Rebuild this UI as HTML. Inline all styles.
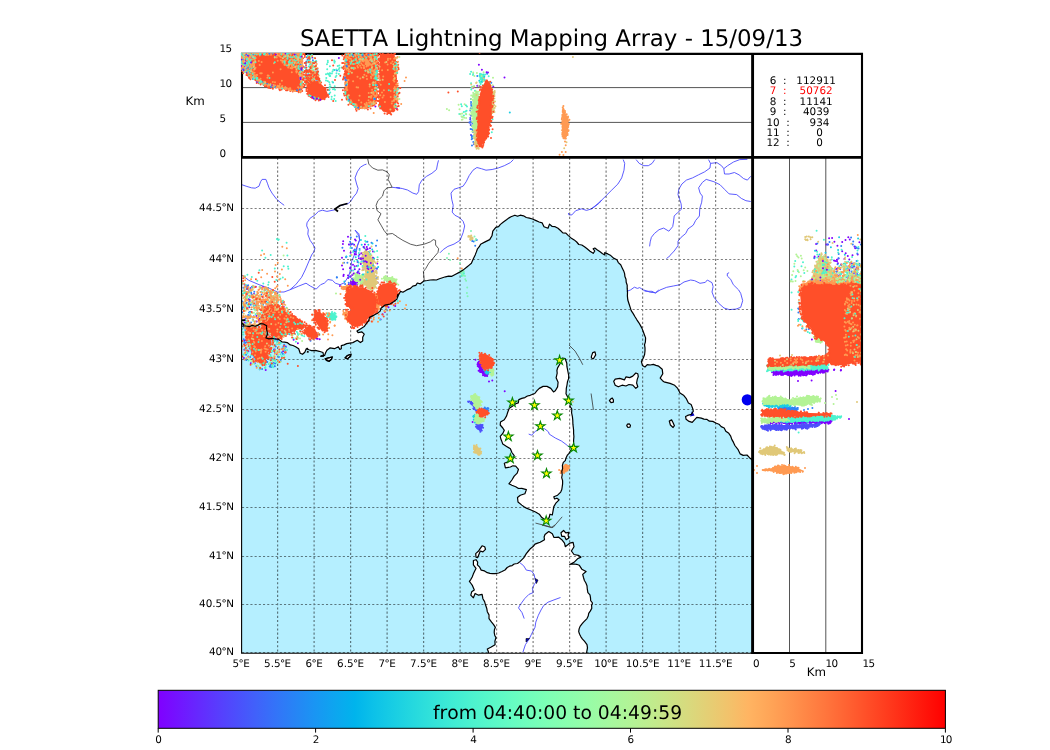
<!DOCTYPE html>
<html><head><meta charset="utf-8"><title>SAETTA Lightning Mapping Array</title>
<style>
html,body{margin:0;padding:0;background:#fff;}
body{width:1050px;height:750px;overflow:hidden;}
svg{display:block;}
text{font-family:"DejaVu Sans","Liberation Sans",sans-serif;fill:#000;font-kerning:none;text-rendering:geometricPrecision;}
.t{font-size:10.4px;}
.n{letter-spacing:-0.7px;}
</style></head><body>
<svg width="1050" height="750" viewBox="0 0 1050 750">
<rect width="1050" height="750" fill="#fff"/>
<defs><linearGradient id="rb" x1="0" x2="1" y1="0" y2="0"><stop offset="0.000" stop-color="#8000ff"/><stop offset="0.025" stop-color="#7314ff"/><stop offset="0.050" stop-color="#6628fe"/><stop offset="0.075" stop-color="#593cfd"/><stop offset="0.100" stop-color="#4c4ffc"/><stop offset="0.125" stop-color="#4062fa"/><stop offset="0.150" stop-color="#3374f8"/><stop offset="0.175" stop-color="#2685f5"/><stop offset="0.200" stop-color="#1996f3"/><stop offset="0.225" stop-color="#0da6ef"/><stop offset="0.250" stop-color="#00b4ec"/><stop offset="0.275" stop-color="#0dc2e8"/><stop offset="0.300" stop-color="#19cee3"/><stop offset="0.325" stop-color="#26d9de"/><stop offset="0.350" stop-color="#33e3d9"/><stop offset="0.375" stop-color="#40ecd4"/><stop offset="0.400" stop-color="#4df3ce"/><stop offset="0.425" stop-color="#59f8c8"/><stop offset="0.450" stop-color="#66fcc2"/><stop offset="0.475" stop-color="#73febb"/><stop offset="0.500" stop-color="#80ffb4"/><stop offset="0.525" stop-color="#8cfead"/><stop offset="0.550" stop-color="#99fca6"/><stop offset="0.575" stop-color="#a6f89e"/><stop offset="0.600" stop-color="#b2f396"/><stop offset="0.625" stop-color="#bfec8e"/><stop offset="0.650" stop-color="#cce385"/><stop offset="0.675" stop-color="#d9d97d"/><stop offset="0.700" stop-color="#e5ce74"/><stop offset="0.725" stop-color="#f2c26b"/><stop offset="0.750" stop-color="#ffb462"/><stop offset="0.775" stop-color="#ffa658"/><stop offset="0.800" stop-color="#ff964f"/><stop offset="0.825" stop-color="#ff8545"/><stop offset="0.850" stop-color="#ff743c"/><stop offset="0.875" stop-color="#ff6232"/><stop offset="0.900" stop-color="#ff4f28"/><stop offset="0.925" stop-color="#ff3c1e"/><stop offset="0.950" stop-color="#ff2814"/><stop offset="0.975" stop-color="#ff140a"/><stop offset="1.000" stop-color="#ff0000"/></linearGradient><clipPath id="cm"><rect x="242" y="158" width="510" height="495"/></clipPath><clipPath id="ct"><rect x="241" y="53" width="511" height="104"/></clipPath><clipPath id="cr"><rect x="753" y="158" width="109" height="495"/></clipPath></defs>
<rect x="241.6" y="157.4" width="511" height="495.6" fill="#b5efff"/>
<g clip-path="url(#cm)">
<path d="M241.0 157.0L240.3 326.6L255.2 326.3L262.9 323.8L266.7 325.8L267.4 334.2L265.9 338.0L278.1 339.1L281.9 341.8L287.2 342.6L290.3 344.9L295.6 346.7L298.7 348.7L300.2 353.2L302.5 354.3L304.8 352.2L306.3 348.7L311.6 350.6L319.2 351.3L323.0 352.5L323.5 355.5L320.8 356.3L324.6 355.5L326.9 350.2L329.9 347.9L334.5 348.7L338.3 346.7L339.8 349.4L341.3 348.7L341.3 345.6L346.7 343.6L352.8 342.6L357.3 340.3L360.4 342.6L362.7 341.0L362.7 337.2L364.2 334.2L361.9 331.9L358.1 332.7L357.0 331.1L360.4 328.9L364.2 326.6L368.8 320.5L369.5 317.4L374.1 315.1L377.9 312.9L381.0 308.3L384.8 305.2L390.1 304.0L393.9 301.4L397.0 299.1L397.7 294.6L397.5 297.5L400.6 291.4L402.9 292.2L406.7 289.9L410.5 288.4L412.8 286.1L415.8 285.3L417.3 283.0L420.4 283.8L424.2 280.8L430.3 280.0L436.4 280.0L442.5 277.7L448.6 276.2L454.7 274.7L459.2 272.4L463.0 270.1L466.9 267.0L471.4 263.2L473.0 259.4L475.2 254.9L477.5 248.8L480.6 244.2L485.1 241.9L489.7 239.6L492.0 235.8L492.8 231.2L495.8 227.4L500.4 224.4L506.5 219.8L511.0 216.8L514.9 215.2L520.2 215.2L526.3 217.5L532.4 219.0L536.1 220.6L542.2 222.9L544.0 226.7L548.0 228.2L549.5 224.1L555.1 226.7L560.5 230.5L562.8 232.8L568.1 235.4L574.2 239.9L578.8 244.5L581.8 245.0L587.1 248.8L593.2 253.3L594.8 251.0L593.2 248.8L594.8 248.0L600.1 251.8L604.7 254.9L604.7 252.6L610.8 255.6L616.9 259.7L620.7 264.8L623.7 270.9L626.0 279.2L627.2 288.4L627.4 296.1L629.0 303.7L631.2 310.6L635.0 316.7L638.9 322.8L641.9 328.1L644.2 334.2L645.4 341.8L645.0 351.0L643.4 357.8L641.4 361.6L642.4 365.4L645.0 367.0L647.2 364.7L653.3 364.4L658.7 366.2L662.2 369.2L662.8 373.8L660.2 378.1L662.5 380.7L664.0 381.8L670.1 383.4L674.7 385.3L677.7 388.4L680.0 393.0L683.5 395.2L686.1 398.3L688.4 402.9L691.1 404.4L692.6 408.2L693.3 411.2L691.4 414.3L687.6 415.4L685.6 416.6L686.1 419.3L689.1 421.4L692.2 422.4L694.5 419.9L696.8 417.3L701.3 418.1L706.7 419.3L712.8 421.4L718.9 424.2L724.2 428.0L728.8 433.3L731.8 439.4L734.9 445.5L737.9 449.3L740.2 453.9L743.2 455.4L747.0 455.0L752.4 460.0L753.0 157.0Z" fill="#fff"/>
<path d="M325.3 358.9L328.4 357.8L332.2 357.0L331.4 359.3L329.1 361.3L326.6 360.4ZM345.1 357.8L347.4 355.5L350.9 354.3L350.5 356.3L347.4 358.9ZM613.7 381.4L615.2 379.1L619.8 378.4L624.4 379.9L625.9 376.9L629.7 377.6L632.8 376.1L635.8 373.0L637.8 373.8L637.3 379.1L636.6 383.0L637.8 386.8L635.8 388.3L632.8 385.2L629.0 384.5L625.9 386.0L622.1 385.2L618.3 386.8L615.2 385.2ZM609.4 400.6L610.7 399.0L612.2 398.0L613.4 399.8L613.4 402.1L611.0 402.6ZM626.7 425.7L627.4 424.2L629.3 423.9L630.5 425.4L629.9 427.2L627.9 427.5ZM669.3 421.1L671.6 419.9L673.1 422.7L674.4 425.7L673.1 427.5L670.4 425.0ZM591.4 356.4L592.7 352.6L595.0 351.9L595.7 354.9L593.4 358.7L591.4 358.0ZM562.2 358.0L559.9 364.0L557.6 367.9L557.2 373.2L556.1 377.8L558.1 382.3L557.6 386.9L555.3 390.7L553.5 391.9L550.8 388.4L547.0 386.4L543.1 386.4L539.3 388.4L537.0 390.7L534.8 393.5L530.2 395.3L524.9 397.6L518.8 399.6L518.3 402.9L515.7 403.8L512.4 406.3L509.3 408.2L507.8 412.0L506.6 415.9L504.3 419.7L500.5 422.0L500.2 425.0L502.8 428.0L504.3 430.3L502.8 433.4L500.2 436.4L501.2 440.2L501.2 439.6L502.8 444.1L506.6 446.4L510.4 448.7L511.9 452.5L514.2 455.6L512.7 459.4L508.1 461.7L504.3 463.2L505.4 467.8L510.4 467.0L515.7 466.2L518.5 469.3L517.2 473.1L514.2 476.1L511.9 480.0L508.9 483.8L511.9 485.3L515.7 486.8L521.8 488.3L526.4 489.6L524.9 493.7L520.3 495.2L517.5 497.5L518.0 502.0L521.8 505.1L526.4 508.1L531.0 510.0L535.5 512.0L539.3 514.2L541.6 517.3L544.7 519.6L547.0 520.3L549.2 517.3L550.0 514.2L552.3 515.0L553.0 511.2L553.8 506.6L556.1 502.8L559.1 499.8L556.9 498.2L554.6 499.0L553.8 496.7L557.6 495.2L560.7 492.1L562.2 486.8L562.6 480.7L562.2 474.6L562.6 468.5L563.3 462.4L566.0 457.9L569.0 453.3L571.3 449.5L573.6 444.1L573.9 436.5L573.6 433.4L572.9 424.2L572.4 416.6L571.8 409.0L570.6 402.9L568.3 398.3L566.0 393.8L566.3 388.4L567.5 381.6L568.7 375.5L567.5 369.4L566.8 363.3L565.2 358.7ZM489.0 654.2L487.3 649.0L490.8 647.3L495.1 644.7L496.0 637.7L494.2 632.5L495.4 627.3L491.6 622.1L489.0 618.6L487.3 611.7L485.5 604.8L482.9 598.7L482.1 594.4L478.6 595.2L475.1 593.5L473.4 597.8L470.8 595.2L471.7 591.8L474.3 590.0L472.5 585.7L469.4 581.4L472.2 577.0L476.0 568.4L473.4 564.9L473.4 560.5L476.0 559.7L477.4 564.9L481.2 570.1L487.3 572.7L495.1 573.6L502.0 571.5L507.2 567.5L514.2 564.0L520.2 561.4L523.7 557.9L526.3 553.6L530.6 548.4L535.0 544.1L540.2 542.3L544.5 539.7L545.0 534.5L548.8 531.6L552.3 533.7L554.0 537.5L558.4 537.1L561.8 539.7L564.5 543.2L565.3 546.7L569.7 543.2L573.1 542.3L574.0 546.7L571.4 551.0L574.0 554.5L578.3 555.3L580.9 557.1L577.5 558.8L574.0 562.3L569.7 564.5L574.0 564.0L579.2 565.2L581.8 569.2L586.1 571.5L582.7 574.4L584.4 580.5L587.0 585.7L587.9 592.6L590.5 597.8L592.5 603.0L591.8 608.2L588.7 613.4L587.0 618.6L583.5 622.1L580.1 626.4L578.7 631.6L580.9 636.8L584.4 641.2L587.0 644.7L586.1 654.2ZM476.0 557.1L475.7 553.6L478.6 551.0L480.3 548.4L482.1 545.8L484.7 546.7L485.5 549.3L482.9 551.9L480.3 551.0L478.6 555.3L477.7 557.6ZM561.0 532.8L563.6 530.5L565.8 532.8L568.8 532.3L568.8 538.0L566.2 539.7L564.5 536.3L561.8 536.3Z" fill="#fff"/>
<path d="M601.6 200.0L599.3 203.0L595.5 206.1L591.0 209.1L586.4 210.4L581.8 208.8L575.7 210.7L571.9 214.9L568.9 214.9L568.4 213.0M623.2 159.6L624.7 163.4L624.0 170.2L621.7 177.9L617.9 184.0L611.8 190.0L605.7 196.1L600.3 201.5L595.0 206.0L591.0 209.1M636.1 159.6L639.2 163.4L643.8 165.7L648.3 165.7L652.1 163.4L654.7 159.6M708.5 159.6L710.5 163.4L710.0 168.0L704.7 171.8L698.6 174.8L692.5 177.9L686.4 180.1L681.9 184.0L678.8 189.3L678.0 194.6L679.6 199.2L681.1 203.8L681.6 209.1L677.3 212.9L674.2 216.0L673.5 222.0L672.7 226.6L668.9 231.2L663.6 228.1L659.0 229.7L654.4 233.5L651.4 237.3L650.2 241.9L649.6 246.4M710.5 163.4L716.9 162.6L721.5 165.7L723.8 168.7L724.5 174.0L729.1 174.0L734.4 172.5L739.0 174.8L743.6 178.6L747.4 180.1L750.7 176.3M723.8 168.7L727.6 165.7L733.7 161.9L739.8 159.6L747.4 159.3M750.7 201.5L745.9 200.7L741.3 198.4L736.7 194.6L729.1 193.9L724.5 189.3L720.0 184.7L713.9 181.7L706.2 179.4L702.4 182.4L698.6 187.8L700.1 193.1L702.4 196.1L701.7 202.2L699.8 208.3L699.4 216.0L695.6 220.5L693.3 225.1L688.0 228.9L685.7 233.5L681.1 237.3L678.0 241.1L678.0 245.7L674.2 251.0L670.4 255.0L670.2 255.6L666.4 258.7M626.8 291.4L630.6 289.9L634.4 287.2L637.4 288.4L639.7 287.6L645.3 291.3L652.0 291.3L655.3 293.1L660.0 290.0L666.7 287.3L673.3 286.0L680.0 284.7L684.0 282.0L690.7 280.0L694.7 280.7L700.0 283.3L705.3 282.4L707.3 280.0L712.0 282.7L713.1 286.7L712.0 292.0L714.0 297.3L718.7 303.3L724.0 308.0L729.3 309.6L736.0 309.1L740.7 307.3L742.7 300.7L740.7 293.3L738.7 290.0L733.3 284.7L730.7 279.3L727.3 276.0L727.3 273.6L729.1 272.7M644.2 290.0L650.3 292.3L655.6 292.7L658.7 290.0M241.8 184.7L246.1 186.2L251.4 187.8L255.2 188.2L259.0 186.2L260.6 181.7L262.1 179.4L265.9 179.4L267.4 183.2L269.0 187.8L272.0 193.1L276.6 199.2L281.1 203.0L284.2 205.3M366.5 164.1L364.2 164.9L360.4 167.2L357.3 171.8L355.0 177.9L356.6 184.0L358.1 188.5L356.6 193.1L353.5 196.9L350.5 201.5L348.2 203.5L339.0 206.0L334.5 209.9L326.9 211.4L322.3 210.2L318.5 211.4L314.7 215.2L310.1 218.2L307.0 222.8L306.7 225.9L308.3 229.7L307.8 234.2L310.1 240.3L312.8 244.1L315.0 248.0L313.9 251.8L311.6 255.0L305.2 270.0L301.6 277.3L295.7 284.7L289.9 289.8L284.0 292.0L277.4 292.0L269.3 288.3L259.1 284.7L248.8 280.3L241.8 275.1M289.9 289.8L298.7 286.1L306.0 283.2L310.4 286.1L316.2 289.1L320.6 284.7L324.3 283.2L328.0 279.5L332.4 280.3L335.3 283.2L340.0 284.7L344.2 282.9L348.6 276.3L350.8 269.0L351.5 261.7L355.2 252.9L357.4 245.5L359.6 239.7L358.9 233.8L355.2 230.1M355.0 230.0L356.6 232.7L358.9 235.8L359.6 240.3L357.3 246.4L355.8 255.0M392.1 187.3L400.0 188.2L396.1 187.5L402.2 188.5L407.5 190.0L412.9 193.1L416.7 194.3L418.6 191.6L419.3 184.7L422.0 180.1L426.6 176.3L431.9 173.3L436.5 169.5L437.5 164.1L438.5 160.3M513.4 159.6L510.4 162.6L504.3 165.7L498.2 168.0L492.1 169.5L486.0 170.2L481.4 168.7L476.9 167.5L473.0 170.2L469.2 175.6L466.2 181.7L463.1 186.2L458.6 187.8L454.0 189.3L451.0 193.1L451.7 199.2L453.2 205.3L452.2 212.1L454.8 215.2L459.3 217.5L463.1 221.3L464.7 225.9L463.1 232.7L460.1 240.3L454.0 244.1L447.9 246.4L443.3 249.5L440.3 252.5L440.2 252.1M528.7 434.1L531.7 435.2L535.5 431.1L540.1 428.5L544.7 428.8L548.5 431.9L549.2 434.1L555.3 438.0L561.4 441.0L566.0 444.4L567.5 445.7L571.3 448.7M519.4 562.3L523.7 565.8L526.3 570.1L531.5 571.0L534.1 574.4L535.0 578.8L536.2 581.4L534.1 584.8L532.4 588.3L533.2 592.6L528.9 594.4L524.6 598.7L520.2 604.8L518.5 607.9L522.0 612.6L524.2 618.6M560.5 597.5L554.0 599.9L548.0 602.2L543.6 605.6L541.0 610.0L538.4 615.2L535.8 622.1L535.0 627.3L531.5 634.2L528.9 639.5L525.4 644.7L522.8 652.5" fill="none" stroke="#4a4aff" stroke-width="0.9" stroke-linejoin="round"/>
<path d="M367.7 158.8L368.8 164.1L372.6 168.0L377.9 170.2L382.5 169.9L387.0 171.8L389.3 174.8L388.1 179.4L390.1 183.2L392.1 187.3L387.0 187.8L384.0 190.8L382.5 196.1L377.9 200.7L376.1 205.3L377.1 210.6L381.0 213.7L377.9 219.8L381.0 225.1L384.0 230.4L387.0 234.2L392.4 233.5L397.0 236.5L396.8 236.6L402.9 240.4L410.5 244.2L416.6 245.7L424.2 244.2L430.3 241.9L433.3 239.6L435.6 240.4L435.6 245.0L438.7 248.8L437.9 252.6L433.3 257.9L428.8 263.2L425.7 268.6L423.4 271.6L424.2 280.0M569.0 345.0L575.1 351.1L579.7 358.7L582.8 364.8M591.1 393.5L593.4 409.8M535.5 523.1L553.0 527.5L562.2 516.8M541.9 525.0L551.4 527.6L554.9 525.0" fill="none" stroke="#333" stroke-width="0.8" stroke-linejoin="round"/>
<circle cx="747.3" cy="399.8" r="5.6" fill="#0000f0"/><path d="M692 411l2.5 4.5l-4.5 1z" fill="#0000c0"/><path d="M347.5 203.5L340 205.5L335 209L338 211.5" fill="none" stroke="#000" stroke-width="1.8"/><path d="M535 578.5l3 1.5l-1.5 3.5zM526 638.5l3.5 0l-3.5 3.5z" fill="#00c" stroke="#000" stroke-width="0.6"/>
</g>
<path d="M277.6 158V653M314.1 158V653M350.6 158V653M387.1 158V653M423.6 158V653M460.1 158V653M496.6 158V653M533.1 158V653M569.6 158V653M606.1 158V653M642.6 158V653M679.1 158V653M715.6 158V653M242 652.5H752M242 604.5H752M242 556.5H752M242 507.5H752M242 458.5H752M242 409.5H752M242 359.5H752M242 309.5H752M242 259.5H752M242 208.5H752" stroke="#000" stroke-width="1.2" stroke-dasharray="2.1 2.1" fill="none" opacity="0.5"/>
<path d="M242 87.6H752M242 122.4H752M789.5 158V653M825.8 158V653" stroke="#555" stroke-width="1" fill="none"/>
<g clip-path="url(#cm)" fill="none" stroke-width="2" stroke-linecap="round">
<path d="M249.3 307.2h0M253.9 293.8h0M244.4 323.0h0M253.3 328.9h0M256.7 310.1h0M255.8 286.7h0M246.2 318.0h0M248.7 299.2h0M249.3 300.3h0M249.0 325.4h0M244.4 320.4h0M249.2 318.0h0M250.2 302.0h0M245.9 303.5h0M252.8 327.9h0M246.8 293.5h0M245.6 318.6h0M247.2 307.7h0M244.5 284.5h0M251.5 328.2h0M247.1 286.1h0M250.5 287.9h0M247.5 288.8h0M249.8 300.0h0M248.8 289.8h0M252.0 287.4h0" stroke="#8000ff"/>
<path d="M263.3 319.1h0M283.6 302.5h0M257.6 303.6h0M264.2 314.5h0M256.2 327.4h0M256.7 321.4h0M270.2 304.3h0M266.0 306.5h0M277.4 301.2h0M263.0 297.3h0M283.7 306.8h0M256.4 316.1h0M262.8 308.1h0M259.1 318.8h0M263.1 287.1h0M266.1 317.4h0M259.5 320.6h0M273.4 298.1h0" stroke="#8000ff"/>
<path d="M263.1 332.6h0M285.6 352.4h0M257.9 340.8h0M264.9 334.3h0M253.6 330.1h0M250.8 363.2h0M263.5 344.9h0M270.6 334.2h0M243.9 357.9h0M265.0 351.0h0M246.4 339.9h0M267.2 349.1h0M283.1 351.2h0M261.9 339.3h0M256.3 356.2h0M285.7 346.5h0M274.8 351.7h0M252.8 339.7h0M265.9 356.7h0M270.4 332.2h0M246.0 339.8h0M263.6 335.5h0M248.4 351.3h0M261.0 352.0h0M254.9 363.3h0M251.8 352.0h0M244.4 349.8h0M267.7 330.9h0M244.4 340.5h0M284.8 350.6h0M270.4 333.2h0M275.6 339.0h0M254.0 349.0h0M248.4 335.2h0M276.9 354.2h0M274.9 349.6h0M253.9 332.0h0M266.9 352.1h0M263.9 332.7h0M263.8 356.9h0" stroke="#8000ff"/>
<path d="M309.7 335.1h0M319.7 339.2h0M293.6 339.7h0M295.1 333.9h0M317.6 338.8h0M289.6 334.2h0M316.3 338.5h0M309.0 338.6h0M316.6 332.9h0" stroke="#8000ff"/>
<path d="M265.7 370.1h0M340.0 286.1h0M297.9 343.3h0" stroke="#8000ff"/>
<path d="M350.8 280.7L351.5 285.1L355.9 285.9L356.7 282.2L353.7 280.0Z" fill="#8000ff"/>
<path d="M352.3 278.7h0M356.5 286.2h0M354.8 285.2h0M357.2 282.7h0M353.8 280.2h0M353.5 286.5h0M352.1 279.2h0M355.0 285.7h0M353.9 279.3h0M350.6 283.1h0M351.1 280.9h0M357.2 284.5h0M352.2 284.4h0M352.0 284.6h0M354.5 285.2h0M352.7 281.0h0M351.6 285.3h0" stroke="#8000ff"/>
<path d="M353.4 279.6h0M372.8 264.0h0M371.8 261.3h0M374.8 268.6h0M354.9 249.6h0M360.8 285.8h0M363.2 269.5h0M343.2 241.3h0M366.8 255.7h0M365.5 251.7h0M377.3 263.4h0M372.2 264.6h0M377.7 282.6h0M348.9 244.5h0M348.0 275.5h0M352.2 279.0h0M372.3 264.0h0M359.5 254.4h0M363.4 258.5h0M350.4 244.2h0M355.8 240.6h0M344.0 250.7h0M350.6 276.5h0M351.6 244.3h0M343.7 274.8h0M342.0 257.8h0M343.4 276.0h0M348.8 284.3h0M374.2 282.4h0M355.3 283.4h0M362.8 255.0h0M348.2 277.9h0M354.7 266.3h0M354.1 244.7h0M350.3 267.6h0M376.9 268.8h0M361.5 259.6h0M374.8 278.4h0M358.3 271.4h0M342.0 265.5h0M342.9 244.0h0M364.2 255.8h0M359.4 269.3h0M366.8 247.1h0M353.0 264.7h0M350.0 268.3h0M343.1 269.3h0M362.0 283.0h0M355.0 239.5h0M358.9 258.2h0M355.9 254.6h0M365.1 282.1h0M370.0 248.2h0M356.9 265.9h0M348.0 236.7h0M373.9 279.0h0M359.3 273.5h0M350.6 252.8h0M364.9 244.5h0M351.6 270.6h0M354.8 251.6h0M361.3 253.2h0M352.2 275.1h0" stroke="#8000ff"/>
<path d="M395.2 305.9h0M380.6 319.5h0M388.5 307.2h0M382.6 314.2h0M385.0 312.1h0" stroke="#8000ff"/>
<path d="M477.4 362.6L479.0 369.0L482.2 373.8L487.1 376.2L488.7 373.8L484.6 371.4L481.4 367.4L479.8 362.6Z" fill="#8000ff"/>
<path d="M480.6 371.0h0M484.1 375.0h0M478.6 366.7h0M481.5 372.0h0M485.4 371.9h0M482.8 373.6h0M485.7 375.8h0M481.0 371.1h0M482.0 367.7h0M480.5 369.7h0M477.5 364.2h0M487.2 373.6h0M477.7 365.9h0M478.1 362.6h0M484.8 375.7h0M482.7 369.4h0M488.2 373.5h0M487.0 373.0h0M484.9 376.0h0M479.8 370.0h0M487.2 372.9h0M483.0 375.2h0M483.6 370.4h0M478.6 370.7h0M479.7 364.6h0M488.3 373.5h0M481.4 365.0h0M480.9 366.4h0M480.1 371.9h0M485.8 375.3h0M487.2 375.9h0M486.5 371.9h0M479.0 361.6h0M477.8 364.1h0" stroke="#8000ff"/>
<path d="M475.5 359.7h0M489.0 381.5h0M492.3 380.6h0M504.7 391.2h0" stroke="#8000ff"/>
<path d="M472.6 421.9h0" stroke="#8000ff"/>
<path d="M468.6 401.1L471.0 403.5L474.2 408.3L476.6 410.7L475.0 407.5L471.8 401.9Z" fill="#4d4ffc"/>
<path d="M470.0 401.3h0M471.1 401.7h0M474.4 406.3h0M471.0 401.4h0M468.1 401.6h0M477.0 411.2h0M475.6 409.0h0M472.5 404.9h0M475.0 405.7h0M474.6 407.9h0M471.9 404.2h0M472.3 403.0h0M470.6 403.4h0M468.4 402.0h0M470.8 402.8h0M476.2 410.8h0M476.2 410.0h0M473.8 408.2h0M473.3 408.5h0M474.8 409.1h0M472.6 405.2h0M475.6 410.0h0M472.9 403.6h0" stroke="#4d4ffc"/>
<path d="M476.6 424.3L476.6 428.3L479.8 431.2L482.2 428.3L483.0 425.1L480.6 423.5Z" fill="#4d4ffc"/>
<path d="M476.5 424.5h0M481.1 429.6h0M482.4 427.4h0M476.3 424.5h0M482.4 427.0h0M477.7 424.7h0M480.6 429.4h0M482.6 425.1h0M476.4 426.8h0M480.6 429.0h0M477.8 428.5h0M476.9 424.1h0M478.5 424.5h0M480.4 431.8h0M483.1 427.8h0M475.9 426.8h0M481.8 430.4h0M477.2 428.2h0M480.7 430.7h0M478.2 429.1h0" stroke="#4d4ffc"/>
<path d="M243.5 290.8h0M245.4 330.0h0M242.3 308.3h0M247.5 298.6h0M254.3 291.8h0M243.4 287.7h0M246.7 302.7h0M255.7 305.0h0M250.1 311.7h0M245.7 285.4h0M252.9 319.5h0M246.5 289.0h0M256.6 306.0h0M251.1 292.4h0M251.3 293.8h0M247.0 287.1h0M246.8 294.1h0M249.0 306.5h0M248.1 285.2h0M256.4 301.9h0M245.2 327.8h0M248.2 314.9h0M249.2 301.5h0M246.0 322.4h0M249.4 325.4h0M246.1 322.9h0M243.5 326.1h0M249.0 331.1h0M244.1 327.7h0M242.8 307.2h0M244.1 306.7h0M242.5 301.6h0M249.8 324.3h0M252.5 295.0h0M253.2 304.0h0M251.0 322.5h0M250.1 315.3h0M250.6 316.9h0M242.8 321.0h0M253.8 316.3h0M242.3 312.2h0M250.0 302.8h0M248.0 316.2h0M249.0 312.4h0M254.7 328.3h0M253.6 306.1h0M252.0 286.7h0M250.8 304.8h0" stroke="#2f80f7"/>
<path d="M266.2 301.6h0M263.3 314.1h0M265.1 289.7h0M269.1 292.3h0M266.2 296.4h0M263.1 304.0h0M260.7 318.1h0M268.9 307.8h0M268.1 302.7h0M261.1 303.4h0M263.0 317.9h0M263.5 306.6h0M281.7 302.0h0M276.3 299.7h0M272.8 310.1h0M264.7 308.4h0M268.2 288.0h0M277.2 307.3h0M261.4 294.6h0M274.1 298.8h0" stroke="#2f80f7"/>
<path d="M251.1 335.6h0M275.2 352.9h0M273.9 349.5h0M264.3 344.7h0M247.2 335.4h0M273.6 362.9h0M277.7 341.1h0M274.6 366.2h0M250.2 357.0h0M256.0 360.8h0M274.8 345.1h0M274.9 366.3h0M270.5 357.4h0M245.3 348.8h0M262.7 361.7h0M246.9 340.6h0M281.8 352.4h0M271.1 366.9h0M253.4 355.4h0M271.5 351.3h0M265.0 351.7h0M283.0 354.1h0M255.4 337.2h0M246.4 350.5h0M269.7 342.6h0M259.1 353.8h0M265.8 357.5h0M270.6 344.2h0M267.2 362.1h0M285.6 347.3h0M268.4 334.8h0M263.9 353.6h0M244.6 359.3h0M270.6 363.7h0M256.2 337.7h0M256.5 343.6h0M268.2 342.9h0M271.2 332.9h0M254.6 351.9h0M284.1 358.6h0M260.2 344.5h0M256.4 365.9h0M249.7 348.4h0M246.0 354.7h0M250.6 343.2h0M270.4 365.5h0M275.9 339.7h0M246.3 360.1h0M259.5 351.3h0M262.1 368.9h0M263.7 338.6h0M255.1 348.8h0M269.7 366.5h0M259.8 367.8h0M248.2 356.6h0M262.9 351.8h0M250.7 336.7h0M278.9 357.1h0M267.6 333.0h0M264.8 346.9h0M259.1 342.7h0M271.3 351.9h0M270.0 340.7h0M244.3 342.1h0M257.0 338.0h0M252.8 349.3h0M269.1 346.7h0M272.0 359.7h0M277.5 343.7h0M272.5 359.3h0M275.1 363.5h0M246.0 342.5h0M271.1 332.3h0M248.8 346.3h0M259.0 337.1h0M280.6 361.1h0M275.7 346.4h0M260.0 328.9h0M254.3 357.4h0M246.5 340.3h0M259.7 369.3h0M266.1 360.9h0M282.3 348.5h0M270.5 340.0h0M243.7 339.3h0M255.9 357.6h0M244.6 344.1h0M271.8 363.4h0M284.2 344.8h0M268.2 339.8h0M255.2 354.2h0M264.7 336.2h0M283.4 346.5h0" stroke="#2f80f7"/>
<path d="M310.5 340.7h0M305.8 327.9h0M312.2 332.2h0M313.0 332.8h0" stroke="#2f80f7"/>
<path d="M336.8 277.3h0" stroke="#2f80f7"/>
<path d="M350.3 244.8h0M371.5 242.8h0M350.1 241.8h0M372.3 280.7h0M376.0 245.8h0M359.6 249.0h0M348.7 282.7h0M377.1 268.2h0M356.8 236.5h0M368.5 252.0h0M345.1 284.0h0M370.7 270.2h0M352.7 243.7h0M346.1 257.3h0M358.1 271.5h0M351.9 248.1h0M344.0 262.8h0M352.7 279.1h0M375.8 279.1h0M347.4 262.8h0M356.6 273.6h0M376.3 270.9h0M369.1 283.1h0M358.9 276.4h0M364.5 248.3h0M367.4 241.7h0M368.3 262.3h0M349.4 276.8h0M377.1 240.4h0M358.6 256.0h0M350.8 237.4h0M377.3 277.8h0M346.4 256.7h0M342.4 247.7h0M375.3 276.1h0M371.3 280.2h0M372.4 270.4h0" stroke="#2f80f7"/>
<path d="M336.9 277.5h0" stroke="#2f80f7"/>
<path d="M482.2 408.3L483.8 411.5L487.9 410.7L487.9 407.8L484.6 407.5Z" fill="#2f80f7"/>
<path d="M488.4 410.7h0M482.9 410.0h0M488.4 408.4h0M486.0 411.0h0M484.8 407.5h0M485.4 411.8h0M483.1 410.5h0M488.0 408.8h0M481.7 409.6h0M487.1 410.7h0M484.2 410.8h0M485.8 410.5h0M487.9 408.0h0M482.2 410.2h0" stroke="#2f80f7"/>
<path d="M472.2 241.1h0M475.2 245.7h0M473.7 241.4h0M476.8 239.9h0" stroke="#2f80f7"/>
<path d="M346.3 256.4h0M360.9 239.9h0M363.4 247.1h0M344.4 281.4h0M368.3 244.7h0M369.5 263.3h0M372.0 276.9h0M369.4 252.1h0M361.7 244.7h0M350.1 256.1h0M358.1 265.6h0M366.0 241.7h0M364.1 264.6h0M372.5 243.5h0M378.2 267.1h0M372.2 249.6h0M355.7 257.2h0" stroke="#1acee3"/>
<path d="M484.6 370.6L487.1 373.8L489.5 372.2L488.7 369.8Z" fill="#1acee3"/>
<path d="M486.6 370.7h0M490.2 372.3h0M486.0 370.7h0M486.4 373.6h0M484.2 370.3h0M486.8 373.4h0M488.6 370.1h0M485.4 372.6h0M485.9 370.7h0M486.3 371.9h0M487.2 372.6h0M488.0 373.4h0" stroke="#1acee3"/>
<path d="M473.9 415.5L474.2 421.6L475.5 421.9L475.5 415.5Z" fill="#1acee3"/>
<path d="M474.1 416.3h0M475.2 418.4h0M475.6 415.9h0M475.0 422.6h0M474.0 417.1h0M473.6 416.0h0M476.4 419.5h0M474.5 417.5h0M473.8 419.8h0M474.9 414.8h0M473.8 417.0h0M474.6 415.2h0M473.2 416.6h0M474.4 417.7h0" stroke="#1acee3"/>
<path d="M257.3 280.7h0M244.9 276.3h0M263.3 283.6h0M276.3 280.0h0M280.4 278.8h0M251.8 277.1h0M259.4 270.3h0M247.4 274.7h0M282.8 277.5h0M268.2 284.7h0M268.7 282.2h0" stroke="#4df3ce"/>
<path d="M270.7 255.1h0M287.4 255.6h0M288.0 266.6h0M274.8 268.6h0M278.2 239.9h0M265.4 257.7h0M276.9 239.0h0M286.6 242.8h0M278.8 239.4h0M262.1 250.6h0M283.7 266.3h0M288.4 268.7h0" stroke="#4df3ce"/>
<path d="M253.5 300.8h0M251.5 328.7h0M253.2 320.8h0M245.9 284.9h0M244.3 304.3h0M244.4 293.0h0M242.6 295.4h0M247.0 298.6h0M246.6 309.3h0M245.2 325.7h0M243.0 291.2h0M245.7 317.4h0M250.4 296.6h0M242.7 283.4h0M251.1 302.9h0M244.5 308.5h0M245.4 291.9h0M242.7 294.1h0M243.3 305.7h0M248.4 306.0h0M245.3 292.4h0M251.7 288.0h0M244.0 324.0h0M255.6 314.2h0M249.3 317.8h0M245.5 299.8h0M253.2 295.9h0M243.4 293.6h0M247.3 321.8h0M245.7 306.5h0M249.0 292.3h0M248.5 330.0h0M250.0 313.1h0M249.7 297.5h0M245.2 306.4h0M253.9 307.9h0M254.1 305.5h0M247.0 296.1h0M249.3 289.2h0M249.8 291.8h0M249.5 296.1h0M248.5 304.9h0M250.6 316.2h0M253.6 285.9h0M246.0 298.5h0M247.7 304.4h0M250.3 317.9h0M247.1 327.8h0M245.9 297.8h0M256.8 298.1h0M248.3 321.8h0M254.3 309.5h0M245.8 320.6h0M247.6 320.9h0M245.1 325.1h0M243.4 304.0h0M243.1 303.5h0M248.0 292.2h0M252.1 327.4h0M243.5 305.6h0" stroke="#4df3ce"/>
<path d="M275.6 309.6h0M287.3 311.1h0M257.5 308.8h0M273.3 296.0h0M270.3 297.0h0M271.8 307.7h0M257.8 314.8h0M279.5 295.0h0M280.0 305.7h0M270.7 294.3h0M266.6 310.1h0M264.0 312.5h0M278.1 304.4h0M257.1 313.2h0M267.7 288.9h0M274.9 299.5h0M270.5 308.8h0M260.6 310.3h0M268.0 295.8h0M272.9 305.0h0M261.6 319.1h0M283.0 300.7h0M263.2 306.5h0M259.3 314.3h0M263.4 319.1h0M258.1 314.5h0M256.2 304.2h0M277.8 300.3h0M275.9 293.2h0M256.1 327.7h0M266.0 316.1h0M261.5 312.5h0M271.3 291.4h0M261.5 317.2h0M286.6 307.8h0M269.5 294.6h0M256.4 309.7h0M263.9 302.3h0M274.8 296.8h0M267.2 291.0h0M270.6 302.3h0M266.2 289.0h0M259.4 316.3h0M264.2 290.1h0M269.9 310.9h0M263.0 306.3h0M259.5 321.5h0M259.7 286.5h0M259.8 322.6h0M266.7 313.2h0M265.9 303.5h0M279.6 296.0h0M266.5 311.4h0M269.8 298.6h0M266.6 292.4h0M268.2 291.6h0M256.3 294.5h0M264.9 289.3h0M261.6 291.8h0M271.5 312.1h0M263.5 308.4h0M265.6 316.5h0M263.7 315.5h0M267.9 302.4h0M284.8 309.3h0M270.4 295.1h0M271.6 297.1h0M260.7 288.1h0M261.1 319.8h0M265.9 313.8h0M277.7 302.0h0M266.7 310.3h0M273.2 292.1h0M272.2 306.6h0M282.3 302.8h0M258.2 306.8h0M287.2 312.0h0M274.7 307.2h0M257.4 306.9h0" stroke="#4df3ce"/>
<path d="M255.9 333.2h0M244.2 354.4h0M272.7 359.7h0M274.3 337.7h0M254.8 342.9h0M263.2 363.7h0M252.5 353.7h0M261.2 348.3h0M271.9 365.6h0M260.8 358.8h0M248.5 360.5h0M250.2 343.8h0M259.2 357.6h0M250.7 350.4h0M272.5 366.6h0M242.2 329.1h0M266.4 356.2h0M247.3 353.2h0M275.6 344.7h0M252.1 350.3h0M283.9 354.7h0M264.4 351.0h0M277.9 355.6h0M280.8 342.9h0M265.6 348.8h0M270.4 363.1h0M270.7 350.4h0M273.8 341.6h0M274.4 341.3h0M265.4 333.7h0M267.9 346.1h0M266.6 334.0h0M260.0 358.4h0M265.2 335.5h0M243.1 332.2h0M247.4 351.8h0M265.2 331.5h0M279.6 344.2h0M274.0 360.6h0M261.0 347.6h0M248.9 345.0h0M281.8 356.2h0M260.3 338.7h0M261.1 341.8h0M272.9 351.3h0M266.8 352.4h0M254.5 363.5h0M256.2 357.1h0M284.7 350.5h0M272.9 339.5h0M260.3 363.5h0M266.6 339.5h0M270.7 356.3h0M264.8 333.2h0M275.3 360.8h0M255.8 338.3h0M272.1 333.4h0M270.4 348.8h0M256.7 356.1h0M261.8 364.4h0M266.1 336.6h0M273.5 364.2h0M266.1 364.5h0M273.1 367.2h0M243.4 354.5h0M247.4 332.5h0M262.1 336.4h0M245.9 331.7h0M265.2 340.6h0M275.0 340.5h0M263.5 342.9h0M256.2 342.6h0M269.6 346.8h0M258.3 332.9h0M276.8 362.8h0M260.1 350.0h0M270.0 345.0h0M262.9 332.6h0M269.5 334.3h0M255.9 350.1h0M270.6 360.2h0M265.3 353.7h0M256.5 345.2h0M269.0 357.7h0M266.6 330.8h0M255.5 342.6h0M272.1 350.9h0M245.2 348.7h0M282.0 356.4h0M267.8 353.9h0M266.8 335.3h0M259.7 331.6h0M260.3 346.0h0M273.7 356.5h0M257.0 335.6h0M256.8 340.0h0M265.4 367.3h0M252.0 341.1h0M268.7 364.0h0M270.4 354.8h0M264.9 367.7h0M265.3 368.3h0M272.6 337.3h0M254.7 335.9h0M258.4 332.5h0M274.5 360.3h0M287.0 350.1h0M268.9 343.7h0M251.0 355.2h0M249.3 340.7h0M263.7 351.2h0M280.5 354.2h0M260.2 334.6h0M258.1 347.1h0M263.3 358.6h0M285.3 348.1h0M255.0 350.2h0M243.2 334.6h0M259.0 343.8h0M275.5 360.7h0M259.9 369.2h0M266.1 346.7h0M276.9 342.1h0M260.4 358.8h0M249.0 335.2h0" stroke="#4df3ce"/>
<path d="M328.0 314.0L329.4 319.9L333.8 320.6L336.8 316.9L334.6 313.3L330.9 312.8Z" fill="#4df3ce"/>
<path d="M332.1 312.0h0M336.1 316.4h0M336.4 316.4h0M335.2 319.7h0M336.3 316.9h0M327.9 313.3h0M327.4 314.1h0M332.1 319.7h0M326.8 316.6h0M329.9 318.8h0M329.4 316.8h0M335.4 318.9h0M334.0 318.8h0M328.4 315.5h0M327.2 317.4h0M335.6 313.7h0M329.3 317.3h0M331.8 313.2h0M330.2 314.9h0M334.5 312.8h0M329.4 316.3h0M329.8 319.0h0M328.7 315.0h0" stroke="#4df3ce"/>
<path d="M309.9 331.1h0M297.8 333.2h0M304.2 336.2h0M302.2 335.4h0M319.3 334.1h0M319.4 335.1h0M316.4 334.0h0M308.1 329.4h0M307.0 328.7h0M312.0 337.9h0M310.3 335.1h0M313.2 336.4h0M313.0 338.7h0M293.5 338.3h0M301.4 334.8h0M310.6 331.6h0M295.9 341.7h0M298.0 335.0h0M298.0 334.8h0M300.1 330.6h0M296.7 331.8h0M312.6 334.7h0" stroke="#4df3ce"/>
<path d="M374.9 267.4h0M377.1 251.1h0M353.1 252.1h0M365.3 236.1h0M350.5 270.5h0M365.2 240.9h0M377.6 257.3h0M357.6 266.2h0M350.4 248.0h0M362.7 274.8h0M358.9 253.0h0M354.5 267.7h0M366.7 256.3h0M367.1 271.2h0" stroke="#4df3ce"/>
<path d="M380.0 320.1h0M397.8 301.1h0" stroke="#4df3ce"/>
<path d="M474.5 236.6h0M476.0 238.9h0M471.0 230.9h0M475.2 240.4h0M448.9 253.8h0M447.0 257.9h0M450.1 259.9h0M460.0 262.9h0M466.1 280.8h0M467.2 287.6h0M466.9 293.0h0M467.6 296.3h0M465.3 279.2h0" stroke="#80f5b4"/>
<path d="M462.7 270.7h0M460.0 270.8h0M462.3 270.7h0M462.0 274.5h0M460.8 272.6h0M463.6 275.3h0M465.0 276.0h0M462.0 271.2h0M463.7 272.0h0M463.7 271.3h0M461.9 273.0h0M462.9 275.7h0" stroke="#80f5b4"/>
<path d="M461.4 275.9h0M463.9 273.6h0" stroke="#4df3ce"/>
<path d="M283.6 255.6h0" stroke="#b3f396"/>
<path d="M246.5 300.0h0M248.7 293.2h0M246.8 324.2h0M250.7 302.2h0M257.1 306.4h0M245.5 304.2h0M250.5 291.3h0M247.2 298.1h0M247.9 316.7h0M245.1 301.6h0M244.4 317.1h0M245.1 304.9h0M255.2 310.4h0M254.4 326.6h0M255.3 309.9h0M250.3 302.8h0M247.5 324.1h0M253.9 312.7h0" stroke="#b3f396"/>
<path d="M278.9 295.4h0M264.2 291.6h0M273.6 303.6h0M262.3 320.3h0M276.9 309.3h0M265.1 318.4h0M283.7 309.4h0M276.4 307.9h0M263.2 315.0h0M278.5 295.7h0M273.2 301.3h0" stroke="#b3f396"/>
<path d="M277.6 350.5h0M275.9 351.8h0M278.2 362.5h0M259.9 363.2h0M258.3 366.1h0M263.0 337.0h0M269.6 362.9h0M279.1 342.5h0M247.2 347.0h0M257.2 365.2h0M260.3 351.2h0M259.0 332.4h0M266.9 346.3h0M274.3 355.7h0M262.5 352.7h0M261.0 342.7h0M277.3 343.8h0M269.3 346.2h0M258.4 357.2h0M266.9 340.5h0M247.3 337.0h0M283.6 358.8h0M258.9 331.8h0M265.5 338.3h0M272.2 338.4h0M268.6 354.0h0M276.0 352.9h0M251.6 347.0h0M273.6 347.2h0M262.0 330.5h0M284.7 357.2h0M260.8 363.5h0M265.3 361.9h0M255.6 360.4h0M257.7 357.3h0M272.9 361.2h0M249.2 358.9h0M260.6 363.2h0M249.1 341.7h0M264.4 359.8h0M273.9 356.7h0M244.6 353.5h0M252.5 364.1h0M278.3 354.7h0M262.9 330.9h0M270.1 338.2h0M248.7 336.3h0M265.5 332.8h0M280.6 361.7h0M251.2 361.1h0M268.8 354.1h0M248.1 331.8h0M257.9 358.4h0M265.5 352.8h0M257.1 355.8h0M271.1 351.6h0M260.3 367.8h0M252.3 344.1h0" stroke="#b3f396"/>
<path d="M298.1 338.1h0M296.1 338.1h0M300.0 338.6h0M299.7 334.0h0M306.8 327.4h0M293.5 333.6h0M309.2 338.5h0M306.4 327.6h0M297.5 338.9h0M294.9 333.9h0M297.3 336.0h0M290.8 334.8h0M292.5 335.3h0M302.1 341.0h0M317.8 335.6h0M312.8 333.6h0" stroke="#b3f396"/>
<path d="M336.0 293.5h0M328.0 327.9h0" stroke="#b3f396"/>
<path d="M355.2 273.4L353.7 280.7L362.5 283.7L364.0 276.3Z" fill="#b3f396"/>
<path d="M358.1 283.8h0M360.8 277.9h0M355.2 279.0h0M356.5 280.9h0M356.6 274.3h0M356.2 273.7h0M362.4 274.9h0M353.6 274.8h0M356.2 279.5h0M364.5 276.7h0M363.3 281.9h0M357.9 275.1h0M364.0 282.1h0M363.2 275.2h0M361.4 275.2h0M355.0 279.8h0M353.6 278.3h0M364.2 274.2h0M355.0 280.2h0M360.1 284.1h0M360.8 284.0h0M351.4 280.2h0M354.6 273.3h0M361.6 274.9h0M362.5 276.7h0M355.7 276.1h0M362.8 284.2h0M363.2 282.4h0M364.9 275.7h0M362.3 282.5h0" stroke="#b3f396"/>
<path d="M383.0 277.8L388.9 282.2L396.2 283.7L397.0 279.3L391.8 277.1Z" fill="#b3f396"/>
<path d="M383.9 278.3h0M385.6 277.0h0M392.1 283.1h0M385.4 277.8h0M384.4 280.7h0M387.4 282.6h0M396.7 283.5h0M396.6 279.4h0M386.9 277.6h0M392.3 276.9h0M390.0 282.7h0M393.3 281.3h0M381.9 278.7h0M391.8 278.7h0M393.6 283.6h0M384.6 279.4h0M391.0 284.0h0M384.3 276.7h0M389.9 284.1h0M387.9 278.0h0M385.0 278.1h0M398.3 284.7h0M389.5 278.1h0M387.5 282.7h0M383.9 277.8h0M396.1 283.6h0M385.7 276.0h0M390.0 283.3h0M385.8 279.7h0M388.0 280.4h0" stroke="#b3f396"/>
<path d="M490.3 369.0L491.1 374.6L492.7 375.4L493.5 368.2Z" fill="#b3f396"/>
<path d="M493.4 374.8h0M493.2 371.9h0M492.3 375.4h0M491.4 374.4h0M491.3 370.7h0M491.0 369.3h0M490.1 373.7h0M490.1 371.3h0M493.2 372.9h0M493.3 373.5h0M491.0 370.8h0M493.2 369.6h0M493.6 370.5h0M490.4 369.7h0M493.1 370.0h0M491.5 375.6h0" stroke="#b3f396"/>
<path d="M471.0 395.5L471.8 400.3L475.0 405.9L477.4 409.1L480.6 405.9L481.4 401.1L478.2 396.3L474.2 394.4Z" fill="#b3f396"/>
<path d="M471.3 397.9h0M480.6 405.2h0M470.8 400.3h0M473.6 404.9h0M474.7 394.4h0M476.2 408.5h0M481.9 402.1h0M471.8 398.2h0M475.2 395.2h0M474.1 394.7h0M475.4 406.3h0M472.1 396.1h0M475.8 406.6h0M471.0 396.3h0M472.0 398.3h0M474.8 406.0h0M476.4 407.7h0M478.2 397.7h0M472.0 397.4h0M476.5 395.6h0M479.3 397.4h0M479.4 397.2h0M471.4 395.9h0M475.2 394.0h0M471.6 397.3h0M480.9 401.0h0M477.7 408.5h0M474.6 394.2h0M481.0 405.2h0M471.1 397.4h0M478.7 397.1h0M474.2 404.7h0M479.0 398.6h0M481.3 401.5h0" stroke="#b3f396"/>
<path d="M475.0 413.9L475.0 420.3L477.4 423.5L481.4 421.9L484.6 419.5L480.6 416.8L477.1 413.6Z" fill="#b3f396"/>
<path d="M483.8 420.9h0M484.7 418.7h0M482.8 418.7h0M474.9 418.6h0M479.8 423.3h0M479.4 416.0h0M475.1 419.9h0M474.6 421.1h0M482.6 421.2h0M479.4 414.5h0M479.1 416.1h0M475.8 420.8h0M482.7 420.4h0M476.4 421.0h0M477.0 423.3h0M478.3 423.5h0M478.8 415.3h0M479.6 416.2h0M475.0 418.1h0M477.8 414.5h0M481.5 417.2h0M476.5 422.4h0M481.4 421.7h0M475.5 415.1h0M481.4 421.8h0M478.7 416.0h0M483.5 420.2h0" stroke="#b3f396"/>
<path d="M254.0 299.6h0M246.9 317.2h0M252.9 304.3h0M251.4 289.5h0M243.8 310.9h0M244.3 289.5h0M247.9 324.5h0M255.1 324.0h0M252.1 313.0h0M252.7 290.0h0M253.9 326.4h0M253.0 285.7h0M254.7 323.1h0M252.4 288.7h0M244.8 307.1h0M246.2 329.1h0M247.8 318.7h0M251.8 297.1h0M255.8 295.8h0M245.5 315.8h0M246.7 321.5h0M252.1 300.4h0M247.9 324.9h0M252.9 317.5h0M253.4 296.3h0M248.9 303.1h0M242.6 283.5h0M245.1 301.8h0M246.3 329.3h0M254.2 287.5h0M255.3 316.7h0M243.8 313.8h0M245.6 310.8h0M253.5 302.5h0M253.9 316.9h0M245.0 299.8h0M243.5 298.3h0M253.6 327.1h0M244.8 287.6h0M254.0 287.3h0M252.2 328.8h0M243.9 309.2h0M253.7 294.6h0M252.7 320.1h0M246.0 328.8h0M249.9 330.6h0M251.8 324.9h0M251.3 307.5h0M242.4 322.2h0M256.2 325.8h0M248.5 329.5h0M248.1 328.0h0M253.5 307.2h0M252.8 289.7h0M244.6 327.9h0M257.1 313.2h0M252.9 326.1h0M252.9 326.0h0M254.0 287.6h0M245.2 326.4h0M255.5 321.2h0M248.2 309.4h0M249.3 289.4h0M244.1 324.2h0M247.7 318.4h0M243.9 291.3h0M245.9 326.8h0" stroke="#e0c878"/>
<path d="M265.3 287.2h0M256.6 318.3h0M272.6 310.1h0M275.5 306.3h0M273.4 306.6h0M258.3 298.9h0M274.6 301.0h0M266.3 292.3h0M256.2 300.4h0M259.2 315.5h0M257.9 292.3h0M269.8 309.4h0M273.2 296.0h0M269.6 303.6h0M276.3 297.8h0M284.8 310.5h0M267.6 291.3h0M262.7 306.4h0M261.8 315.4h0M266.4 295.0h0M266.3 300.0h0M270.8 309.0h0M277.9 309.4h0M259.6 287.2h0M261.3 299.9h0M268.2 307.2h0M277.7 299.1h0M271.2 305.5h0M283.2 309.7h0M272.6 290.8h0M277.0 298.8h0M265.0 307.2h0M281.0 308.8h0M268.8 304.2h0M267.6 288.4h0M263.5 315.5h0M270.6 301.8h0M285.3 305.1h0M275.2 294.3h0M263.7 313.7h0M274.8 303.5h0M274.6 296.1h0M274.4 306.7h0M270.4 290.7h0M270.3 298.2h0M275.0 303.0h0M269.8 306.9h0M261.4 300.6h0M262.3 302.2h0M266.4 288.3h0M258.8 307.0h0M261.9 319.8h0M272.0 309.7h0M259.9 295.7h0M267.0 307.6h0M271.4 304.1h0M272.9 291.3h0M263.7 313.2h0M263.1 311.8h0M268.4 306.4h0M270.2 295.8h0M271.4 298.3h0M282.1 304.1h0M256.9 324.7h0M284.0 309.1h0M258.4 312.9h0M260.1 294.9h0M277.3 300.7h0M272.6 297.0h0M261.5 304.3h0M279.3 299.8h0M266.7 315.4h0M266.1 295.2h0M282.0 309.6h0M259.1 305.8h0M266.1 295.8h0M265.7 315.2h0M260.3 322.3h0M268.8 290.9h0M267.9 299.3h0M260.6 296.9h0M269.6 293.2h0M268.7 300.7h0M287.2 308.4h0M262.5 319.6h0M275.5 299.3h0M267.2 304.9h0M268.8 307.1h0M259.5 296.9h0M272.5 299.6h0M270.3 308.1h0M276.5 295.5h0M271.3 299.0h0M274.1 300.2h0M272.1 292.9h0" stroke="#e0c878"/>
<path d="M364.0 251.4L362.5 263.1L365.5 273.4L364.0 283.7L368.4 289.5L374.3 289.5L376.5 283.7L375.0 273.4L373.5 263.1L370.6 254.3L367.7 250.7Z" fill="#e0c878"/>
<path d="M373.2 268.4h0M374.6 276.1h0M374.4 266.5h0M363.4 282.9h0M363.8 255.2h0M376.0 283.2h0M365.0 256.5h0M370.4 288.9h0M370.5 254.0h0M362.3 270.2h0M364.1 266.9h0M367.9 287.4h0M374.1 278.1h0M371.7 290.7h0M364.6 276.4h0M374.4 279.6h0M361.6 257.8h0M375.1 271.9h0M372.5 289.0h0M376.1 275.9h0M362.7 286.9h0M372.4 257.6h0M373.3 260.7h0M365.2 280.5h0M376.7 272.2h0M378.0 277.1h0M374.7 286.8h0M367.5 286.9h0M376.7 273.5h0M373.4 258.4h0M362.6 258.7h0M363.9 280.1h0M374.9 267.2h0M369.7 254.4h0M376.1 279.3h0M362.7 252.9h0M376.4 287.9h0M365.1 279.4h0M375.9 280.7h0M373.7 268.7h0M362.8 259.5h0M364.3 280.8h0M365.0 251.7h0M373.8 261.8h0M365.6 250.5h0M376.1 270.8h0M363.7 266.1h0M365.3 283.7h0M365.7 274.3h0M377.1 282.0h0M374.6 261.8h0M365.2 283.8h0M364.6 253.0h0M360.7 263.3h0M368.5 288.3h0M365.5 279.3h0M365.8 252.0h0M362.3 256.8h0M365.2 269.1h0M363.8 285.0h0M373.4 288.2h0M375.6 287.1h0M363.5 269.9h0M374.2 266.2h0M362.7 255.5h0M374.0 260.1h0M372.4 268.4h0M374.4 275.3h0M372.4 261.3h0M364.3 252.3h0M371.4 255.3h0M362.6 267.7h0M374.6 267.8h0M362.7 278.3h0M376.3 272.9h0M371.2 266.3h0M363.2 263.0h0M377.9 283.0h0M370.1 251.1h0M365.9 248.9h0M366.2 252.7h0M367.8 287.8h0" stroke="#e0c878"/>
<path d="M375.7 263.1h0M342.9 263.0h0M355.6 246.3h0M377.9 278.9h0M371.5 246.6h0M351.6 255.1h0M367.6 271.6h0M376.1 283.9h0M377.6 261.6h0" stroke="#e0c878"/>
<path d="M473.4 446.0L474.2 451.6L477.4 454.8L480.6 454.0L480.6 450.0L477.4 446.0L475.0 445.2Z" fill="#e0c878"/>
<path d="M474.2 446.8h0M480.5 452.1h0M473.9 448.7h0M479.4 448.8h0M474.2 446.5h0M478.4 454.7h0M480.1 452.8h0M474.5 446.5h0M476.6 444.9h0M479.5 454.8h0M473.9 447.6h0M474.4 452.5h0M480.4 448.6h0M481.2 451.8h0M474.0 445.6h0M481.0 453.6h0M479.9 454.0h0M474.3 446.1h0M475.6 452.8h0M480.5 453.3h0M473.9 449.3h0M479.3 449.4h0M479.6 449.8h0M473.9 452.0h0" stroke="#e0c878"/>
<path d="M469.1 235.8L469.6 239.3L472.2 239.9L472.6 236.6Z" fill="#e0c878"/>
<path d="M470.2 239.5h0M472.5 239.1h0M470.8 239.3h0M469.7 236.2h0M470.6 239.9h0M472.7 238.0h0M468.5 236.0h0M468.8 236.4h0M468.3 236.8h0M471.2 235.6h0M471.8 238.3h0" stroke="#e0c878"/>
<path d="M572.9 401.7h0" stroke="#e0c878"/>
<path d="M275.0 271.4h0M279.2 279.4h0M280.1 291.6h0M276.8 286.7h0M275.2 288.3h0M251.1 279.2h0M279.8 273.9h0M262.2 270.1h0M277.4 286.1h0M261.2 277.3h0M267.1 273.7h0M245.1 280.3h0M245.0 277.4h0M277.0 276.5h0M287.8 285.8h0M285.2 279.3h0M243.4 276.0h0" stroke="#ff9a52"/>
<path d="M261.0 255.3h0M281.9 269.4h0M286.8 248.2h0M277.8 262.8h0M282.3 246.7h0M275.6 265.1h0M264.1 254.1h0" stroke="#ff9a52"/>
<path d="M253.1 297.0h0M252.4 295.6h0M245.6 301.0h0M244.8 290.6h0M256.8 303.3h0M243.0 295.3h0M243.3 315.9h0M244.5 287.2h0M247.6 318.5h0M245.5 306.0h0M252.4 301.9h0M245.8 299.1h0M248.4 300.8h0M250.5 315.5h0M252.5 297.9h0M250.2 329.7h0M242.9 317.6h0M253.0 316.9h0M250.6 317.1h0M244.1 305.2h0M244.3 283.8h0M254.4 317.2h0M248.5 317.8h0M243.5 302.5h0M251.6 307.6h0M244.8 325.3h0M251.0 316.4h0M254.7 308.1h0M248.3 287.0h0M254.4 300.4h0M250.6 328.9h0M249.7 322.9h0M246.8 291.9h0M251.0 290.7h0M254.7 321.6h0M250.5 326.2h0M255.3 297.5h0M245.7 286.2h0M256.2 306.7h0M248.0 316.5h0M245.0 305.5h0M251.4 297.0h0M248.6 291.9h0M247.8 327.7h0M244.4 297.2h0M249.8 316.9h0M243.9 304.8h0M256.9 299.1h0M245.6 296.0h0M245.8 293.8h0M249.4 324.6h0M249.1 295.5h0M244.5 305.3h0M244.5 317.0h0M254.8 296.7h0M251.4 295.7h0M256.0 295.4h0M243.6 303.9h0M247.3 299.9h0M244.5 306.2h0M254.0 324.3h0M252.0 324.8h0M249.4 317.5h0M249.9 323.7h0M253.3 296.9h0M244.7 304.7h0M247.6 308.0h0M246.4 316.6h0M250.4 289.9h0" stroke="#ff9a52"/>
<path d="M258.4 290.1h0M257.5 310.8h0M263.5 299.5h0M265.9 295.5h0M266.4 294.9h0M270.1 291.5h0M257.8 308.7h0M264.1 318.6h0M259.5 322.1h0M256.9 309.2h0M265.8 287.6h0M268.2 311.1h0M262.0 303.3h0M267.4 297.3h0M276.8 303.2h0M266.7 299.4h0M275.7 292.6h0M262.7 310.1h0M259.4 289.2h0M264.2 301.1h0M270.8 293.9h0M273.9 297.4h0M270.4 293.4h0M276.0 297.2h0M274.9 292.6h0M275.0 293.9h0M256.8 302.9h0M272.9 310.3h0M270.4 292.2h0M265.9 309.6h0M262.7 320.5h0M285.1 309.6h0M262.5 314.9h0M277.5 295.7h0M276.4 302.4h0M261.0 319.1h0M261.9 305.9h0M260.4 292.0h0M270.2 291.7h0M281.8 306.9h0M262.2 306.5h0M270.4 291.5h0M256.7 307.6h0M259.4 301.8h0M284.1 301.8h0M264.7 311.2h0M262.1 289.6h0M271.1 303.0h0M276.7 302.6h0M266.8 315.5h0M267.0 296.2h0M267.0 288.9h0M257.3 325.3h0M262.2 319.3h0M282.3 303.8h0M271.3 296.5h0M273.6 306.1h0M271.0 305.3h0M282.7 306.1h0M267.2 310.3h0M256.2 307.8h0M280.6 299.7h0M257.6 313.9h0M276.1 293.4h0M281.3 301.1h0M267.6 295.1h0M258.1 293.3h0M260.8 302.5h0M273.6 308.6h0M280.7 298.9h0M264.7 289.9h0M256.4 326.0h0M259.0 324.3h0M263.8 301.7h0M257.2 292.0h0M273.2 306.3h0M273.2 297.5h0M258.3 315.7h0M256.2 304.7h0M266.8 292.6h0M263.6 309.4h0M258.8 302.3h0M261.4 287.4h0M265.1 300.5h0M277.6 297.6h0M259.2 308.1h0M272.0 300.3h0M271.1 309.1h0M260.2 300.3h0M265.4 299.2h0M257.9 303.6h0M278.1 300.0h0M263.3 296.6h0M275.2 292.4h0M266.9 312.8h0M257.6 298.1h0M274.6 299.4h0M263.6 310.7h0M262.1 288.7h0M265.4 307.4h0M275.3 305.9h0M266.3 304.0h0M259.4 320.5h0M280.7 302.1h0M267.3 297.6h0M278.7 305.5h0M260.9 319.9h0M261.7 308.3h0M271.3 299.3h0M266.1 292.9h0M277.3 295.2h0M260.1 314.4h0M260.3 313.7h0M271.1 295.8h0M258.8 289.8h0M280.1 297.3h0M263.5 318.1h0M256.9 317.8h0M262.9 308.0h0M270.8 311.4h0M267.4 288.5h0M262.5 299.5h0M267.4 297.9h0M267.2 309.4h0M261.8 315.6h0M270.4 294.2h0M266.2 300.0h0M277.5 298.4h0M270.0 306.9h0M265.2 317.0h0M271.6 308.7h0M256.2 298.9h0M270.0 298.0h0M276.9 301.2h0M265.2 313.1h0M257.1 294.4h0M277.0 307.5h0M268.3 290.1h0M283.7 307.7h0M269.9 291.9h0M269.6 310.1h0M261.2 305.9h0M272.7 290.0h0M257.6 298.0h0M268.3 313.2h0M263.6 297.3h0M265.9 311.1h0M257.1 298.3h0M259.8 313.3h0M262.6 292.7h0M267.7 300.0h0M281.7 309.3h0M284.2 304.3h0M274.0 303.1h0M263.5 303.2h0M258.3 296.0h0M264.0 294.4h0M268.1 304.2h0M260.7 301.6h0M256.5 325.8h0M261.9 306.9h0M258.1 318.7h0M267.9 306.7h0M282.1 306.9h0M261.6 310.0h0M288.0 311.6h0M258.6 321.7h0M271.3 306.2h0M260.4 299.1h0M271.5 292.4h0M257.1 301.6h0M287.8 310.5h0M258.4 317.0h0M273.5 299.5h0M265.2 302.7h0M262.5 306.8h0M271.1 310.5h0M274.4 299.5h0M267.2 307.8h0M271.0 300.7h0M263.2 318.5h0M258.0 301.3h0M261.2 316.7h0M263.1 300.1h0M257.9 307.7h0M271.5 311.3h0M267.2 307.4h0M264.8 293.3h0M258.0 297.9h0M263.9 287.7h0M258.2 305.3h0M260.3 299.0h0M257.3 294.4h0M272.9 302.3h0M264.2 287.9h0M260.0 299.2h0M268.0 313.0h0M269.6 301.9h0" stroke="#ff9a52"/>
<path d="M247.1 333.3h0M269.1 357.0h0M277.2 353.7h0M267.7 353.5h0M262.2 358.6h0M251.2 332.3h0M257.9 361.5h0M267.0 341.5h0M246.4 358.3h0M252.3 353.4h0M261.0 354.6h0M265.7 344.2h0M257.6 342.9h0M265.3 333.6h0M275.2 350.2h0M257.4 339.6h0M245.3 352.5h0M262.7 353.1h0M274.9 353.7h0M245.7 334.1h0M246.2 339.0h0M283.8 348.3h0M248.8 336.5h0M256.7 367.7h0M265.9 330.7h0M279.1 342.7h0M253.1 360.2h0M257.2 351.5h0M285.7 351.9h0M254.1 335.0h0M270.1 357.8h0M255.5 344.6h0M278.6 346.7h0M281.6 349.1h0M277.5 352.4h0M282.8 349.8h0M263.4 364.4h0M274.6 356.8h0M248.5 356.7h0M259.4 356.1h0M245.2 332.1h0M244.5 359.6h0M245.5 350.3h0M273.2 343.8h0M253.7 362.2h0M258.0 330.9h0M267.2 329.4h0M248.0 339.7h0M257.2 342.4h0M270.3 344.5h0M264.9 356.5h0M262.9 361.4h0M264.8 355.8h0M242.6 346.3h0M245.0 353.1h0M264.2 345.1h0M267.2 344.0h0M267.8 356.6h0M257.6 362.1h0M251.7 346.4h0M279.5 351.9h0M258.1 359.8h0M277.9 360.3h0M246.7 344.7h0" stroke="#ff9a52"/>
<path d="M305.5 332.9h0M318.1 333.1h0M291.9 334.9h0M316.3 336.4h0M297.4 337.1h0M307.5 335.8h0M313.0 330.7h0M310.2 328.3h0M301.8 333.8h0" stroke="#ff9a52"/>
<path d="M329.4 314.4h0M325.8 318.2h0M329.2 328.1h0M321.6 321.0h0M312.9 328.3h0M311.9 320.2h0M328.2 315.9h0M330.1 322.5h0M327.3 322.3h0M320.5 325.5h0M330.2 321.8h0M327.0 326.3h0M324.5 319.2h0M326.4 313.3h0M314.8 334.3h0M314.6 312.2h0M329.0 313.2h0M329.1 313.4h0M325.3 315.0h0M323.2 313.1h0M328.3 334.3h0M312.1 314.5h0M324.2 328.4h0M323.1 334.4h0M321.3 323.9h0M314.3 329.5h0M329.6 318.9h0M325.1 329.5h0M321.3 327.2h0M315.6 325.2h0M326.3 327.4h0M314.5 316.1h0" stroke="#ff9a52"/>
<path d="M332.4 335.2h0M334.6 325.7h0M328.0 339.6h0" stroke="#ff9a52"/>
<path d="M342.0 285.9L344.2 289.5L347.9 291.0L353.7 287.3L347.9 285.9Z" fill="#ff9a52"/>
<path d="M341.3 286.6h0M353.6 288.0h0M347.7 291.1h0M353.8 287.6h0M351.3 286.1h0M347.2 285.2h0M347.3 289.9h0M347.4 291.6h0M352.0 288.1h0M352.6 288.5h0M350.8 289.2h0M346.6 285.9h0M343.7 287.6h0M346.7 289.8h0M341.7 288.5h0M353.5 289.1h0M343.2 289.3h0M348.7 286.3h0M342.2 287.6h0M344.1 288.9h0M346.3 291.4h0M352.8 287.0h0M350.6 289.3h0M344.2 287.2h0" stroke="#ff9a52"/>
<path d="M342.7 312.2L344.9 317.4L347.9 320.3L348.6 314.4L346.4 311.5Z" fill="#ff9a52"/>
<path d="M348.1 311.8h0M345.3 312.8h0M346.1 315.7h0M347.4 320.0h0M348.2 315.7h0M343.5 313.6h0M347.8 319.3h0M345.9 317.4h0M343.1 314.4h0M345.6 317.4h0M346.8 314.2h0M349.3 316.9h0M345.1 318.7h0M345.7 312.5h0M347.9 319.1h0M346.0 312.7h0M347.8 322.0h0M346.4 311.1h0M348.9 318.1h0M343.3 311.1h0M345.5 318.6h0" stroke="#ff9a52"/>
<path d="M375.0 293.9L375.7 307.1L378.7 310.0L380.1 304.2L377.9 293.9Z" fill="#ff9a52"/>
<path d="M379.8 303.6h0M378.8 309.0h0M375.1 303.0h0M375.1 300.3h0M375.4 294.6h0M375.6 293.8h0M378.3 307.8h0M378.6 295.3h0M379.4 305.2h0M375.2 309.0h0M378.9 302.2h0M374.7 305.9h0M375.7 308.6h0M374.8 295.7h0M378.4 309.5h0M374.8 300.3h0M375.4 296.4h0M376.0 306.3h0M375.5 298.8h0M380.1 308.7h0M379.4 304.0h0M376.3 299.3h0M375.0 294.6h0M374.2 306.5h0M380.1 304.5h0M377.3 297.0h0M375.4 303.7h0M378.2 296.3h0M374.5 307.4h0M380.7 304.2h0M377.6 293.8h0M377.0 308.2h0M375.9 308.9h0" stroke="#ff9a52"/>
<path d="M378.0 321.8h0M378.8 318.0h0M373.8 317.6h0M378.7 314.5h0M385.3 311.6h0M398.0 303.0h0M386.2 308.5h0M384.3 311.1h0M372.3 321.5h0M389.7 310.4h0M373.7 319.5h0" stroke="#ff9a52"/>
<path d="M406.1 304.9h0M399.9 301.2h0M405.0 308.6h0M334.7 325.4h0M340.5 293.9h0" stroke="#ff9a52"/>
<path d="M457.7 258.2h0M461.8 268.6h0" stroke="#ff9a52"/>
<path d="M563.7 466.2L561.4 470.8L561.1 473.9L564.5 472.3L568.3 469.7L569.0 467.0L566.8 465.2Z" fill="#ff9a52"/>
<path d="M568.9 467.7h0M566.7 465.9h0M560.9 470.9h0M565.0 466.9h0M561.6 470.7h0M565.1 465.4h0M569.0 466.1h0M564.0 472.9h0M565.8 471.6h0M568.8 468.5h0M567.2 465.4h0M561.3 472.3h0M567.5 470.4h0M568.2 466.2h0M563.1 466.7h0M565.4 464.8h0M563.6 472.2h0M563.8 466.3h0M563.7 472.0h0M560.6 472.9h0M565.0 471.2h0M567.9 466.2h0M566.6 465.0h0" stroke="#ff9a52"/>
<path d="M559.1 470.0h0" stroke="#ff9a52"/>
<path d="M243.3 278.2h0M273.0 289.9h0M255.9 279.3h0M272.3 276.9h0M274.7 281.8h0M243.1 281.0h0M258.7 272.7h0" stroke="#ff4f29"/>
<path d="M251.7 311.9h0M243.9 311.0h0M247.0 308.5h0M247.7 330.4h0M246.6 294.2h0M255.4 287.1h0M248.9 304.2h0M256.1 299.2h0M254.4 303.4h0M248.3 320.9h0M253.4 297.3h0M247.3 288.5h0" stroke="#ff4f29"/>
<path d="M261.9 301.6h0M265.2 301.7h0M266.8 313.6h0M263.7 312.2h0M277.3 306.9h0M269.0 297.2h0M262.1 296.4h0M258.7 319.9h0M261.7 317.2h0M261.1 310.2h0M272.1 302.0h0M270.7 308.2h0M260.5 309.5h0M262.3 315.2h0M266.0 295.7h0M267.0 293.3h0M256.7 298.7h0M259.7 299.2h0M281.6 304.1h0" stroke="#ff4f29"/>
<path d="M269.4 350.0h0M250.6 364.8h0M245.9 347.9h0M260.2 368.0h0M248.9 345.6h0M269.1 353.7h0M274.4 358.4h0M284.0 345.8h0M269.4 352.3h0M285.0 352.5h0M253.8 361.3h0M250.3 348.1h0M249.9 336.5h0M247.7 350.6h0M271.8 363.5h0M266.8 330.3h0M264.9 363.6h0M266.9 357.8h0M266.0 361.9h0M258.6 360.9h0M271.7 357.7h0M257.5 337.2h0M279.4 362.0h0M281.9 358.1h0M284.0 357.7h0M266.2 342.7h0M279.3 349.6h0M271.4 337.7h0M260.6 361.7h0M245.0 345.7h0M274.1 350.9h0M258.7 332.3h0M242.4 341.0h0M267.3 339.8h0M255.9 341.6h0M264.9 328.6h0M261.0 362.4h0M258.9 337.7h0M242.5 356.4h0M274.6 345.4h0" stroke="#ff4f29"/>
<path d="M269.3 312.5L267.9 319.9L268.6 331.6L271.5 336.7L279.6 338.2L288.4 334.5L295.7 330.1L303.0 328.7L305.2 325.7L301.6 321.3L294.3 315.5L286.9 312.5L282.5 309.6L275.2 310.3Z" fill="#ff4f29"/>
<path d="M277.3 306.1h0M275.5 309.5h0M267.2 316.2h0M274.9 312.4h0M274.7 335.2h0M295.0 327.8h0M270.1 321.0h0M284.6 311.0h0M266.8 322.1h0M272.2 335.5h0M270.6 331.3h0M283.3 312.7h0M290.8 332.6h0M281.1 338.0h0M305.0 330.4h0M272.6 338.5h0M295.0 330.6h0M281.0 336.3h0M279.7 309.0h0M299.1 321.5h0M273.0 336.6h0M302.1 321.9h0M285.9 336.0h0M276.2 335.2h0M300.8 321.0h0M292.1 314.1h0M271.0 308.7h0M270.8 327.5h0M269.1 331.8h0M279.0 337.8h0M269.2 316.6h0M282.2 335.3h0M264.7 326.9h0M274.7 313.0h0M268.9 320.2h0M304.6 322.2h0M281.7 339.0h0M299.8 319.5h0M281.3 338.3h0M268.6 327.1h0M281.6 308.9h0M281.2 337.3h0M269.4 324.0h0M273.5 311.5h0M281.7 335.7h0M302.8 324.5h0M283.5 336.6h0M266.8 322.9h0M281.6 337.3h0M294.1 331.2h0M269.3 331.0h0M294.2 316.3h0M274.3 309.2h0M269.3 331.3h0M278.6 338.1h0M300.3 331.6h0M294.2 333.2h0M267.2 322.5h0M272.0 337.8h0M273.3 338.0h0M267.9 330.0h0M272.3 334.0h0M289.9 312.4h0M270.1 336.9h0M295.6 316.7h0M270.1 310.7h0M303.3 325.4h0M280.3 337.9h0M269.7 336.2h0M305.0 325.6h0M277.1 314.9h0M273.4 311.9h0M282.2 310.0h0M297.1 329.0h0M288.5 315.3h0M290.7 312.0h0M281.6 334.5h0M302.1 321.5h0M287.0 332.8h0M301.7 329.2h0M296.9 326.2h0M269.6 327.0h0M269.3 313.1h0M303.1 327.7h0M268.7 326.1h0M306.3 323.7h0M303.0 325.0h0M277.8 338.6h0M303.5 324.7h0M292.0 333.5h0M272.5 309.6h0M273.6 334.0h0M269.8 324.2h0M273.3 336.9h0" stroke="#ff4f29"/>
<path d="M248.8 331.6L247.3 338.9L250.3 349.2L254.7 358.0L259.1 363.1L263.5 363.8L267.1 358.0L268.6 349.2L271.5 343.3L270.8 338.9L264.9 334.5L262.0 328.7L256.1 327.9Z" fill="#ff4f29"/>
<path d="M260.9 331.2h0M270.8 360.2h0M250.1 330.3h0M270.5 342.0h0M251.5 331.5h0M256.1 358.3h0M247.5 336.9h0M270.9 348.0h0M250.3 329.1h0M269.8 350.7h0M262.6 359.0h0M268.1 342.6h0M271.4 348.0h0M252.8 359.0h0M261.7 325.7h0M270.0 351.8h0M257.4 332.1h0M246.6 337.4h0M268.8 351.0h0M253.4 347.0h0M268.4 357.7h0M253.5 348.6h0M249.8 344.6h0M253.6 355.1h0M248.6 334.5h0M247.4 338.6h0M264.9 332.2h0M252.1 329.9h0M249.4 345.9h0M253.1 327.4h0M249.4 340.3h0M252.3 329.8h0M257.4 329.5h0M267.5 338.0h0M265.0 332.1h0M256.2 361.0h0M247.4 329.6h0M264.6 365.0h0M248.0 342.4h0M255.5 356.7h0M255.2 327.4h0M248.5 343.5h0M269.6 348.7h0M257.8 329.1h0M247.6 334.2h0M271.2 339.1h0M257.7 359.6h0M265.1 354.5h0M264.1 361.4h0M262.6 365.3h0M270.3 343.5h0M269.0 338.4h0M259.1 329.2h0M270.0 352.1h0M267.4 356.9h0M269.0 337.2h0M262.4 364.8h0M256.4 358.4h0M247.5 332.5h0M272.8 340.7h0M259.1 327.1h0M247.6 330.2h0M255.5 328.3h0M267.9 358.7h0M252.2 344.6h0M260.2 329.0h0M254.7 328.6h0M255.7 360.7h0M253.5 361.4h0M271.1 349.0h0M246.6 340.5h0M263.4 333.9h0M268.0 334.8h0M273.1 342.5h0M246.4 337.5h0M248.9 341.9h0M244.1 344.4h0M267.6 334.3h0M252.0 348.7h0M262.1 362.4h0M251.8 354.1h0M265.2 360.8h0M267.7 355.9h0M264.6 335.0h0M272.3 344.5h0" stroke="#ff4f29"/>
<path d="M306.0 327.5L304.5 333.0L308.9 337.4L315.5 338.2L318.4 335.2L315.5 330.1L311.8 326.5L308.9 325.7Z" fill="#ff4f29"/>
<path d="M304.2 332.5h0M305.9 326.0h0M305.2 330.4h0M303.6 332.8h0M315.7 337.5h0M306.9 325.2h0M306.7 328.6h0M307.0 334.6h0M308.3 336.3h0M314.4 327.0h0M314.7 337.8h0M316.2 337.0h0M313.2 326.7h0M309.5 327.0h0M306.1 328.2h0M304.7 333.8h0M319.2 334.5h0M308.0 328.1h0M308.4 325.9h0M307.6 330.2h0M311.6 338.1h0M313.3 339.0h0M311.2 336.5h0M304.1 333.0h0M304.2 330.6h0M311.7 333.3h0M317.3 336.6h0M309.9 326.2h0M311.6 336.1h0M309.2 325.6h0M305.1 327.2h0M310.5 339.5h0M314.3 329.2h0M309.6 339.5h0M304.7 330.0h0M302.3 331.5h0" stroke="#ff4f29"/>
<path d="M314.8 312.5L313.8 318.4L317.7 325.0L322.1 331.6L325.8 330.9L327.7 325.7L326.2 318.4L322.1 313.5L318.0 311.8Z" fill="#ff4f29"/>
<path d="M315.5 310.2h0M327.1 324.2h0M326.4 330.8h0M327.3 328.6h0M327.4 330.7h0M319.8 312.3h0M315.8 324.3h0M318.7 310.6h0M314.8 319.9h0M327.9 320.8h0M318.4 328.6h0M323.5 315.9h0M325.5 330.7h0M326.0 325.3h0M326.8 320.9h0M319.1 329.1h0M319.0 314.3h0M314.6 314.8h0M319.7 310.1h0M316.4 314.9h0M314.3 320.1h0M313.0 319.9h0M327.2 321.3h0M314.7 310.9h0M315.1 312.8h0M323.5 313.7h0M323.2 314.2h0M327.0 319.1h0M326.9 328.6h0M315.3 312.3h0M324.4 314.2h0M315.1 317.3h0M327.5 324.9h0M316.6 311.2h0M317.5 327.4h0M315.6 322.7h0M324.4 319.6h0M326.9 329.5h0M318.8 327.8h0M319.2 313.1h0M313.5 318.7h0M324.6 332.3h0M314.4 322.2h0M312.2 314.8h0M325.8 317.9h0M327.0 324.2h0M327.0 328.4h0" stroke="#ff4f29"/>
<path d="M320.0 325.1h0M325.6 324.8h0M321.9 329.0h0M319.3 311.2h0M327.7 323.8h0M319.9 319.2h0M321.3 322.7h0M310.5 325.9h0" stroke="#ff4f29"/>
<path d="M287.7 363.8h0M297.9 366.0h0M292.1 337.4h0M296.5 338.9h0" stroke="#ff4f29"/>
<path d="M347.1 289.5L344.9 296.8L346.4 304.2L350.8 310.0L347.9 314.4L347.1 320.3L352.3 326.2L359.6 326.2L365.5 321.8L369.9 316.6L375.0 313.0L376.5 304.2L375.7 296.8L371.3 291.0L364.0 288.0L355.2 286.6Z" fill="#ff4f29"/>
<path d="M348.7 311.9h0M350.0 285.5h0M349.0 319.5h0M362.2 285.2h0M345.8 309.8h0M376.3 311.9h0M348.6 306.1h0M372.3 288.1h0M354.0 285.9h0M367.1 321.8h0M351.7 328.0h0M344.1 298.1h0M350.3 323.2h0M360.5 285.4h0M360.0 286.5h0M348.0 317.0h0M377.4 311.0h0M375.3 313.6h0M375.8 308.4h0M372.7 314.7h0M345.9 294.2h0M352.9 327.4h0M350.9 286.3h0M369.8 316.4h0M345.4 300.2h0M365.1 322.1h0M371.5 315.8h0M361.7 286.8h0M377.2 313.1h0M347.2 319.6h0M350.8 287.8h0M362.7 287.0h0M372.8 315.0h0M354.5 286.6h0M346.0 296.1h0M371.0 293.6h0M352.3 326.1h0M365.2 288.4h0M355.8 325.9h0M348.9 290.9h0M373.9 297.3h0M346.8 304.0h0M345.9 315.1h0M373.0 313.8h0M353.7 328.2h0M368.5 321.0h0M345.4 295.6h0M373.9 312.1h0M351.6 288.4h0M374.4 292.5h0M347.2 306.0h0M364.3 322.7h0M349.1 287.1h0M347.4 309.7h0M378.2 303.7h0M356.3 287.7h0M347.9 305.8h0M357.6 327.1h0M346.4 318.4h0M347.4 287.7h0M371.0 291.8h0M346.7 305.7h0M346.7 289.9h0M365.8 320.7h0M355.7 287.2h0M376.9 308.9h0M372.1 315.8h0M349.3 305.2h0M361.0 286.8h0M362.3 324.9h0M350.4 307.4h0M350.1 311.5h0M352.3 307.8h0M370.3 316.4h0M373.9 304.0h0M377.8 303.1h0M377.2 299.6h0M347.1 288.8h0M365.8 287.8h0M366.7 323.4h0M374.5 294.8h0M345.5 304.2h0M349.1 315.6h0M359.7 325.2h0M373.8 294.0h0M373.9 307.9h0M348.0 288.4h0M348.4 313.1h0M354.9 326.1h0M345.7 304.1h0M353.1 325.3h0M360.3 288.8h0M376.2 296.9h0M354.3 328.1h0M373.7 296.2h0M375.9 310.9h0M373.4 311.8h0M345.2 297.7h0M348.3 320.9h0M376.3 302.5h0M362.4 287.1h0M370.8 318.1h0M349.5 315.0h0M372.5 291.0h0M355.3 285.8h0M375.6 298.8h0M357.5 286.4h0" stroke="#ff4f29"/>
<path d="M378.7 286.6L377.2 293.9L378.7 302.7L384.5 306.4L391.8 304.2L396.2 298.3L397.7 291.0L394.8 285.1L388.9 282.9L383.0 283.7Z" fill="#ff4f29"/>
<path d="M392.0 302.9h0M387.1 306.2h0M388.4 284.6h0M378.0 293.1h0M376.9 300.8h0M398.8 293.8h0M388.9 304.1h0M389.0 282.1h0M383.1 303.8h0M377.7 293.8h0M378.4 288.4h0M380.4 301.3h0M392.2 284.4h0M382.0 301.9h0M383.6 305.1h0M384.3 304.2h0M379.7 297.9h0M393.3 283.4h0M396.4 296.2h0M391.0 282.8h0M396.6 294.6h0M396.7 288.7h0M377.4 291.3h0M384.2 282.4h0M377.4 300.9h0M380.5 286.3h0M379.5 303.7h0M395.4 303.7h0M382.1 306.2h0M381.1 304.9h0M383.0 282.5h0M387.4 283.9h0M394.5 283.3h0M376.8 294.2h0M389.6 303.1h0M393.8 305.2h0M394.9 300.9h0M397.1 291.7h0M394.8 285.6h0M395.9 293.3h0M380.3 284.6h0M377.3 291.6h0M381.6 282.5h0M398.5 294.2h0M379.6 302.4h0M394.7 290.8h0M395.8 284.6h0M397.8 293.4h0M385.9 306.5h0M398.7 290.8h0M393.3 285.7h0M398.6 293.5h0M395.1 291.0h0M390.7 282.4h0M393.8 294.3h0M397.4 294.2h0M395.3 295.5h0M392.1 303.2h0M390.1 281.3h0M399.6 290.3h0M379.3 287.2h0M391.4 304.1h0M390.7 282.8h0" stroke="#ff4f29"/>
<path d="M371.7 321.6h0M382.4 314.5h0M369.1 320.2h0M383.7 316.5h0" stroke="#ff4f29"/>
<path d="M480.6 353.8L479.8 361.0L482.2 365.8L486.2 369.8L491.1 368.2L494.3 364.2L492.7 359.4L488.7 355.4L484.6 353.8Z" fill="#ff4f29"/>
<path d="M485.1 369.4h0M481.0 353.9h0M491.0 358.1h0M479.8 358.1h0M479.5 356.1h0M491.1 368.0h0M480.6 356.3h0M480.6 356.3h0M490.5 357.6h0M493.3 364.9h0M480.2 356.2h0M480.0 360.1h0M494.2 362.9h0M492.6 364.8h0M483.9 367.6h0M480.3 356.0h0M480.8 354.2h0M485.1 370.0h0M482.1 366.6h0M483.4 368.2h0M489.2 355.1h0M488.0 370.3h0M480.3 354.4h0M492.5 359.0h0M491.8 367.7h0M485.4 354.4h0M480.6 363.1h0M493.4 359.8h0M493.6 362.6h0M480.0 354.9h0M491.7 366.7h0M492.7 364.4h0M492.3 359.0h0M480.7 359.2h0M484.2 368.3h0M481.7 365.4h0M483.4 367.4h0M485.0 353.7h0M481.7 353.0h0M483.5 365.9h0M482.6 366.6h0M491.0 367.5h0M480.1 362.9h0" stroke="#ff4f29"/>
<path d="M479.4 352.7h0" stroke="#ff4f29"/>
<path d="M477.4 409.1L477.1 413.1L480.6 416.3L485.4 416.3L488.3 413.9L487.1 410.7L482.2 409.1Z" fill="#ff4f29"/>
<path d="M482.9 416.6h0M482.5 416.4h0M485.6 410.4h0M488.0 412.8h0M481.6 408.6h0M480.4 416.0h0M479.5 408.5h0M478.0 411.9h0M478.0 411.3h0M481.5 416.5h0M476.5 412.0h0M485.0 410.4h0M482.2 409.5h0M483.9 409.5h0M479.7 416.0h0M485.2 417.2h0M476.7 412.7h0M476.4 412.1h0M487.1 412.0h0M480.5 416.6h0M487.6 412.4h0M488.9 413.3h0M487.4 410.9h0M479.7 409.6h0M487.5 414.5h0M481.8 409.5h0M487.8 413.6h0" stroke="#ff4f29"/>
<path d="M277.1 304.8h0M263.9 311.1h0M275.9 305.3h0M270.6 308.4h0M275.5 304.4h0M282.6 307.7h0M270.7 310.6h0M276.0 310.0h0M273.4 307.3h0M267.6 311.6h0M281.8 309.1h0M284.6 308.5h0M270.3 307.9h0M265.4 308.0h0M269.4 313.4h0M264.8 308.3h0M270.7 311.1h0M264.5 309.6h0M264.0 311.1h0M272.7 305.6h0M267.6 308.0h0M274.4 308.1h0M269.5 306.6h0M274.3 307.5h0M267.3 306.6h0M268.7 313.9h0M266.6 309.6h0M273.6 309.8h0M272.7 305.4h0M269.9 311.0h0M268.9 309.3h0M269.6 308.1h0M278.8 307.4h0M275.5 309.2h0M268.3 307.0h0M273.6 308.7h0M283.2 307.8h0M266.9 306.9h0M268.0 306.3h0M274.5 309.8h0M281.5 308.4h0M264.9 309.7h0M274.4 309.4h0M270.7 308.3h0M269.1 307.6h0M279.7 307.7h0M283.7 309.8h0" stroke="#ff9a52"/>
<path d="M271.4 310.0h0M273.1 307.5h0M277.9 309.6h0M267.4 307.2h0M266.2 312.3h0M263.9 312.6h0M282.1 307.8h0M276.7 309.7h0M269.4 310.5h0M269.2 309.1h0" stroke="#e0c878"/>
<path d="M266.3 308.6h0M283.0 307.4h0M272.4 307.7h0M282.5 308.5h0M264.8 314.4h0M273.4 306.6h0M272.8 311.1h0M267.6 306.5h0M271.9 305.3h0M267.8 306.9h0M269.5 305.7h0M271.2 307.4h0M268.0 313.4h0M275.0 305.1h0M270.8 309.8h0M282.3 307.0h0M263.2 317.6h0M262.7 315.8h0M267.8 309.0h0M266.1 314.4h0M277.1 306.4h0M266.3 310.0h0M273.2 308.5h0M266.6 315.6h0M263.7 312.0h0M277.8 305.1h0M269.5 311.1h0M277.0 307.5h0M264.4 310.2h0M268.3 308.0h0M283.8 308.9h0M264.8 307.3h0M279.2 306.3h0M281.3 309.2h0M266.6 314.1h0M279.8 309.6h0M279.9 308.6h0M273.2 310.1h0M271.0 305.8h0M282.9 308.1h0M278.5 306.4h0M265.3 311.4h0M273.2 311.2h0" stroke="#ff4f29"/>
<path d="M261.6 323.6h0M246.8 326.8h0M258.6 329.2h0M262.3 327.8h0M262.9 327.3h0M262.7 327.9h0M257.5 332.6h0M247.7 336.0h0M260.7 329.1h0M263.9 326.2h0M251.1 332.1h0M267.1 321.0h0M268.3 318.8h0M247.4 330.3h0M257.1 330.2h0M249.1 326.6h0M253.7 329.5h0M262.1 327.4h0M253.7 328.7h0M261.5 326.5h0M246.8 334.4h0M246.3 327.0h0M256.3 330.1h0M253.2 328.7h0M246.6 330.8h0M267.0 318.8h0M253.5 332.7h0M247.4 332.5h0M246.0 327.5h0M249.1 326.7h0M245.9 327.6h0M267.4 329.2h0M253.6 333.4h0M264.3 332.0h0M263.2 326.8h0M258.6 332.4h0M248.0 334.4h0M248.8 328.3h0M264.9 322.0h0M259.6 329.0h0M260.0 324.1h0M253.5 332.6h0M249.6 332.8h0M248.7 334.6h0M267.3 318.7h0M252.6 333.7h0M265.8 329.3h0M248.6 327.2h0M258.5 329.0h0M249.4 326.9h0M262.5 321.9h0M253.4 333.4h0M257.3 331.4h0M263.7 331.1h0M264.7 324.1h0M264.9 321.6h0M256.8 331.2h0M252.3 328.3h0M250.7 327.4h0M267.1 327.8h0M252.9 333.1h0" stroke="#ff9a52"/>
<path d="M251.3 329.3h0M257.6 329.8h0M264.2 329.5h0M250.8 330.2h0M267.4 324.4h0M246.4 332.0h0M266.9 323.2h0M254.4 332.9h0M260.3 331.0h0M251.0 332.7h0M248.2 337.1h0M252.2 332.6h0M253.4 332.2h0M257.5 330.0h0M268.0 326.0h0M248.7 328.9h0M263.7 331.6h0M265.1 324.0h0M263.0 322.6h0M255.7 331.1h0M268.0 315.9h0M263.4 329.8h0M249.6 328.8h0M260.2 329.7h0M247.3 334.4h0M261.8 328.7h0M262.2 322.6h0M263.3 322.6h0M259.1 326.9h0M263.7 321.7h0M265.4 328.6h0M263.1 324.1h0M263.5 323.5h0M266.4 317.6h0M253.1 331.4h0M263.3 320.8h0M264.3 327.5h0M248.1 330.5h0M249.4 327.3h0M256.0 328.9h0M264.7 325.6h0M248.6 329.7h0M263.7 325.2h0M247.0 338.1h0M267.8 331.2h0M267.8 322.0h0M266.5 325.7h0M265.8 326.2h0M266.5 318.1h0M261.5 328.1h0M265.4 322.7h0M262.9 322.7h0M264.7 320.5h0M248.5 330.3h0M254.7 331.5h0M257.8 331.7h0M248.9 329.2h0M265.7 326.4h0M264.0 329.5h0M266.5 317.7h0M255.7 327.9h0M264.4 326.0h0M263.0 328.3h0M266.5 317.4h0M246.8 328.5h0M252.3 333.6h0M250.4 331.7h0M263.8 322.9h0M258.6 329.8h0M260.1 330.6h0M252.5 328.2h0M262.5 325.6h0M249.4 334.6h0M264.3 328.3h0M245.9 337.2h0M248.1 327.8h0M251.1 334.6h0M266.6 324.4h0M254.7 327.6h0M266.4 319.8h0M247.3 334.7h0M263.5 327.3h0M264.1 322.9h0M263.3 329.1h0M262.8 322.6h0M267.2 328.6h0M259.0 331.5h0M265.2 326.9h0M258.7 329.2h0M263.3 322.4h0M251.0 330.5h0M262.9 327.3h0M261.1 329.8h0M260.4 330.9h0M267.6 322.2h0M246.9 333.7h0M246.3 332.9h0M246.3 336.6h0M247.1 334.5h0" stroke="#ff4f29"/>
<path d="M277.4 329.5h0M285.6 332.0h0M286.3 322.3h0M271.2 324.0h0M269.7 316.5h0M284.6 330.8h0M281.8 310.7h0M278.4 337.0h0M278.2 317.6h0M286.6 319.7h0M270.1 333.8h0M283.7 336.5h0" stroke="#e0c878"/>
<path d="M286.2 316.1h0M269.1 316.7h0M279.7 318.9h0M274.7 312.5h0M275.7 324.6h0M289.0 329.7h0M290.8 317.2h0M282.4 313.3h0M278.5 322.9h0M283.6 334.9h0M297.7 329.1h0M273.1 312.5h0M282.0 329.7h0M278.7 336.5h0M289.6 314.0h0M286.5 333.9h0M269.3 329.1h0M289.2 330.8h0M278.9 336.7h0M284.6 324.4h0M288.1 327.2h0M278.9 312.3h0M287.5 321.8h0M280.2 314.8h0M289.6 314.6h0M285.7 334.5h0M287.3 318.9h0M293.3 317.9h0M272.4 316.2h0M284.8 318.7h0M284.4 318.4h0M280.1 327.0h0M292.1 328.5h0M287.5 318.6h0M277.3 331.8h0M287.5 313.1h0M274.7 317.7h0" stroke="#ff9a52"/>
<path d="M288.6 313.6h0M288.8 321.6h0M275.2 319.3h0M273.9 337.1h0M285.8 327.0h0M287.7 319.3h0M295.3 324.1h0M294.1 322.5h0M282.0 312.0h0M280.9 324.0h0M302.1 323.8h0M269.2 316.2h0M281.5 334.0h0M285.3 334.2h0M300.1 323.0h0M280.3 332.3h0M289.0 333.8h0M282.3 334.5h0M273.3 314.8h0M271.5 316.9h0M297.9 324.1h0" stroke="#4df3ce"/>
<path d="M250.1 333.1h0M255.7 330.0h0M261.8 357.4h0M266.9 343.6h0M262.2 334.1h0M259.3 350.0h0M249.5 344.9h0M250.4 344.6h0M260.7 350.1h0M249.2 343.8h0M253.3 339.3h0M260.2 333.1h0M251.9 338.4h0" stroke="#e0c878"/>
<path d="M262.5 332.3h0M263.5 363.3h0M249.0 341.0h0M262.7 358.8h0M258.5 342.1h0M253.9 348.7h0M255.5 350.0h0M256.4 330.2h0M257.3 336.9h0M261.4 333.7h0M253.1 333.2h0M249.9 346.7h0M258.4 350.1h0M252.7 344.0h0" stroke="#4df3ce"/>
<path d="M264.6 348.5h0M262.0 329.9h0M260.9 352.7h0M252.5 352.3h0M255.0 355.3h0M255.1 331.3h0M256.9 333.2h0M255.0 346.9h0M265.6 351.7h0M249.2 332.7h0M258.5 333.5h0M256.3 329.4h0M267.0 349.4h0M254.3 342.7h0M265.9 348.9h0M261.9 340.9h0M259.0 339.7h0M264.5 361.0h0M254.2 346.2h0M261.5 349.5h0M248.5 339.4h0M257.9 358.7h0M252.6 335.9h0M261.1 351.0h0M256.4 349.3h0M265.2 346.3h0M257.4 328.7h0M263.8 336.2h0M259.6 358.1h0M250.7 348.1h0M253.8 341.8h0M255.8 351.6h0M268.8 345.6h0" stroke="#ff9a52"/>
<path d="M360.2 279.8h0M353.6 273.5h0M366.3 249.8h0M360.8 264.0h0M367.5 268.2h0M365.7 255.8h0M354.6 254.0h0M372.8 270.9h0M368.4 269.0h0M373.1 257.8h0M357.5 272.4h0M366.8 262.3h0M367.6 249.0h0M354.8 269.3h0M371.1 267.9h0M360.9 258.2h0M370.8 262.9h0M363.0 258.5h0M363.8 247.1h0M365.5 261.2h0M363.9 261.5h0M373.0 251.5h0M357.6 262.0h0M366.8 262.1h0M367.3 266.2h0" stroke="#8000ff"/>
<path d="M362.5 266.1h0M370.1 267.0h0M370.2 254.2h0M361.3 261.8h0M366.5 279.4h0M374.4 251.7h0M353.2 270.5h0M354.3 261.2h0M359.6 250.5h0" stroke="#4df3ce"/>
<path d="M371.8 271.7h0M353.7 250.5h0M363.4 261.2h0" stroke="#2f80f7"/>
<path d="M367.7 272.2h0M374.1 258.5h0M357.4 260.5h0M363.0 274.5h0M358.5 262.5h0M368.3 267.3h0M355.3 250.1h0M373.1 265.4h0" stroke="#1acee3"/>
</g>
<g clip-path="url(#cr)" fill="none" stroke-width="2" stroke-linecap="round">
<path d="M834.6 277.7h0M848.5 277.4h0M846.1 281.8h0M836.8 274.5h0M834.6 274.0h0M859.4 279.2h0M847.9 282.6h0M846.8 266.6h0M837.3 271.7h0M853.9 263.4h0M836.6 278.6h0M856.7 267.7h0M839.2 275.4h0M848.2 278.9h0M839.8 275.5h0M846.3 277.3h0M857.2 274.4h0M835.2 275.1h0M856.8 273.5h0M839.9 282.6h0M859.0 279.9h0M851.5 263.2h0M841.1 264.5h0M852.4 275.6h0M850.5 277.3h0M840.7 273.7h0M840.2 281.5h0M853.8 273.5h0M851.3 266.6h0M853.5 276.5h0M842.0 280.4h0M858.7 275.2h0M850.0 263.1h0M859.0 263.7h0M839.9 281.9h0M855.4 277.5h0M851.7 282.9h0M855.6 269.4h0M853.3 266.4h0" stroke="#8000ff"/>
<path d="M849.3 269.9h0M829.1 238.2h0M837.1 271.7h0M852.4 267.5h0M818.7 269.1h0M842.2 241.9h0M835.2 261.1h0M862.2 244.7h0M835.6 268.7h0M852.6 264.9h0M814.6 256.6h0M845.7 253.3h0M828.2 270.5h0M825.2 269.3h0M843.8 264.4h0M832.1 238.1h0M844.4 259.0h0M842.2 251.2h0M848.3 237.3h0M816.1 243.9h0M849.2 270.8h0M834.4 241.8h0M838.5 258.5h0M849.3 259.4h0M837.4 245.7h0M834.0 260.6h0M826.4 244.4h0M852.5 255.3h0M847.8 267.7h0M837.9 263.3h0M854.5 246.5h0M859.4 242.3h0M849.0 268.3h0M818.6 256.5h0M827.0 257.2h0M852.3 271.9h0M851.3 268.1h0M827.0 260.8h0M828.4 264.4h0M836.9 259.8h0M854.2 264.7h0M830.6 269.4h0M863.0 242.4h0M828.0 244.4h0M818.6 256.4h0M837.0 261.3h0M829.6 266.8h0M849.8 239.5h0M814.5 257.6h0M857.7 254.5h0M824.9 270.9h0M836.8 269.1h0M855.2 248.3h0M816.2 250.5h0M854.2 264.4h0M845.5 239.9h0M847.8 255.9h0" stroke="#8000ff"/>
<path d="M811.9 339.6h0M834.3 369.5h0M840.8 370.5h0" stroke="#8000ff"/>
<path d="M772.0 370.0L773.0 374.4L800.0 375.6L828.0 372.0L828.0 368.0Z" fill="#8000ff"/>
<path d="M804.6 375.1h0M803.7 374.6h0M814.9 374.0h0M828.4 369.8h0M785.4 370.0h0M774.1 374.4h0M794.6 375.6h0M783.4 369.6h0M807.4 374.1h0M814.5 373.5h0M788.1 375.2h0M777.6 370.1h0M781.0 374.7h0M822.5 368.9h0M792.0 375.4h0M773.4 374.9h0M822.9 372.8h0M808.4 368.4h0M813.3 374.5h0M827.2 367.9h0M812.0 367.8h0M814.1 374.2h0M799.0 375.4h0M804.1 374.9h0M792.9 368.8h0M827.1 368.2h0M797.7 369.4h0M817.8 369.1h0M792.8 370.1h0M783.1 369.4h0M791.2 375.9h0M798.8 375.7h0M781.9 375.1h0M790.3 374.8h0M780.5 369.6h0M776.8 374.3h0M774.3 374.1h0M792.6 369.7h0M772.0 372.2h0M794.4 369.7h0M810.1 373.5h0M787.0 374.5h0M812.8 374.7h0M806.1 375.4h0M776.0 375.1h0M784.3 369.3h0M778.3 374.4h0M819.7 368.6h0M789.1 374.7h0M806.9 374.8h0M809.7 374.0h0M803.0 375.2h0M794.3 369.5h0M828.0 369.5h0M802.4 368.5h0M789.9 375.0h0M802.9 368.6h0M783.5 369.8h0M819.3 368.4h0M823.2 367.8h0M813.8 368.8h0M795.3 369.7h0M818.5 368.2h0M827.7 371.5h0M807.8 368.7h0M795.8 368.8h0M789.3 374.8h0M827.9 369.6h0M783.2 374.7h0M800.7 375.8h0M786.5 369.2h0M809.4 368.9h0M792.3 375.3h0M803.5 374.9h0M808.2 369.0h0M813.5 374.4h0M813.7 373.9h0M776.4 374.1h0M803.4 375.2h0M786.9 368.7h0M782.3 369.9h0M802.7 374.7h0M805.4 368.2h0M816.9 368.8h0M824.1 368.0h0M793.4 369.6h0M794.0 369.3h0M818.1 373.3h0M801.6 368.8h0M787.1 369.1h0M800.3 369.2h0M809.7 369.2h0M803.9 375.1h0M811.3 374.1h0M803.1 368.9h0M811.2 369.2h0M820.4 372.8h0M782.3 374.6h0M778.4 369.6h0M800.0 368.7h0M780.7 373.8h0M789.0 369.7h0M780.5 369.7h0M824.1 372.6h0M794.8 368.9h0M782.2 374.7h0M808.8 368.8h0M780.2 369.9h0" stroke="#8000ff"/>
<path d="M798.0 381.0h0M811.6 380.6h0M835.6 391.0h0M849.0 419.0h0M841.0 370.0h0M834.0 370.0h0" stroke="#8000ff"/>
<path d="M768.0 423.0L830.0 423.0L832.0 421.0L768.0 421.6Z" fill="#8000ff"/>
<path d="M788.9 422.4h0M791.0 421.3h0M785.8 422.7h0M823.4 421.4h0M821.5 421.2h0M828.2 421.1h0M824.5 423.0h0M767.8 423.1h0M775.4 422.1h0M772.9 422.7h0M775.8 422.7h0M783.9 422.9h0M810.0 421.7h0M788.7 423.7h0M831.3 420.3h0M810.8 421.0h0M801.3 422.7h0M807.6 420.9h0M811.5 422.8h0M785.8 422.4h0M797.1 422.0h0M797.4 420.9h0M782.3 421.2h0M797.6 422.0h0M779.3 423.4h0M780.1 420.6h0M830.5 422.8h0M772.5 423.0h0M809.7 421.2h0M828.3 423.7h0M790.1 421.3h0M824.9 421.5h0M768.6 422.2h0M772.1 422.9h0M817.1 423.0h0M831.8 420.8h0M799.3 420.1h0M791.4 422.9h0M829.8 423.2h0M821.7 421.3h0M786.0 423.7h0M793.7 421.2h0M771.8 421.6h0M768.3 422.3h0M816.5 421.6h0M794.8 423.8h0M816.6 420.2h0M795.8 423.0h0M801.5 424.0h0M798.9 421.2h0M803.1 423.4h0M796.2 421.5h0M783.9 422.6h0M825.9 421.5h0M767.6 421.6h0M821.8 423.3h0M776.8 423.0h0M808.9 422.5h0M827.4 421.6h0M785.9 422.2h0M800.1 423.1h0M790.7 422.9h0M770.8 423.4h0M815.2 423.3h0M815.5 420.6h0M821.9 420.9h0M830.7 422.3h0M830.1 421.1h0M826.9 422.5h0M794.9 420.9h0M776.2 423.6h0M801.4 420.8h0M828.9 420.5h0M788.9 421.8h0M778.4 421.8h0M818.6 420.7h0M797.8 422.2h0M805.8 421.7h0M787.5 420.9h0M810.1 420.3h0M776.4 422.0h0M778.9 422.5h0M830.7 421.8h0M784.2 423.0h0M800.9 423.1h0M785.6 423.5h0M780.0 422.6h0M797.5 422.1h0M795.2 423.3h0M797.4 422.7h0M781.6 422.7h0M774.4 421.8h0M821.6 421.2h0M797.8 421.2h0M783.5 422.9h0M815.9 423.4h0M809.8 423.1h0M820.6 422.6h0M798.8 423.0h0M805.1 420.7h0M797.1 421.5h0M819.0 423.7h0M787.4 423.2h0M792.2 423.5h0M818.4 422.9h0M775.9 423.1h0M785.7 422.0h0M821.7 421.5h0M797.2 423.1h0M799.1 423.1h0M820.8 421.3h0M825.1 423.3h0M816.9 420.9h0M830.7 421.4h0M805.0 422.9h0M787.1 422.6h0M810.7 423.7h0M776.6 422.5h0" stroke="#8000ff"/>
<path d="M760.0 426.0L761.0 428.0L770.0 430.0L806.0 428.0L818.0 426.0L820.0 423.6L790.0 425.0L770.0 425.0Z" fill="#4d4ffc"/>
<path d="M795.8 429.5h0M816.0 426.2h0M820.0 424.0h0M786.0 425.4h0M801.9 428.7h0M766.2 428.5h0M790.2 428.6h0M787.2 424.4h0M778.6 430.0h0M793.2 425.5h0M814.0 424.5h0M819.4 423.6h0M782.6 429.5h0M802.6 428.2h0M806.9 428.3h0M812.4 426.9h0M787.2 428.9h0M817.2 425.7h0M816.9 426.0h0M772.9 425.0h0M816.2 426.6h0M786.7 429.8h0M817.6 426.0h0M764.0 428.5h0M766.8 430.1h0M769.2 425.2h0M806.5 423.7h0M799.3 425.1h0M791.6 425.3h0M762.1 426.0h0M806.3 428.1h0M808.7 427.7h0M795.7 429.0h0M812.0 424.6h0M785.4 429.2h0M768.7 425.4h0M819.3 423.7h0M804.2 424.5h0M773.9 425.6h0M775.6 425.7h0M770.1 425.1h0M764.8 426.1h0M801.4 424.2h0M806.9 424.0h0M811.3 423.9h0M803.0 428.3h0M792.1 425.1h0M768.0 430.8h0M766.6 425.5h0M804.0 424.8h0M794.6 428.5h0M779.6 425.1h0M781.6 424.7h0M805.9 428.2h0M773.0 425.4h0M777.5 429.4h0M803.5 427.9h0M768.2 425.1h0M785.0 429.4h0M777.5 425.3h0M766.2 425.5h0M816.6 424.7h0M786.9 424.3h0M787.4 424.3h0M818.9 425.3h0M796.4 423.5h0M806.0 427.5h0M780.7 429.9h0M796.8 424.6h0M806.9 427.9h0M816.9 425.7h0M762.6 428.8h0M813.1 425.1h0M814.8 427.0h0M819.9 423.8h0M776.0 429.9h0M792.9 428.5h0M794.6 428.5h0M773.9 425.5h0M810.6 426.6h0M818.6 424.1h0M779.1 425.0h0M774.9 424.5h0M802.9 423.6h0M809.5 424.3h0M787.7 424.7h0M817.7 423.5h0M802.4 423.6h0M761.5 426.0h0M774.8 429.3h0M817.9 424.5h0M776.2 424.8h0M783.9 428.6h0M767.6 429.4h0M805.9 423.8h0M776.7 430.1h0M764.5 429.2h0M765.9 429.6h0M779.5 429.2h0M764.8 425.5h0M781.5 430.3h0M763.0 428.7h0M774.8 424.9h0M795.1 424.8h0M761.6 427.6h0M818.7 423.1h0M765.3 425.4h0M807.3 428.7h0M770.6 430.3h0M782.3 429.2h0M789.6 428.4h0" stroke="#4d4ffc"/>
<path d="M861.6 271.9h0M857.6 264.5h0M849.0 277.4h0M862.1 281.7h0M856.6 261.1h0M836.2 271.5h0M862.6 264.3h0M851.5 271.4h0M858.2 268.6h0M856.2 274.9h0M842.0 272.6h0M841.3 265.0h0M859.5 276.5h0M852.6 281.7h0M836.7 282.9h0M859.8 279.5h0M859.6 263.9h0M838.5 280.8h0M854.4 266.6h0M834.4 276.0h0M840.2 269.2h0M854.0 266.3h0M844.4 268.3h0M848.4 275.0h0M838.4 275.8h0M852.8 263.8h0M848.0 270.6h0" stroke="#2f80f7"/>
<path d="M858.6 248.6h0M841.2 245.9h0M817.3 243.4h0M853.2 271.9h0M862.2 245.1h0M837.5 264.2h0M859.6 265.2h0M857.3 253.5h0M856.9 247.9h0M829.5 241.9h0M814.3 258.3h0M828.3 257.3h0M822.0 259.7h0M838.7 254.1h0M860.9 244.4h0M820.8 261.1h0M823.3 265.5h0M851.1 237.5h0M852.8 244.5h0M827.6 244.4h0M862.5 245.5h0M838.6 258.2h0M837.8 268.0h0M855.6 246.8h0M853.2 241.6h0" stroke="#2f80f7"/>
<path d="M804.3 321.8h0M802.2 328.5h0M799.1 309.3h0M801.6 303.2h0M798.2 308.6h0M808.8 329.1h0M798.8 318.9h0M798.4 312.5h0M806.3 329.6h0" stroke="#2f80f7"/>
<path d="M778.0 407.0L780.0 411.0L796.0 411.0L798.0 408.0L790.0 407.0Z" fill="#2f80f7"/>
<path d="M792.1 407.6h0M779.6 410.4h0M797.2 408.1h0M782.6 410.6h0M780.0 410.9h0M797.6 409.3h0M783.8 410.4h0M781.6 407.3h0M796.0 410.6h0M795.5 410.1h0M797.4 409.3h0M779.8 406.9h0M778.0 406.8h0M792.8 411.2h0M778.4 406.7h0M784.3 407.3h0M795.8 411.9h0M795.7 410.9h0M782.1 410.8h0M787.0 407.1h0M795.0 407.1h0M787.1 406.6h0M797.9 408.1h0M785.1 411.3h0M786.3 407.0h0M791.5 410.7h0M787.1 406.8h0M797.4 409.1h0M784.5 406.3h0M780.0 410.2h0M778.3 406.6h0M778.1 407.6h0M778.4 408.4h0M784.4 407.2h0M793.7 408.1h0M796.7 410.1h0M797.7 409.2h0M786.7 411.0h0M778.7 410.5h0M779.5 409.2h0" stroke="#2f80f7"/>
<path d="M804.0 410.0h0M808.0 409.0h0M812.4 408.0h0" stroke="#2f80f7"/>
<path d="M825.5 252.7h0M843.7 263.7h0M854.3 272.0h0M819.5 254.4h0M857.1 271.9h0M851.6 266.5h0M838.1 250.0h0M858.1 238.4h0M844.8 254.7h0M830.9 247.2h0M844.6 264.1h0M839.1 237.3h0M815.0 250.8h0M862.6 265.2h0M823.2 257.1h0" stroke="#1acee3"/>
<path d="M763.0 403.6L766.0 407.0L790.0 406.4L792.0 404.0Z" fill="#1acee3"/>
<path d="M780.1 403.3h0M769.3 407.4h0M786.5 406.3h0M763.7 404.4h0M768.7 407.4h0M787.5 403.8h0M789.6 406.3h0M770.2 403.9h0M782.1 406.7h0M777.0 403.5h0M789.8 404.2h0M777.6 406.9h0M771.3 406.7h0M772.5 406.5h0M764.7 404.3h0M783.3 406.5h0M763.3 403.7h0M790.3 406.6h0M785.6 406.3h0M787.7 404.5h0M782.5 406.8h0M769.0 402.9h0M778.3 404.2h0M772.3 407.0h0M788.8 404.2h0M764.4 403.6h0M768.2 404.0h0M768.4 402.9h0M791.9 404.2h0M787.4 406.5h0M789.1 403.6h0M789.0 403.5h0M776.8 404.1h0M790.9 404.6h0M778.9 406.6h0M772.5 406.9h0M787.5 404.0h0M790.9 404.7h0M777.5 406.8h0M771.6 403.7h0M764.1 405.0h0M775.0 407.0h0M785.2 403.3h0M780.9 407.1h0M767.5 403.0h0M784.6 403.7h0M763.1 403.4h0M787.2 406.5h0M777.3 403.9h0M781.3 404.3h0M780.2 404.0h0M790.1 403.9h0M764.4 405.4h0M771.0 403.9h0M786.9 404.2h0" stroke="#1acee3"/>
<path d="M780.0 420.0L780.0 421.6L826.0 420.0L826.0 418.8Z" fill="#1acee3"/>
<path d="M802.0 421.2h0M821.7 418.9h0M811.3 419.2h0M796.9 420.4h0M811.9 418.0h0M787.5 420.6h0M783.2 421.3h0M794.5 420.9h0M800.6 419.7h0M785.8 419.2h0M813.8 419.3h0M788.4 419.5h0M816.3 420.2h0M780.1 420.7h0M786.9 420.1h0M790.9 420.8h0M825.1 418.4h0M815.3 421.2h0M815.2 420.7h0M784.4 420.4h0M797.1 420.9h0M781.6 419.0h0M810.7 419.7h0M821.0 419.9h0M814.3 419.1h0M796.3 419.0h0M808.9 420.4h0M798.2 420.7h0M786.1 422.5h0M787.8 419.6h0M807.4 419.1h0M817.2 418.7h0M811.6 420.7h0M780.7 421.3h0M783.3 419.6h0M816.3 419.0h0M807.8 421.8h0M792.9 419.6h0M812.7 418.7h0M799.1 419.7h0M818.4 419.2h0M819.9 419.2h0M780.6 419.7h0M805.1 421.1h0M817.1 419.1h0M788.3 419.1h0M823.9 420.7h0M806.9 421.2h0M787.9 420.5h0M793.1 420.7h0M804.1 420.9h0M799.1 419.7h0M802.7 419.7h0M787.0 420.4h0M779.6 420.8h0M817.8 420.1h0M818.3 420.8h0M794.8 420.1h0M786.6 419.6h0M822.1 419.4h0M824.3 420.0h0M816.1 418.7h0M814.6 419.2h0M785.8 419.9h0M806.5 421.0h0M788.2 422.1h0M800.2 420.4h0M793.4 419.2h0M807.2 419.7h0M826.5 420.7h0M785.4 420.0h0M802.3 419.1h0M796.6 421.4h0M823.7 419.4h0M799.5 419.6h0M796.4 420.7h0M781.3 421.7h0M806.9 419.9h0M781.3 419.4h0M786.7 421.6h0M810.7 419.1h0M820.7 419.6h0M795.9 420.0h0M803.0 420.5h0M814.4 419.0h0M812.2 419.7h0" stroke="#1acee3"/>
<path d="M852.4 264.9h0M845.0 280.3h0M845.9 271.3h0M857.8 275.8h0M851.5 277.3h0M861.2 277.8h0M836.4 281.7h0M842.7 278.0h0M857.7 272.2h0M850.4 282.8h0M857.4 264.6h0M837.6 280.0h0M845.9 270.1h0M846.1 269.3h0M859.2 282.1h0M856.7 281.3h0M853.7 276.2h0M855.3 274.9h0M841.1 273.1h0M846.0 261.9h0M856.4 282.1h0M852.7 271.6h0M858.9 264.4h0M861.6 277.7h0M849.4 272.6h0M847.2 272.7h0M845.8 263.7h0M856.8 270.3h0M852.0 266.5h0M845.1 264.1h0M860.2 280.2h0M839.6 272.9h0M839.3 266.3h0M841.0 277.4h0M850.9 282.9h0M846.2 268.8h0M859.5 276.6h0M848.1 261.8h0M855.8 281.5h0M844.9 264.8h0M858.3 269.5h0M835.4 274.0h0M832.4 268.7h0M847.3 273.7h0M844.1 279.9h0M858.8 282.5h0M860.5 266.6h0M841.1 280.5h0M841.0 274.3h0M834.6 278.0h0M852.0 274.6h0M856.0 263.4h0M856.2 273.1h0M853.5 279.5h0M844.9 265.8h0M843.7 276.3h0M846.1 272.2h0M848.1 267.4h0M843.8 270.4h0M844.3 264.4h0M835.8 280.9h0" stroke="#4df3ce"/>
<path d="M840.7 273.9h0M857.6 260.7h0M852.1 256.9h0M858.4 247.0h0M817.1 251.8h0M831.8 259.6h0M862.8 269.4h0M820.4 259.0h0M820.8 271.8h0M841.6 249.8h0M817.3 254.6h0M823.9 239.8h0M818.6 267.5h0M838.2 252.5h0M824.2 256.7h0M817.2 257.5h0M831.8 257.2h0M857.5 250.6h0M826.3 259.4h0" stroke="#4df3ce"/>
<path d="M804.3 273.0h0M791.5 279.5h0M795.2 261.1h0M798.1 271.3h0M794.3 266.5h0M795.5 277.3h0M801.5 266.3h0M796.1 275.9h0M803.0 262.2h0" stroke="#4df3ce"/>
<path d="M798.2 292.0h0M801.1 318.5h0M809.3 326.5h0M800.6 324.7h0M812.8 327.5h0M798.7 302.6h0M798.1 319.8h0M802.6 327.9h0M807.8 332.1h0M802.1 319.2h0M802.9 320.6h0M812.1 329.4h0M809.7 333.1h0M798.2 320.9h0" stroke="#4df3ce"/>
<path d="M791.6 292.6h0M791.6 309.7h0M816.6 230.7h0" stroke="#4df3ce"/>
<path d="M767.0 365.6L767.6 371.0L828.0 369.0L827.0 364.0Z" fill="#4df3ce"/>
<path d="M792.1 364.3h0M771.6 365.4h0M808.3 364.5h0M771.6 371.3h0M798.3 370.5h0M776.9 364.6h0M789.3 370.1h0M804.1 370.6h0M818.3 363.6h0M798.4 369.1h0M797.9 364.1h0M767.3 365.2h0M827.0 368.9h0M784.6 370.5h0M812.6 363.7h0M825.1 363.3h0M822.9 368.2h0M805.9 365.1h0M783.8 371.6h0M782.9 365.5h0M767.1 365.7h0M805.0 369.1h0M804.6 364.4h0M816.1 368.8h0M802.6 364.2h0M785.9 364.8h0M822.5 364.3h0M790.2 364.9h0M822.5 364.5h0M772.8 365.4h0M826.2 363.3h0M772.6 370.4h0M827.4 363.5h0M785.5 364.6h0M795.7 369.0h0M792.2 370.4h0M767.7 370.3h0M792.8 370.3h0M815.2 365.3h0M816.9 365.5h0M799.9 369.7h0M777.7 370.2h0M814.3 369.7h0M780.9 366.3h0M804.4 365.0h0M785.3 370.3h0M828.4 364.9h0M785.3 364.8h0M787.0 370.0h0M781.3 365.7h0M809.9 369.0h0M768.4 370.5h0M790.7 370.2h0M809.3 364.4h0M767.6 370.3h0M819.4 365.2h0M791.4 364.5h0M786.4 370.0h0M794.9 369.4h0M777.3 364.3h0M781.7 365.1h0M784.8 365.1h0M820.8 363.2h0M826.6 364.1h0M824.1 369.2h0M789.5 364.0h0M786.4 369.9h0M815.6 364.5h0M782.3 364.5h0M812.7 369.8h0M803.8 365.3h0M828.2 365.1h0M810.3 364.3h0M775.8 364.8h0M785.7 370.8h0M772.6 370.0h0M818.7 370.6h0M813.8 368.9h0M788.0 369.8h0M819.7 364.8h0M814.2 364.5h0M767.0 371.2h0M774.8 370.4h0M800.5 369.8h0M779.0 370.6h0M827.5 367.3h0M768.9 365.4h0M812.8 364.3h0M808.8 369.7h0M827.6 368.5h0M820.9 363.8h0M794.3 364.7h0M800.2 364.8h0M794.5 364.8h0M812.3 363.9h0M819.7 369.5h0M795.6 365.4h0M786.9 370.2h0M803.3 370.0h0M818.6 369.2h0M780.7 366.0h0M815.2 369.0h0M778.8 365.6h0M779.0 365.1h0M786.9 365.4h0M802.7 369.6h0M789.0 364.6h0M820.3 364.8h0M792.2 365.3h0M768.7 369.5h0M810.4 369.6h0M815.9 369.1h0M784.3 366.2h0M789.7 370.4h0M767.7 370.4h0M806.4 370.0h0M824.3 363.4h0M776.2 364.6h0M824.5 368.9h0" stroke="#4df3ce"/>
<path d="M774.0 419.0L780.0 422.0L830.0 420.0L842.0 417.0L830.0 415.6L800.0 417.0Z" fill="#4df3ce"/>
<path d="M828.9 415.8h0M792.8 422.1h0M793.2 416.7h0M783.3 421.7h0M835.7 418.3h0M787.3 418.3h0M820.9 416.5h0M820.1 415.6h0M791.5 421.2h0M834.1 418.5h0M815.4 415.9h0M820.6 420.4h0M791.1 421.9h0M798.5 416.7h0M788.4 417.9h0M790.7 418.1h0M814.2 416.7h0M821.9 416.0h0M831.1 416.1h0M778.4 418.3h0M832.2 415.5h0M788.1 417.9h0M826.3 420.1h0M839.3 416.4h0M778.0 421.1h0M787.2 422.1h0M831.2 415.8h0M778.1 420.9h0M776.3 418.3h0M797.5 421.1h0M807.9 421.0h0M835.2 419.4h0M797.5 417.0h0M835.0 416.0h0M784.8 421.6h0M792.1 421.7h0M801.6 416.4h0M787.4 418.1h0M808.1 416.2h0M817.4 420.4h0M788.4 417.7h0M793.9 421.4h0M797.1 421.5h0M828.0 419.2h0M828.4 415.7h0M807.6 421.1h0M773.9 419.5h0M811.4 421.1h0M829.2 415.9h0M837.1 418.4h0M789.6 421.4h0M817.7 420.8h0M832.2 420.0h0M822.8 416.4h0M814.3 417.1h0M808.3 421.6h0M818.3 420.9h0M784.5 417.8h0M783.9 422.1h0M807.6 416.5h0M822.1 420.6h0M838.1 416.8h0M833.9 415.9h0M777.0 420.5h0M835.0 416.2h0M795.7 417.3h0M813.4 415.6h0M786.4 418.3h0M800.1 420.9h0M787.1 421.7h0M832.2 419.7h0M792.4 421.4h0M828.3 420.6h0M829.4 419.7h0M839.3 417.3h0M805.8 421.0h0M834.2 419.2h0M825.5 420.2h0M840.3 417.7h0M806.6 421.0h0M819.7 415.8h0M803.4 416.9h0M792.0 417.4h0M802.0 417.6h0M792.9 417.1h0M818.1 419.8h0M787.4 418.5h0M806.5 421.5h0M799.2 421.1h0M798.4 420.8h0M833.9 419.8h0M797.9 416.5h0M792.5 421.4h0M793.3 421.8h0M779.6 418.4h0M813.8 420.5h0M817.7 416.2h0M824.4 420.9h0M839.5 417.6h0M814.2 420.7h0M774.6 420.0h0M789.3 418.1h0M840.9 417.3h0M839.8 417.7h0M814.1 420.6h0M805.7 420.3h0M821.2 415.8h0M824.3 420.4h0M825.4 416.1h0M819.2 419.3h0M841.2 416.3h0M791.6 417.6h0M808.8 416.4h0M791.4 417.3h0M823.1 415.5h0M816.1 420.8h0M837.6 416.5h0M816.8 420.4h0M789.5 418.2h0M839.7 417.3h0M837.4 416.3h0M789.6 417.4h0M811.5 416.3h0M823.3 415.7h0" stroke="#4df3ce"/>
<path d="M798.6 432.6h0" stroke="#4df3ce"/>
<path d="M848.1 271.0h0M858.7 276.1h0M851.3 261.4h0M860.9 266.3h0M843.5 264.8h0M862.5 266.7h0M846.2 267.1h0M844.3 271.1h0M849.8 263.2h0M844.0 274.2h0M837.6 272.5h0M851.2 268.8h0M853.1 280.2h0M853.0 274.4h0M848.4 271.5h0M860.6 282.6h0M851.7 274.8h0M850.3 282.8h0M854.4 276.4h0M846.1 270.7h0M836.6 280.4h0M839.3 273.2h0M849.2 280.4h0M856.4 276.4h0M849.1 268.0h0M844.3 266.1h0M840.2 272.1h0M856.8 271.8h0M844.3 264.8h0M839.7 275.9h0M851.4 278.6h0M848.2 266.7h0M859.2 278.0h0M833.4 273.3h0M859.0 266.7h0M854.9 264.4h0M862.2 262.4h0M850.3 277.9h0M854.5 271.2h0M842.0 266.9h0M853.8 268.7h0M857.6 279.5h0M855.2 279.5h0M834.8 273.6h0M861.4 267.2h0M858.0 263.5h0M850.6 274.1h0M859.9 276.5h0" stroke="#b3f396"/>
<path d="M803.3 280.9h0M798.9 272.2h0M794.4 263.8h0M793.3 271.2h0M805.2 267.4h0M807.4 270.9h0M796.3 254.5h0M800.9 255.8h0M790.8 280.9h0M800.8 276.3h0M792.1 274.9h0M801.7 258.4h0M797.6 269.9h0M803.7 270.2h0M797.3 256.3h0M790.9 281.6h0M798.5 257.5h0M792.8 281.5h0M795.5 281.1h0" stroke="#b3f396"/>
<path d="M814.1 335.3L815.1 341.7L822.6 342.1L823.7 337.4Z" fill="#b3f396"/>
<path d="M820.4 342.0h0M820.7 337.0h0M823.4 339.0h0M815.1 337.3h0M814.0 337.1h0M822.1 338.3h0M815.8 341.4h0M822.0 341.8h0M818.7 342.0h0M813.8 337.0h0M821.3 337.5h0M820.5 342.8h0M815.2 336.9h0M817.0 337.0h0M814.7 337.4h0M815.9 341.8h0M817.2 341.9h0M819.2 336.8h0M823.8 337.7h0M814.7 337.9h0M817.9 335.3h0M814.7 336.6h0M821.6 337.0h0M815.4 336.9h0M820.0 335.6h0M817.2 342.1h0" stroke="#b3f396"/>
<path d="M768.0 367.0L768.4 369.0L810.0 368.0L810.0 366.0Z" fill="#b3f396"/>
<path d="M808.1 365.8h0M785.2 366.4h0M777.9 369.0h0M780.5 368.4h0M775.2 366.6h0M776.7 367.5h0M776.2 368.8h0M768.8 366.2h0M771.7 366.3h0M808.3 365.4h0M776.8 368.6h0M796.8 366.1h0M792.9 368.5h0M793.6 368.7h0M774.2 369.5h0M775.4 367.0h0M779.2 369.3h0M804.8 365.9h0M789.3 367.2h0M785.5 368.7h0M805.0 368.5h0M768.2 368.3h0M781.5 368.8h0M793.6 366.9h0M808.9 367.9h0M790.0 366.7h0M781.0 366.7h0M796.7 366.1h0M809.8 367.9h0M777.1 366.9h0M784.1 366.4h0M792.3 366.0h0M797.7 366.3h0M774.5 367.3h0M778.6 366.7h0M786.2 367.1h0M771.9 367.3h0M770.0 369.3h0M782.2 368.6h0M771.7 369.2h0M799.9 367.7h0M796.9 368.0h0M790.7 366.9h0M809.8 368.0h0M784.6 369.1h0M778.4 369.0h0M808.1 365.9h0M797.9 365.4h0M777.1 368.9h0M768.6 368.6h0M803.6 365.6h0M791.3 366.2h0M785.6 368.8h0M807.8 367.7h0M772.5 370.1h0M786.6 368.1h0M801.1 366.1h0M798.0 367.7h0M781.1 367.2h0M784.6 369.2h0M797.2 366.4h0M803.2 367.0h0M773.6 367.7h0M798.1 368.7h0M804.3 367.8h0M787.6 368.1h0M780.5 366.7h0M770.4 369.7h0M809.5 366.0h0M769.2 367.4h0M779.4 366.9h0M806.6 366.0h0M787.9 366.5h0M802.5 365.9h0M774.4 366.4h0M790.9 366.6h0M776.9 367.1h0M786.2 368.9h0M770.3 367.7h0" stroke="#b3f396"/>
<path d="M763.0 399.0L764.0 404.0L786.0 404.0L802.0 406.0L818.0 402.0L821.0 399.0L814.0 395.6L804.0 397.0L790.0 400.0L780.0 397.0L770.0 397.0Z" fill="#b3f396"/>
<path d="M810.3 404.6h0M817.8 397.4h0M811.1 403.9h0M765.7 404.0h0M780.2 403.9h0M764.5 401.5h0M764.6 404.0h0M773.9 404.4h0M820.7 398.4h0M803.6 404.9h0M783.3 403.7h0M772.0 404.3h0M794.9 405.5h0M819.9 399.9h0M785.8 398.7h0M802.7 405.1h0M777.3 404.1h0M790.9 400.2h0M780.7 396.6h0M767.6 397.2h0M764.3 399.4h0M773.2 404.1h0M778.6 405.3h0M783.5 403.4h0M786.8 403.3h0M774.8 396.8h0M800.3 397.4h0M803.3 397.2h0M762.5 401.2h0M785.8 403.7h0M818.1 396.8h0M817.8 397.3h0M775.7 397.2h0M809.6 396.6h0M763.4 399.7h0M771.3 403.3h0M781.2 404.0h0M770.8 404.5h0M819.8 400.0h0M775.4 396.5h0M782.0 397.8h0M793.6 404.8h0M795.2 398.8h0M798.7 398.5h0M787.9 400.1h0M789.5 404.7h0M767.2 397.6h0M804.3 397.8h0M768.2 404.0h0M791.7 399.6h0M787.1 399.9h0M814.1 403.1h0M776.2 403.7h0M769.3 396.4h0M819.9 400.4h0M785.5 403.8h0M794.6 405.1h0M812.0 405.1h0M813.3 396.1h0M774.4 404.5h0M820.5 398.4h0M804.1 405.5h0M791.3 404.6h0M805.9 405.0h0M785.3 398.5h0M816.9 396.6h0M764.9 398.5h0M769.0 396.0h0M772.2 403.9h0M798.3 398.4h0M772.1 403.8h0M782.3 398.6h0M806.5 396.7h0M798.1 399.7h0M763.4 398.2h0M767.3 404.1h0M809.8 404.1h0M774.9 403.7h0M820.0 401.5h0M772.7 397.0h0M775.4 403.2h0M789.3 400.2h0M802.0 405.7h0M795.9 398.5h0M803.4 405.4h0M817.5 401.8h0M801.8 397.9h0M807.1 404.0h0M782.5 398.0h0M769.1 397.5h0M769.3 397.4h0M776.0 397.0h0M794.1 398.7h0M763.1 402.0h0M778.1 402.9h0M776.3 397.6h0M808.2 395.9h0M819.7 401.5h0M808.8 397.1h0M765.4 403.6h0M774.3 403.7h0M809.1 396.0h0M807.0 395.7h0M768.2 398.1h0M763.4 404.4h0M769.4 395.7h0M763.7 402.4h0M816.6 396.6h0M770.1 404.3h0M785.3 398.6h0M778.1 404.3h0M780.6 403.5h0" stroke="#b3f396"/>
<path d="M761.0 419.0L762.0 423.0L790.0 420.0L780.0 417.0Z" fill="#b3f396"/>
<path d="M779.9 416.8h0M777.0 417.4h0M784.7 420.8h0M776.4 421.6h0M779.0 421.1h0M762.0 418.6h0M771.9 422.3h0M761.1 418.5h0M779.4 421.5h0M784.2 421.2h0M779.7 417.6h0M767.1 423.1h0M777.1 417.6h0M768.2 417.8h0M769.7 417.9h0M786.5 420.4h0M765.1 418.5h0M769.0 422.9h0M766.4 422.2h0M774.6 417.8h0M773.9 417.7h0M783.6 420.7h0M771.5 421.8h0M761.9 418.8h0M782.7 421.0h0M777.3 421.7h0M761.5 421.2h0M786.5 418.7h0M765.2 418.7h0M780.2 417.5h0M785.2 418.1h0M771.9 421.6h0M775.4 417.3h0M762.7 419.2h0M766.0 422.2h0M772.1 418.2h0M767.6 421.8h0M771.8 422.2h0M767.7 422.3h0M773.0 417.9h0M787.4 419.5h0M766.9 421.8h0M764.3 418.5h0M769.1 417.5h0M789.1 420.7h0M761.8 422.9h0M775.8 422.1h0M761.3 420.7h0M783.8 420.1h0M786.2 419.4h0M764.7 422.5h0M771.5 421.7h0M771.9 422.2h0M782.7 420.2h0M775.0 421.5h0M769.4 421.8h0" stroke="#b3f396"/>
<path d="M832.0 397.0h0M836.0 395.0h0M837.0 399.0h0M833.6 404.0h0M825.0 403.0h0M793.0 398.0h0M797.0 396.6h0" stroke="#b3f396"/>
<path d="M810.4 282.4L814.1 270.2L818.3 258.9L823.7 255.2L829.4 262.7L833.3 273.4L835.8 283.0Z" fill="#e0c878"/>
<path d="M815.8 284.0h0M814.3 269.5h0M829.3 268.4h0M828.5 283.8h0M833.9 284.4h0M836.4 279.7h0M819.5 261.0h0M815.0 265.6h0M814.5 282.8h0M826.2 256.9h0M816.5 265.9h0M826.4 258.7h0M808.3 281.4h0M825.0 255.0h0M827.7 260.0h0M835.7 274.8h0M836.7 278.5h0M834.4 272.5h0M835.2 278.8h0M828.4 284.6h0M823.2 282.9h0M810.4 280.0h0M834.2 270.5h0M817.9 281.8h0M815.5 275.2h0M821.5 254.1h0M818.9 258.7h0M822.3 283.3h0M830.6 268.2h0M827.8 261.0h0M833.1 283.1h0M821.1 256.0h0M833.8 276.8h0M818.0 261.3h0M817.5 264.5h0M816.4 261.7h0M810.7 282.1h0M818.6 261.1h0M830.7 282.9h0M831.4 268.1h0M830.4 266.4h0M836.1 280.8h0M833.1 270.6h0M813.7 283.1h0M832.1 272.9h0M812.4 272.2h0M815.6 281.9h0M814.3 275.9h0M821.6 257.1h0M821.4 253.2h0M821.7 254.3h0M826.1 258.4h0M817.5 263.4h0M821.1 255.3h0M832.6 272.2h0M835.8 279.0h0M827.0 262.7h0M835.1 275.5h0M828.8 282.3h0M816.6 284.5h0M823.6 284.4h0M830.0 263.1h0M815.0 268.3h0M810.1 280.6h0M819.8 256.8h0M819.7 261.5h0M836.8 279.2h0M821.6 282.7h0M817.6 284.0h0M813.0 270.7h0M829.6 262.6h0M830.2 259.9h0M826.4 282.8h0M837.0 282.7h0M816.5 283.4h0M820.1 258.2h0M815.1 266.2h0M824.4 281.9h0M824.8 282.4h0" stroke="#e0c878"/>
<path d="M853.3 264.6h0M854.0 263.7h0M834.7 274.6h0M854.4 263.3h0M834.5 268.7h0M853.0 275.4h0M836.3 276.2h0M859.8 276.2h0M842.1 271.9h0M856.5 277.7h0M834.3 276.0h0M861.5 277.0h0M860.9 264.7h0M856.9 265.9h0M834.3 270.2h0M844.2 268.9h0M861.2 272.1h0M846.2 270.8h0M853.8 277.4h0M843.0 282.8h0M843.5 269.1h0M843.2 266.4h0M856.4 281.3h0M844.8 266.9h0M836.8 274.8h0M852.8 271.9h0M835.1 268.2h0M854.7 263.0h0M852.3 273.6h0" stroke="#e0c878"/>
<path d="M845.0 262.0h0M827.9 264.2h0M853.8 271.4h0M832.6 242.9h0M844.4 267.8h0M860.2 239.6h0M845.0 259.3h0M819.8 264.0h0M854.5 269.9h0M818.2 241.8h0M823.8 272.7h0M851.3 243.7h0M830.7 262.4h0M845.1 257.4h0" stroke="#e0c878"/>
<path d="M806.7 236.5h0M805.2 236.9h0M805.2 239.2h0M812.3 237.3h0M810.6 239.2h0M808.8 236.6h0M805.9 240.1h0M807.3 239.5h0M807.6 240.2h0M810.5 237.3h0" stroke="#e0c878"/>
<path d="M780.0 355.6h0M792.0 355.0h0M857.0 402.0h0" stroke="#e0c878"/>
<path d="M759.0 450.0L761.0 454.0L785.0 454.4L780.0 449.0L774.0 446.0L768.0 447.0L762.0 449.6Z" fill="#e0c878"/>
<path d="M767.5 454.1h0M771.5 454.4h0M763.7 449.2h0M773.3 453.6h0M763.7 453.2h0M784.6 454.9h0M770.8 454.8h0M760.5 453.5h0M761.3 453.7h0M782.1 453.6h0M768.8 454.5h0M784.7 454.7h0M769.9 446.6h0M764.1 453.7h0M766.4 447.5h0M770.0 454.2h0M765.3 454.9h0M777.1 454.4h0M783.6 452.6h0M759.0 452.1h0M771.0 446.9h0M777.2 448.3h0M765.7 448.6h0M767.2 447.2h0M773.2 454.9h0M784.2 454.7h0M783.1 453.1h0M780.4 449.7h0M772.0 454.1h0M762.6 454.2h0M776.0 455.0h0M775.8 454.4h0M776.8 447.9h0M781.8 451.7h0M774.9 454.4h0M784.0 452.8h0M770.8 453.5h0M774.7 445.5h0M764.2 453.8h0M760.3 448.3h0M761.1 453.2h0M771.1 446.7h0M765.1 453.7h0M759.7 451.4h0M771.9 454.4h0M783.0 453.2h0M779.3 449.6h0M779.9 449.6h0M770.0 446.7h0M759.6 451.5h0M762.8 453.9h0M760.2 452.8h0" stroke="#e0c878"/>
<path d="M787.0 447.0L788.0 452.0L804.0 453.0L800.0 450.0L793.0 449.0Z" fill="#e0c878"/>
<path d="M795.1 452.2h0M798.5 453.0h0M795.7 448.8h0M790.9 452.0h0M789.6 451.4h0M799.7 452.7h0M795.9 449.6h0M787.1 447.9h0M786.8 447.0h0M801.4 450.2h0M795.9 448.4h0M787.5 449.1h0M791.9 449.0h0M797.4 450.4h0M800.4 450.7h0M798.4 450.0h0M790.5 448.7h0M787.5 450.3h0M800.5 450.6h0M801.8 453.3h0M804.3 452.9h0M801.6 452.6h0M791.1 448.2h0M800.2 449.9h0M804.0 452.0h0M801.2 452.3h0M802.3 452.7h0M794.6 453.2h0M787.7 450.1h0M800.2 450.7h0M797.7 450.4h0M800.1 450.5h0M794.6 448.9h0M795.4 448.8h0M787.3 447.7h0" stroke="#e0c878"/>
<path d="M818.7 265.3h0M829.3 275.1h0M820.9 268.7h0M828.6 281.7h0M826.0 273.1h0M820.0 271.9h0M817.8 262.0h0M827.3 282.6h0M822.1 264.5h0M823.4 259.7h0M828.4 266.6h0M829.5 269.4h0M824.8 258.0h0M816.8 270.0h0M828.2 273.8h0M818.2 273.3h0M814.3 278.5h0M822.8 260.9h0M828.4 269.9h0M825.6 276.8h0M821.4 266.2h0M825.1 260.5h0M825.4 269.0h0M818.7 266.6h0M814.5 281.4h0M834.8 281.5h0M824.8 261.7h0M831.1 280.5h0M831.4 281.4h0M820.5 268.3h0M822.0 279.2h0M826.4 281.0h0M823.8 277.0h0M812.4 277.0h0M821.7 256.6h0M828.5 275.6h0M823.2 274.9h0M821.9 276.7h0M825.4 272.3h0M821.4 262.2h0M822.1 266.2h0M830.1 268.3h0M823.7 269.1h0" stroke="#b3f396"/>
<path d="M825.2 269.8h0M822.8 264.6h0M824.1 264.7h0M811.2 279.9h0M812.8 281.9h0M829.0 269.9h0M822.7 265.1h0M822.1 273.5h0M814.5 271.6h0M823.9 270.1h0M823.2 271.9h0M814.9 269.2h0M832.8 272.9h0M823.5 272.2h0M831.3 276.5h0M814.6 282.4h0M826.8 262.9h0M825.0 261.9h0M816.7 279.9h0M825.6 267.9h0M824.1 273.3h0M825.6 271.7h0M817.1 272.2h0M826.3 272.8h0" stroke="#4df3ce"/>
<path d="M833.1 277.4h0M827.1 281.7h0M826.3 268.6h0M818.0 281.8h0M823.5 281.0h0M812.0 278.5h0M825.9 277.9h0M814.2 276.0h0M827.9 264.3h0M827.7 266.7h0M826.0 280.5h0M822.9 259.4h0M816.1 270.9h0M826.9 274.7h0M810.9 281.2h0" stroke="#ff9a52"/>
<path d="M820.6 280.8h0M830.6 282.3h0M822.9 261.0h0M820.4 277.6h0M821.9 281.5h0M826.9 269.7h0M823.0 268.2h0M812.1 279.4h0" stroke="#8000ff"/>
<path d="M844.0 271.5h0M834.3 271.7h0M858.0 267.2h0M837.5 270.2h0M835.5 275.7h0M835.1 275.3h0M837.3 281.4h0M849.3 276.8h0M838.1 267.8h0M849.6 267.0h0M858.4 269.6h0M848.1 270.1h0M857.8 276.8h0M849.5 273.5h0M855.6 272.8h0M857.6 267.6h0M846.9 263.1h0M834.1 272.1h0M840.6 267.9h0M862.8 283.1h0M860.7 279.1h0M850.6 276.6h0M841.8 279.8h0M860.8 280.8h0M843.3 272.7h0M862.2 275.2h0M839.2 268.0h0M834.3 271.6h0M863.0 277.5h0M852.7 277.2h0M841.6 264.5h0M856.4 268.4h0M850.1 277.2h0M855.6 275.5h0M855.0 271.3h0M835.4 267.2h0M851.3 262.3h0M836.3 280.9h0M848.9 266.0h0M843.0 276.3h0M861.0 266.0h0M846.9 283.2h0M837.5 281.9h0M836.7 275.4h0M844.3 270.3h0M853.1 279.4h0M839.4 269.0h0M857.7 267.5h0M843.6 272.4h0M841.8 272.1h0M852.7 279.0h0M853.5 282.1h0M853.7 264.6h0M839.9 280.6h0M844.2 275.2h0M849.9 264.5h0" stroke="#ff9a52"/>
<path d="M801.2 283.6L800.4 288.8L863.2 287.9L863.2 281.9L814.1 281.5Z" fill="#ff9a52"/>
<path d="M865.1 288.6h0M843.7 288.0h0M846.4 286.1h0M819.1 282.3h0M823.9 280.2h0M819.0 288.5h0M799.2 286.3h0M820.0 282.6h0M862.8 286.9h0M861.0 286.9h0M799.8 290.3h0M806.6 288.7h0M864.9 283.2h0M858.3 283.0h0M813.6 291.1h0M821.3 287.8h0M803.2 281.8h0M824.4 286.5h0M808.4 282.0h0M822.1 280.0h0M802.1 289.2h0M800.4 287.2h0M844.5 282.8h0M830.7 282.5h0M818.1 288.2h0M832.3 288.9h0M828.5 287.5h0M833.5 289.3h0M810.8 281.4h0M812.9 281.9h0M840.1 281.4h0M809.2 281.5h0M834.1 282.8h0M858.8 288.2h0M837.1 283.2h0M799.7 290.4h0M865.0 288.1h0M812.9 288.2h0M863.2 285.0h0M858.7 287.0h0M846.9 282.4h0M844.4 283.6h0M834.6 281.6h0M813.7 286.7h0M820.9 281.7h0M858.4 288.4h0M811.8 284.5h0M856.8 280.7h0M818.0 281.8h0M847.2 280.8h0M828.1 287.9h0M833.3 283.2h0M858.0 286.4h0M849.0 287.3h0M821.7 281.0h0M815.2 280.2h0M809.2 289.2h0M826.2 288.7h0M804.9 290.1h0M852.1 280.4h0M846.4 286.0h0M858.2 289.4h0M831.1 281.7h0M816.6 286.2h0M848.8 285.4h0M825.7 287.6h0M807.3 282.7h0M832.1 292.0h0M860.8 288.4h0M831.8 281.1h0M839.1 286.3h0M817.9 287.7h0M852.5 289.6h0M833.3 288.1h0M862.4 282.9h0M856.4 286.9h0M846.1 289.1h0M846.5 282.8h0M809.4 289.3h0M830.9 288.4h0M834.4 280.3h0M810.8 288.3h0M841.7 288.6h0M809.1 281.9h0M834.1 289.4h0M863.8 284.9h0M829.0 280.1h0M844.1 280.1h0M854.4 282.0h0M806.2 288.9h0M847.3 288.7h0M862.7 282.3h0M832.1 281.1h0M839.0 282.6h0M856.2 289.5h0M848.2 288.0h0M838.6 279.7h0M854.6 283.2h0M866.1 286.0h0M807.2 289.5h0M815.9 279.5h0M862.4 282.2h0M815.3 282.6h0M828.8 290.4h0M814.3 289.2h0M852.3 281.8h0M813.1 281.3h0M818.2 281.4h0M826.1 288.8h0M854.7 280.4h0M817.9 280.8h0M834.9 278.7h0M799.8 288.4h0M827.0 279.7h0M801.4 289.4h0M804.7 281.5h0M838.1 280.6h0M858.4 287.1h0M848.7 289.7h0M860.7 288.6h0M816.4 281.2h0M802.6 285.2h0M853.3 279.9h0" stroke="#ff9a52"/>
<path d="M802.0 309.3h0M800.8 313.2h0M806.6 327.6h0M800.3 295.4h0M805.8 322.1h0M799.8 309.0h0M806.4 326.6h0M807.6 325.4h0M810.2 324.7h0M802.1 307.3h0M805.8 330.8h0M802.4 326.2h0M805.1 321.8h0M799.0 324.8h0M799.0 300.0h0M813.9 327.0h0M804.5 330.4h0" stroke="#ff9a52"/>
<path d="M798.0 325.7h0M857.8 234.9h0" stroke="#ff9a52"/>
<path d="M763.0 470.0L770.0 470.0L780.0 474.0L790.0 473.0L804.0 471.0L798.0 468.0L790.0 466.0L780.0 466.0L772.0 468.0Z" fill="#ff9a52"/>
<path d="M773.5 468.0h0M770.8 470.5h0M789.6 473.0h0M799.6 471.3h0M775.9 466.5h0M788.1 473.1h0M779.7 473.0h0M765.5 470.6h0M778.0 466.0h0M777.7 467.1h0M798.2 468.2h0M769.1 468.7h0M777.1 472.8h0M795.8 466.8h0M796.6 472.2h0M783.7 474.1h0M795.5 467.4h0M783.4 474.2h0M772.9 468.0h0M769.3 470.1h0M785.5 466.0h0M774.7 467.1h0M795.7 467.6h0M802.9 471.5h0M767.7 470.5h0M802.7 471.7h0M797.5 467.8h0M795.6 467.9h0M791.4 473.1h0M768.9 469.2h0M768.7 469.5h0M796.9 468.1h0M775.4 467.0h0M766.3 470.0h0M773.7 471.9h0M763.8 470.0h0M773.7 468.0h0M784.2 465.5h0M789.0 464.9h0M767.6 469.9h0M764.0 470.3h0M766.8 469.3h0M764.7 469.9h0M795.0 472.6h0M777.8 466.3h0M762.7 469.9h0M777.5 472.5h0M786.4 473.6h0M766.4 469.8h0M780.3 466.6h0M768.0 469.9h0M791.3 473.0h0M775.2 467.5h0M765.3 469.3h0M776.4 467.7h0M786.0 473.1h0M784.6 473.7h0M798.6 467.7h0M784.8 473.8h0M772.2 470.7h0M792.6 466.8h0M771.6 470.5h0M798.8 471.6h0M775.0 466.5h0M784.3 473.5h0M783.7 466.5h0M794.3 472.7h0M800.2 471.9h0M792.3 467.0h0M775.2 466.9h0M783.5 473.4h0M769.0 470.2h0M778.8 465.8h0M783.4 465.6h0M769.7 469.4h0M776.9 472.9h0" stroke="#ff9a52"/>
<path d="M754.0 470.0h0M757.0 473.0h0M757.0 466.0h0M805.0 468.0h0M778.0 465.6h0M782.0 465.0h0" stroke="#ff9a52"/>
<path d="M850.5 278.5h0M861.4 274.0h0M836.9 283.1h0M856.8 275.3h0M857.5 275.4h0M855.1 277.1h0M844.2 280.0h0M848.4 278.5h0M856.9 282.0h0M845.5 275.0h0M840.6 279.2h0M845.8 274.9h0M858.1 282.4h0M846.0 280.7h0M860.6 275.6h0M858.9 274.8h0M845.7 279.4h0M854.9 280.5h0M860.0 282.5h0M848.9 278.5h0M853.4 278.7h0M845.6 276.7h0M839.2 280.9h0M847.4 276.4h0M837.8 282.2h0M860.5 273.6h0" stroke="#4df3ce"/>
<path d="M854.9 282.2h0M859.4 281.8h0M847.3 282.0h0M850.4 277.2h0M840.9 281.0h0M848.5 278.9h0M848.1 281.2h0M860.4 273.8h0M848.3 281.0h0M845.3 275.1h0M842.4 278.8h0M847.4 280.2h0M861.8 278.8h0M861.5 274.3h0M854.8 279.2h0M850.4 280.0h0M838.4 279.8h0M847.5 282.2h0M862.8 281.1h0M843.4 278.0h0M849.9 281.9h0M850.1 275.7h0M843.6 281.6h0M850.7 277.3h0M844.3 282.7h0M839.0 277.8h0M841.6 281.2h0M852.0 282.0h0M858.4 280.3h0M837.8 276.6h0M862.8 275.7h0M855.9 275.5h0M862.6 281.5h0M840.1 281.6h0M851.9 278.2h0M847.7 280.9h0M839.7 279.3h0M839.5 283.2h0M861.7 282.8h0M855.1 282.4h0M835.8 277.4h0M858.9 277.1h0M850.1 280.6h0M848.6 278.0h0M859.0 279.7h0M855.2 276.6h0M851.1 280.1h0M851.4 278.0h0M843.6 279.2h0M839.7 275.9h0M844.1 279.7h0M861.2 276.9h0M855.9 282.7h0M856.7 279.8h0M841.2 281.5h0M855.7 280.3h0M842.7 275.8h0M854.6 278.4h0M847.2 280.8h0M836.2 282.8h0" stroke="#ff9a52"/>
<path d="M862.7 279.4h0M855.7 277.4h0M843.0 280.7h0M848.5 279.4h0M836.5 278.4h0M839.7 277.6h0M839.8 281.0h0M855.3 282.1h0M842.2 281.4h0M839.3 282.0h0M854.5 278.3h0M836.1 278.5h0M860.8 277.1h0M849.7 281.3h0M845.6 279.8h0M837.8 279.5h0M839.1 278.1h0M860.4 282.7h0M836.6 282.1h0M859.3 280.0h0M860.9 279.9h0M854.5 279.8h0M850.0 274.5h0M845.6 276.9h0M862.4 275.8h0M843.5 277.9h0M859.2 276.4h0M841.1 281.4h0M848.6 274.6h0M846.0 275.2h0M862.2 280.1h0M849.8 277.2h0M850.1 276.6h0M849.8 279.4h0" stroke="#b3f396"/>
<path d="M803.4 286.2L800.2 294.7L801.2 309.7L803.4 320.4L811.9 328.9L814.1 335.3L824.7 341.7L829.0 348.1L827.9 360.9L831.1 365.2L844.0 365.2L863.2 360.9L863.2 284.1L835.4 285.1L814.1 284.1Z" fill="#ff4f29"/>
<path d="M862.1 321.7h0M862.6 342.4h0M821.0 340.0h0M812.6 283.1h0M849.4 284.6h0M862.1 298.1h0M802.8 318.9h0M858.2 284.8h0M861.7 361.4h0M860.9 303.1h0M802.1 316.7h0M812.4 333.3h0M816.5 338.9h0M802.3 289.7h0M853.9 283.9h0M842.8 365.7h0M807.0 326.1h0M814.5 330.7h0M829.7 284.5h0M835.9 365.2h0M859.3 285.8h0M827.9 284.4h0M820.8 285.9h0M865.2 325.4h0M807.9 286.5h0M828.2 356.5h0M838.3 364.7h0M863.3 313.5h0M853.1 361.7h0M799.4 303.7h0M814.9 338.5h0M861.0 320.4h0M861.5 299.6h0M801.8 317.6h0M863.5 354.4h0M863.6 324.1h0M810.9 326.1h0M863.2 288.7h0M800.5 292.2h0M863.3 348.6h0M800.5 309.1h0M861.5 318.2h0M858.2 362.9h0M860.8 364.4h0M850.4 284.2h0M860.1 361.0h0M862.9 322.6h0M831.1 284.9h0M862.6 334.0h0M848.4 286.4h0M843.4 283.7h0M865.6 304.0h0M812.8 331.0h0M828.1 362.4h0M858.9 362.7h0M861.7 345.0h0M816.9 337.5h0M859.5 286.3h0M843.0 365.1h0M801.1 302.9h0M803.9 318.4h0M864.0 328.1h0M804.0 321.1h0M834.8 364.5h0M827.5 360.5h0M862.5 347.2h0M837.1 363.9h0M799.7 306.5h0M811.8 329.6h0M821.8 284.8h0M809.5 328.2h0M817.1 338.3h0M859.4 286.4h0M849.1 285.3h0M863.7 333.2h0M837.1 285.0h0M821.4 339.1h0M818.2 337.0h0M864.6 312.3h0M799.4 294.3h0M815.2 336.5h0M809.3 285.0h0M809.9 327.9h0M817.2 334.4h0M863.2 340.2h0M801.2 314.8h0M824.3 284.5h0M863.9 361.4h0M811.8 285.2h0M862.0 353.8h0M801.2 303.7h0M814.3 334.3h0M828.1 354.3h0M811.4 283.3h0M800.9 290.5h0M855.0 284.3h0M803.3 287.6h0M812.6 330.4h0M862.9 321.7h0M812.2 330.0h0M849.1 362.1h0M864.3 303.4h0M844.0 364.8h0M866.3 330.8h0M852.8 363.4h0M861.5 360.1h0M829.6 362.1h0M804.5 285.5h0M851.3 282.5h0M803.5 317.1h0M820.4 338.3h0M859.1 287.2h0M804.8 317.6h0M827.0 354.0h0M837.3 363.3h0M861.9 287.4h0M800.1 306.4h0M864.9 360.7h0M852.3 284.0h0M851.4 282.3h0M861.9 349.4h0M862.9 311.3h0M861.2 362.0h0M857.1 284.7h0M864.6 305.9h0M863.5 336.5h0M841.1 284.2h0M811.8 282.5h0M862.6 286.8h0M827.2 345.5h0M836.8 364.3h0M803.3 313.7h0M810.2 283.9h0M865.2 285.2h0M863.3 330.5h0M864.5 307.1h0M800.6 292.9h0M815.0 283.7h0M804.7 288.0h0M857.8 284.5h0M863.6 291.5h0M799.5 307.7h0M826.3 284.5h0M802.2 295.5h0M801.4 284.9h0M864.3 356.7h0M844.8 365.2h0M816.8 336.7h0M864.5 316.7h0M799.4 295.3h0M864.7 331.3h0M863.1 310.4h0M854.2 363.7h0M863.2 327.8h0M863.4 349.0h0M800.6 313.8h0M799.2 302.7h0M803.9 311.7h0M865.5 286.7h0M855.7 365.1h0M841.2 366.7h0M810.8 286.4h0M863.8 346.0h0M828.5 352.6h0M799.9 309.4h0M808.4 326.9h0M863.6 331.7h0M864.0 338.3h0M817.3 337.8h0M845.6 364.0h0M807.9 324.8h0M863.7 303.5h0M864.4 333.2h0M848.8 365.2h0M863.6 300.1h0M861.9 309.0h0M863.4 352.0h0M803.2 288.7h0M864.0 308.8h0M862.5 285.9h0M861.0 327.9h0M799.8 311.5h0M864.1 307.3h0M800.3 293.7h0M824.1 283.0h0M800.5 308.5h0M840.6 364.1h0M808.9 286.7h0M848.0 284.2h0M863.5 284.8h0M826.0 285.8h0M862.2 331.0h0M802.5 314.5h0M812.3 332.4h0M832.3 363.7h0M824.7 284.1h0M808.2 326.1h0M810.5 328.2h0M848.7 285.8h0M864.4 300.5h0M828.7 361.2h0M862.4 311.3h0M845.1 284.4h0M808.6 284.0h0M846.5 365.0h0M861.9 313.4h0M860.1 361.1h0M842.1 284.8h0M841.8 363.7h0M844.1 366.5h0M862.3 332.9h0M861.3 350.8h0M828.4 349.4h0M801.1 303.4h0M802.7 312.7h0M801.6 318.4h0M860.5 363.1h0M830.8 362.5h0M801.8 288.5h0M853.8 286.8h0M826.7 358.9h0M821.5 340.2h0M829.9 351.5h0M862.7 296.7h0M864.8 338.5h0M863.1 358.3h0M825.9 343.7h0M836.3 284.2h0M828.2 358.3h0M799.4 290.3h0M828.3 358.7h0M827.6 361.1h0M855.8 363.3h0M855.9 283.8h0M863.8 346.3h0M804.1 288.0h0M842.1 287.1h0" stroke="#ff4f29"/>
<path d="M769.0 359.0L768.0 366.0L826.0 364.4L830.0 360.0L830.0 355.0L810.0 357.0L790.0 358.0Z" fill="#ff4f29"/>
<path d="M801.1 364.7h0M770.7 366.1h0M817.7 364.0h0M817.0 364.7h0M816.3 356.4h0M829.4 356.1h0M773.5 365.8h0M827.6 354.7h0M768.2 361.2h0M790.4 357.4h0M804.3 364.6h0M770.4 358.0h0M829.6 360.2h0M784.2 365.5h0M775.1 365.6h0M772.6 365.4h0M812.7 357.6h0M826.0 363.6h0M830.1 358.9h0M811.4 357.0h0M768.5 366.1h0M770.9 358.5h0M801.3 357.3h0M799.1 365.1h0M800.1 364.9h0M797.7 365.5h0M782.0 366.2h0M782.8 365.7h0M803.4 364.5h0M772.8 358.6h0M803.8 357.6h0M827.8 355.3h0M829.6 355.3h0M779.8 365.6h0M772.4 358.6h0M786.2 357.7h0M768.4 359.4h0M770.3 358.4h0M768.6 364.3h0M786.6 358.2h0M781.8 358.8h0M816.4 357.1h0M782.1 358.1h0M784.7 364.9h0M780.8 358.6h0M829.7 355.2h0M811.3 356.9h0M804.9 365.1h0M779.3 365.8h0M830.1 355.0h0M826.8 364.1h0M803.2 364.6h0M771.6 365.7h0M768.7 362.3h0M813.3 364.5h0M796.8 357.0h0M819.9 364.3h0M767.3 365.4h0M783.6 358.3h0M788.2 365.0h0M830.3 360.0h0M793.3 357.7h0M771.7 365.4h0M830.1 358.6h0M799.1 357.1h0M805.0 357.2h0M830.1 354.2h0M805.1 364.8h0M819.0 355.7h0M810.0 357.0h0M819.8 364.7h0M816.1 356.5h0M794.3 365.3h0M769.3 358.6h0M787.6 357.7h0M776.6 365.8h0M822.6 355.9h0M768.2 364.8h0M790.1 358.4h0M773.8 366.0h0M791.9 358.1h0M772.9 358.6h0M814.5 356.7h0M804.6 357.2h0M826.9 355.3h0M806.6 365.5h0M768.8 361.8h0M801.5 357.9h0M769.5 359.9h0M786.5 365.5h0M826.2 364.8h0M784.5 366.0h0M794.3 357.5h0M816.1 365.3h0M830.0 357.9h0M817.7 364.2h0M785.1 358.8h0M828.5 361.9h0M767.7 366.5h0M826.8 355.4h0M829.2 356.7h0M827.7 362.9h0M794.1 357.7h0M805.9 357.5h0M777.6 366.0h0M829.8 355.7h0M829.3 360.2h0M830.5 360.5h0M768.9 361.0h0M773.3 366.1h0M791.2 357.1h0M825.4 355.3h0M802.4 364.5h0M768.8 361.9h0M787.9 365.3h0M803.2 357.3h0M812.4 364.4h0M796.3 357.9h0M814.0 364.7h0M772.0 365.9h0M773.4 365.7h0M793.3 365.5h0M769.1 362.5h0M797.4 357.9h0" stroke="#ff4f29"/>
<path d="M762.0 410.0L762.0 415.0L776.0 417.0L830.0 415.6L831.0 413.6L810.0 413.0L790.0 411.0L776.0 409.0Z" fill="#ff4f29"/>
<path d="M761.9 414.8h0M798.6 416.6h0M769.5 416.6h0M783.4 409.8h0M784.9 417.1h0M774.0 409.2h0M826.7 413.0h0M793.5 411.7h0M802.7 413.1h0M764.2 410.7h0M824.9 413.5h0M782.0 416.3h0M788.2 410.7h0M769.3 416.5h0M807.8 416.4h0M830.0 414.2h0M762.1 414.0h0M781.9 417.8h0M789.3 411.1h0M783.8 410.8h0M830.1 415.8h0M762.5 415.7h0M824.4 416.8h0M785.6 417.2h0M807.2 416.3h0M775.9 408.7h0M766.5 410.0h0M826.8 416.6h0M785.0 410.9h0M765.0 416.1h0M824.2 415.7h0M767.2 416.3h0M792.1 415.7h0M798.0 416.6h0M793.4 411.5h0M787.7 410.7h0M766.4 415.6h0M818.7 414.0h0M830.1 416.3h0M779.4 416.4h0M779.8 409.4h0M800.7 416.6h0M790.2 411.7h0M806.3 412.4h0M831.5 413.4h0M761.9 415.7h0M764.6 415.7h0M824.2 413.9h0M762.0 415.4h0M766.9 409.3h0M790.5 416.3h0M766.7 410.3h0M773.4 416.6h0M761.6 410.8h0M761.1 414.7h0M823.3 413.0h0M823.1 414.9h0M774.5 409.3h0M765.1 415.6h0M794.2 411.7h0M809.0 416.3h0M774.2 416.8h0M795.6 410.9h0M810.9 415.7h0M819.1 415.1h0M797.2 412.1h0M771.0 416.3h0M800.7 416.6h0M801.8 416.5h0M784.5 411.4h0M801.1 411.5h0M784.8 410.0h0M798.1 412.6h0M798.2 416.9h0M795.0 417.2h0M771.0 409.3h0M804.5 412.0h0M771.7 415.6h0M830.5 413.2h0M784.7 416.8h0M806.6 412.3h0M768.6 409.3h0M765.5 410.1h0M813.5 415.2h0M826.2 413.2h0M793.6 411.1h0M824.5 414.8h0M811.7 416.0h0M805.0 416.2h0M786.6 417.0h0M796.9 416.6h0M790.2 417.0h0M767.4 410.1h0M780.1 410.6h0M782.2 409.4h0M767.9 415.2h0M806.5 415.8h0M815.6 415.7h0M780.9 409.1h0M784.7 409.6h0M788.1 416.0h0M827.0 413.4h0M798.1 416.2h0M780.3 409.6h0M824.7 415.4h0M766.6 409.3h0M828.5 415.3h0M795.3 417.4h0M810.9 415.4h0M807.1 412.2h0M818.9 412.7h0M806.6 413.0h0M807.2 413.1h0M786.7 415.7h0M767.9 409.2h0M810.5 415.7h0M800.7 411.5h0M791.9 410.7h0M818.7 412.7h0M762.2 409.7h0M789.8 411.1h0M801.5 416.7h0M809.9 416.4h0M785.5 409.2h0M787.0 416.8h0M793.1 416.8h0M800.6 416.4h0M774.6 409.2h0M824.0 413.8h0M828.3 414.0h0M809.7 416.1h0" stroke="#ff4f29"/>
<path d="M849.4 304.5h0M855.6 355.2h0M855.8 330.4h0M848.7 306.8h0M857.4 355.1h0M861.8 331.5h0M845.9 322.7h0M857.1 325.4h0M849.2 322.9h0M860.8 355.8h0M856.5 304.6h0M854.3 290.6h0M860.1 311.4h0M859.0 338.1h0M854.9 329.2h0M862.0 306.3h0M862.1 293.6h0M863.0 353.0h0M844.8 322.1h0M854.5 340.5h0M847.1 355.3h0M850.5 323.7h0M854.5 360.5h0M845.7 313.4h0M845.8 301.8h0M854.6 312.9h0M856.4 345.1h0M846.2 349.3h0M860.5 306.4h0M851.9 291.8h0M857.7 299.4h0M853.0 322.6h0M860.5 305.9h0M846.8 298.3h0M849.9 312.4h0M850.3 351.6h0M854.0 356.8h0M853.5 313.8h0M854.8 324.8h0M852.9 331.4h0M850.5 349.9h0M851.9 300.9h0M844.4 326.4h0M845.4 337.6h0M851.7 303.0h0M861.6 356.7h0M848.0 310.2h0M845.9 337.1h0M850.5 293.5h0M848.2 305.7h0M849.3 320.9h0M849.3 329.5h0M846.0 330.9h0M856.1 316.5h0M850.3 352.8h0M857.7 337.0h0M847.0 314.1h0M851.1 295.3h0M847.4 302.8h0M854.3 301.1h0M849.3 327.7h0M861.1 313.1h0M862.2 336.4h0M844.8 355.1h0M851.5 327.9h0M862.7 343.2h0M848.4 299.2h0M861.0 334.7h0M859.5 355.6h0M857.6 347.7h0M850.9 342.8h0M858.6 289.0h0M859.2 346.4h0M845.8 354.6h0M849.5 300.4h0M856.7 286.0h0M862.0 333.6h0M858.0 352.8h0M851.2 292.1h0M852.1 294.2h0M862.8 346.9h0M847.7 321.7h0M857.5 325.2h0M844.9 341.8h0M858.8 297.1h0M847.6 344.9h0M847.0 299.7h0M850.4 285.7h0M861.7 285.0h0M845.2 330.0h0M858.6 305.1h0M862.7 340.1h0M844.9 310.1h0M845.9 311.1h0M852.8 336.1h0M854.8 286.1h0M845.9 334.7h0M861.1 326.7h0M857.4 300.3h0M862.3 341.9h0M856.3 351.9h0M857.8 299.7h0M855.4 330.1h0M852.6 352.3h0M859.9 318.8h0M853.3 340.7h0M854.0 329.7h0M853.6 342.1h0M861.1 340.7h0M862.6 293.9h0M861.1 355.4h0M850.1 307.5h0M859.5 312.2h0M860.8 334.2h0M844.1 337.8h0M859.2 356.4h0M847.2 350.4h0M844.9 304.6h0M846.7 341.5h0M860.8 352.8h0M862.5 318.8h0M845.8 345.5h0M851.4 324.3h0M860.8 291.3h0M850.8 345.7h0M858.4 293.2h0M845.0 303.8h0" stroke="#ff9a52"/>
<path d="M848.8 336.7h0M851.8 318.5h0M857.1 298.2h0M855.4 335.6h0M852.4 294.4h0M847.9 331.1h0M861.5 294.1h0M844.5 318.3h0M847.9 310.3h0M859.9 289.1h0M855.0 357.0h0M856.8 345.0h0M851.3 306.6h0M848.8 312.5h0M852.6 297.9h0M855.2 313.8h0M847.0 312.7h0" stroke="#4df3ce"/>
<path d="M860.8 290.4h0M853.3 286.7h0M861.7 298.4h0M850.1 312.1h0M856.2 315.7h0M853.6 315.3h0M858.4 330.8h0M853.0 353.2h0M854.1 298.6h0M851.9 292.5h0M857.8 356.9h0M849.4 309.6h0M862.8 350.1h0M861.5 308.4h0M853.7 304.7h0M852.0 318.2h0M847.8 308.5h0M853.2 326.8h0M854.5 349.5h0M862.1 350.2h0M855.9 329.6h0M853.8 331.2h0M856.5 339.2h0M857.9 309.9h0M855.7 352.1h0M850.4 329.3h0" stroke="#e0c878"/>
<path d="M800.7 358.9h0M787.2 363.1h0M823.6 362.1h0M802.2 360.1h0M797.2 358.9h0M816.1 360.8h0M797.2 362.0h0M780.9 362.8h0M790.8 360.5h0M794.8 359.3h0M791.1 364.4h0M793.4 362.4h0M796.2 362.9h0M806.8 361.7h0M819.6 356.1h0M794.9 361.9h0M806.1 362.0h0M775.1 364.1h0M816.9 359.1h0M811.6 361.2h0M819.2 358.1h0M819.2 356.3h0M802.9 362.6h0M828.0 355.6h0M823.8 356.6h0M818.0 357.8h0M796.0 360.6h0M823.1 362.0h0M777.0 362.1h0M790.7 358.3h0M808.5 361.1h0M784.9 360.9h0" stroke="#ff9a52"/>
<path d="M775.0 360.7h0M818.2 360.6h0M793.2 363.8h0M824.1 359.4h0M816.4 361.0h0M787.0 359.3h0M805.8 363.3h0M782.8 365.0h0" stroke="#e0c878"/>
</g>
<g clip-path="url(#cm)"><path d="M240.3 326.6L243.3 326.0L246.3 326.0L249.2 326.7L252.2 325.4L255.2 326.3L257.7 325.4L260.0 323.7L262.9 323.8L266.7 325.8L266.5 328.6L267.1 331.4L267.4 334.2L265.9 338.0L268.9 338.8L272.0 338.3L275.0 339.0L278.1 339.1L281.9 341.8L284.6 342.1L287.2 342.6L290.3 344.9L293.0 345.5L295.6 346.7L298.7 348.7L300.2 353.2L302.5 354.3L304.8 352.2L306.3 348.7L308.9 349.7L311.6 350.6L315.4 350.4L319.2 351.3L323.0 352.5L323.5 355.5L320.8 356.3L324.6 355.5L325.6 352.8L326.9 350.2L329.9 347.9L334.5 348.7L338.3 346.7L339.8 349.4L341.3 348.7L341.3 345.6L344.1 344.9L346.7 343.6L349.8 343.1L352.8 342.6L357.3 340.3L360.4 342.6L362.7 341.0L362.7 337.2L364.2 334.2L361.9 331.9L358.1 332.7L357.0 331.1L360.4 328.9L364.2 326.6L366.4 323.4L368.8 320.5L369.5 317.4L374.1 315.1L377.9 312.9L380.2 311.1L381.0 308.3L384.8 305.2L387.5 304.6L390.1 304.0L393.9 301.4L397.0 299.1L397.7 294.6L397.5 297.5L398.8 294.3L400.6 291.4L402.9 292.2L406.7 289.9L410.5 288.4L412.8 286.1L415.8 285.3L417.3 283.0L420.4 283.8L424.2 280.8L427.3 280.5L430.3 280.0L433.4 279.8L436.4 280.0L439.4 278.7L442.5 277.7L445.5 276.8L448.6 276.2L451.9 276.3L454.7 274.7L459.2 272.4L463.0 270.1L466.9 267.0L469.2 265.1L471.4 263.2L473.0 259.4L475.2 254.9L476.4 251.9L477.5 248.8L479.3 246.7L480.6 244.2L485.1 241.9L489.7 239.6L492.0 235.8L492.8 231.2L495.8 227.4L498.6 226.6L500.4 224.4L503.4 222.0L506.5 219.8L508.6 218.1L511.0 216.8L514.9 215.2L517.5 216.2L520.2 215.2L523.5 215.8L526.3 217.5L529.4 218.1L532.4 219.0L536.1 220.6L539.1 222.0L542.2 222.9L544.0 226.7L548.0 228.2L549.5 224.1L551.9 226.3L555.1 226.7L558.0 228.3L560.5 230.5L562.8 232.8L565.9 233.2L568.1 235.4L571.0 237.9L574.2 239.9L576.7 242.0L578.8 244.5L581.8 245.0L584.5 246.8L587.1 248.8L590.0 251.2L593.2 253.3L594.8 251.0L593.2 248.8L594.8 248.0L597.4 250.0L600.1 251.8L602.3 253.5L604.7 254.9L604.7 252.6L607.8 253.9L610.8 255.6L613.5 258.1L616.9 259.7L618.3 262.6L620.7 264.8L622.2 267.9L623.7 270.9L624.6 273.6L624.9 276.5L626.0 279.2L626.2 282.3L627.2 285.3L627.2 288.4L627.5 292.2L627.4 296.1L627.8 300.0L629.0 303.7L630.1 307.1L631.2 310.6L633.2 313.6L635.0 316.7L636.9 319.8L638.9 322.8L640.4 325.4L641.9 328.1L643.1 331.1L644.2 334.2L645.6 337.9L645.4 341.8L644.5 344.8L645.0 347.9L645.0 351.0L644.6 354.5L643.4 357.8L641.4 361.6L642.4 365.4L645.0 367.0L647.2 364.7L650.3 365.0L653.3 364.4L656.0 365.4L658.7 366.2L662.2 369.2L662.8 373.8L660.2 378.1L662.5 380.7L664.0 381.8L667.0 382.6L670.1 383.4L674.7 385.3L677.7 388.4L680.0 393.0L683.5 395.2L686.1 398.3L688.4 402.9L691.1 404.4L692.6 408.2L693.3 411.2L691.4 414.3L687.6 415.4L685.6 416.6L686.1 419.3L689.1 421.4L692.2 422.4L694.5 419.9L696.8 417.3L701.3 418.1L703.9 419.1L706.7 419.3L709.4 421.2L712.8 421.4L715.8 423.0L718.9 424.2L721.2 426.6L724.2 428.0L725.8 431.2L728.8 433.3L730.7 436.2L731.8 439.4L733.5 442.4L734.9 445.5L737.9 449.3L740.2 453.9L743.2 455.4L747.0 455.0L749.5 457.7L752.4 460.0M325.3 358.9L328.4 357.8L332.2 357.0L331.4 359.3L329.1 361.3L326.6 360.4ZM345.1 357.8L347.4 355.5L350.9 354.3L350.5 356.3L347.4 358.9ZM613.7 381.4L615.2 379.1L619.8 378.4L624.4 379.9L625.9 376.9L629.7 377.6L632.8 376.1L635.8 373.0L637.8 373.8L638.3 376.5L637.3 379.1L636.6 383.0L637.8 386.8L635.8 388.3L632.8 385.2L629.0 384.5L625.9 386.0L622.1 385.2L618.3 386.8L615.2 385.2ZM609.4 400.6L610.7 399.0L612.2 398.0L613.4 399.8L613.4 402.1L611.0 402.6ZM626.7 425.7L627.4 424.2L629.3 423.9L630.5 425.4L629.9 427.2L627.9 427.5ZM669.3 421.1L671.6 419.9L673.1 422.7L674.4 425.7L673.1 427.5L670.4 425.0ZM591.4 356.4L592.7 352.6L595.0 351.9L595.7 354.9L593.4 358.7L591.4 358.0ZM562.2 358.0L561.2 361.0L559.9 364.0L557.6 367.9L556.9 370.5L557.2 373.2L556.1 377.8L558.1 382.3L557.6 386.9L555.3 390.7L553.5 391.9L550.8 388.4L547.0 386.4L543.1 386.4L539.3 388.4L537.0 390.7L534.8 393.5L530.2 395.3L527.4 396.0L524.9 397.6L521.8 398.4L518.8 399.6L518.3 402.9L515.7 403.8L512.4 406.3L509.3 408.2L507.8 412.0L506.6 415.9L504.3 419.7L500.5 422.0L500.2 425.0L502.8 428.0L504.3 430.3L502.8 433.4L500.2 436.4L501.2 440.2L501.2 439.6L502.8 444.1L506.6 446.4L510.4 448.7L511.9 452.5L514.2 455.6L512.7 459.4L508.1 461.7L504.3 463.2L505.4 467.8L510.4 467.0L512.9 465.8L515.7 466.2L518.5 469.3L517.2 473.1L514.2 476.1L511.9 480.0L508.9 483.8L511.9 485.3L515.7 486.8L518.5 488.5L521.8 488.3L526.4 489.6L524.9 493.7L520.3 495.2L517.5 497.5L518.0 502.0L521.8 505.1L524.0 506.8L526.4 508.1L531.0 510.0L535.5 512.0L539.3 514.2L541.6 517.3L544.7 519.6L547.0 520.3L549.2 517.3L550.0 514.2L552.3 515.0L553.0 511.2L553.8 506.6L556.1 502.8L559.1 499.8L556.9 498.2L554.6 499.0L553.8 496.7L557.6 495.2L560.7 492.1L561.8 489.5L562.2 486.8L562.6 483.8L562.6 480.7L561.7 477.7L562.2 474.6L561.8 471.5L562.6 468.5L562.4 465.4L563.3 462.4L565.3 460.6L566.0 457.9L567.2 455.4L569.0 453.3L571.3 449.5L572.4 446.8L573.6 444.1L573.6 440.3L573.9 436.5L573.6 433.4L573.6 430.3L573.3 427.3L572.9 424.2L572.8 420.4L572.4 416.6L571.6 412.8L571.8 409.0L569.9 406.2L570.6 402.9L568.3 398.3L566.0 393.8L566.2 391.1L566.3 388.4L567.0 385.0L567.5 381.6L568.6 378.6L568.7 375.5L568.1 372.5L567.5 369.4L566.9 366.4L566.8 363.3L565.2 358.7ZM489.0 654.2L488.3 651.5L487.3 649.0L490.8 647.3L495.1 644.7L494.9 641.1L496.0 637.7L494.7 635.2L494.2 632.5L494.4 629.8L495.4 627.3L493.6 624.6L491.6 622.1L489.0 618.6L489.0 614.9L487.3 611.7L486.7 608.2L485.5 604.8L484.6 601.6L482.9 598.7L482.1 594.4L478.6 595.2L475.1 593.5L473.4 597.8L470.8 595.2L471.7 591.8L474.3 590.0L472.5 585.7L471.0 583.5L469.4 581.4L470.9 579.3L472.2 577.0L473.3 574.1L474.6 571.2L476.0 568.4L473.4 564.9L473.4 560.5L476.0 559.7L477.7 562.0L477.4 564.9L479.7 567.2L481.2 570.1L484.5 570.9L487.3 572.7L489.9 573.3L492.5 573.6L495.1 573.6L498.7 573.0L502.0 571.5L505.0 570.0L507.2 567.5L509.5 566.2L512.1 565.6L514.2 564.0L517.5 563.5L520.2 561.4L523.7 557.9L526.3 553.6L528.4 551.0L530.6 548.4L533.1 546.6L535.0 544.1L537.6 543.1L540.2 542.3L544.5 539.7L544.1 537.0L545.0 534.5L548.8 531.6L552.3 533.7L554.0 537.5L558.4 537.1L561.8 539.7L564.5 543.2L565.3 546.7L567.5 545.0L569.7 543.2L573.1 542.3L574.0 546.7L571.4 551.0L574.0 554.5L578.3 555.3L580.9 557.1L577.5 558.8L574.0 562.3L569.7 564.5L574.0 564.0L576.7 564.3L579.2 565.2L581.8 569.2L586.1 571.5L582.7 574.4L583.5 577.5L584.4 580.5L585.9 583.0L587.0 585.7L587.3 589.2L587.9 592.6L590.0 594.8L590.5 597.8L590.7 600.7L592.5 603.0L591.6 605.5L591.8 608.2L590.4 610.9L588.7 613.4L588.2 616.1L587.0 618.6L583.5 622.1L581.8 624.2L580.1 626.4L579.1 628.9L578.7 631.6L579.6 634.3L580.9 636.8L582.5 639.1L584.4 641.2L587.0 644.7L587.5 647.9L586.9 651.1L586.1 654.2L583.5 653.6L580.9 654.1L578.2 654.8L575.6 654.6L573.0 654.8L570.4 654.6L567.7 653.7L565.1 654.3L562.5 653.7L559.9 654.1L557.2 654.8L554.6 654.5L552.0 653.2L549.4 654.5L546.7 654.6L544.1 653.7L541.5 654.2L538.9 654.2L536.2 653.6L533.6 655.0L531.0 654.0L528.4 654.7L525.7 654.8L523.1 654.5L520.5 653.7L517.9 654.3L515.2 655.0L512.6 654.7L510.0 653.5L507.4 653.8L504.7 654.7L502.1 653.2L499.5 654.4L496.9 654.7L494.2 654.3L491.6 653.8ZM476.0 557.1L475.7 553.6L478.6 551.0L480.3 548.4L482.1 545.8L484.7 546.7L485.5 549.3L482.9 551.9L480.3 551.0L478.6 555.3L477.7 557.6ZM561.0 532.8L563.6 530.5L565.8 532.8L568.8 532.3L568.1 535.1L568.8 538.0L566.2 539.7L564.5 536.3L561.8 536.3Z" fill="none" stroke="#000" stroke-width="1.2" stroke-linejoin="round"/></g>
<g clip-path="url(#cm)"><path d="M320.6 356H324M306.6 348.4l1.4 .6M307 351.4l1.6 .8M241.8 320.2h3.6M242 323l2 2.4" stroke="#000" stroke-width="1.7" fill="none"/><path d="M325.3 358.9L328.4 357.8L332.2 357.0L331.4 359.3L329.1 361.3L326.6 360.4ZM345.1 357.8L347.4 355.5L350.9 354.3L350.5 356.3L347.4 358.9Z" fill="none" stroke="#000" stroke-width="1.2"/></g>
<path d="M559.6 355.4L560.7 358.8L564.3 358.8L561.4 360.9L562.5 364.3L559.6 362.2L556.7 364.3L557.8 360.9L554.9 358.8L558.5 358.8ZM512.4 397.6L513.5 401.0L517.1 401.0L514.2 403.1L515.3 406.5L512.4 404.4L509.5 406.5L510.6 403.1L507.7 401.0L511.3 401.0ZM534.5 400.4L535.6 403.8L539.2 403.8L536.3 405.9L537.4 409.3L534.5 407.2L531.6 409.3L532.7 405.9L529.8 403.8L533.4 403.8ZM568.6 395.7L569.7 399.1L573.3 399.1L570.4 401.2L571.5 404.6L568.6 402.5L565.7 404.6L566.8 401.2L563.9 399.1L567.5 399.1ZM557.3 410.6L558.4 414.0L562.0 414.0L559.1 416.1L560.2 419.5L557.3 417.4L554.4 419.5L555.5 416.1L552.6 414.0L556.2 414.0ZM540.4 421.3L541.5 424.7L545.1 424.7L542.2 426.8L543.3 430.2L540.4 428.1L537.5 430.2L538.6 426.8L535.7 424.7L539.3 424.7ZM508.4 431.6L509.5 435.0L513.1 435.0L510.2 437.1L511.3 440.5L508.4 438.4L505.5 440.5L506.6 437.1L503.7 435.0L507.3 435.0ZM573.6 443.0L574.7 446.4L578.3 446.4L575.4 448.5L576.5 451.9L573.6 449.8L570.7 451.9L571.8 448.5L568.9 446.4L572.5 446.4ZM537.5 450.6L538.6 454.0L542.2 454.0L539.3 456.1L540.4 459.5L537.5 457.4L534.6 459.5L535.7 456.1L532.8 454.0L536.4 454.0ZM510.4 453.7L511.5 457.1L515.1 457.1L512.2 459.2L513.3 462.6L510.4 460.5L507.5 462.6L508.6 459.2L505.7 457.1L509.3 457.1ZM546.5 468.6L547.6 472.0L551.2 472.0L548.3 474.1L549.4 477.5L546.5 475.4L543.6 477.5L544.7 474.1L541.8 472.0L545.4 472.0ZM546.2 515.8L547.3 519.2L550.9 519.2L548.0 521.3L549.1 524.7L546.2 522.6L543.3 524.7L544.4 521.3L541.5 519.2L545.1 519.2Z" fill="#ffff00" stroke="#088808" stroke-width="1.1" stroke-linejoin="miter"/>
<path d="M241.6 157.4V653.2H752" stroke="#000" stroke-width="1.1" fill="none"/>
<path d="M242 157.4V53.9H862V653H752.6" stroke="#000" stroke-width="2.1" fill="none" stroke-linejoin="miter"/>
<path d="M752.6 53V654M241 157.4H863" stroke="#000" stroke-width="2.9" fill="none"/>
<g clip-path="url(#ct)" fill="none" stroke-width="2" stroke-linecap="round">
<path d="M306.2 72.6h0M308.0 55.1h0M306.0 65.3h0M308.3 74.5h0M309.9 77.9h0M309.7 59.0h0M305.9 73.3h0M312.3 57.4h0M307.7 59.4h0M314.9 71.7h0M317.3 80.3h0" stroke="#8000ff"/>
<path d="M338.9 58.1h0" stroke="#8000ff"/>
<path d="M375.4 106.6h0M396.9 109.1h0" stroke="#8000ff"/>
<path d="M488.6 85.6h0M486.6 72.3h0M473.0 87.8h0M479.4 85.9h0M488.2 84.6h0" stroke="#8000ff"/>
<path d="M478.9 64.8h0M481.9 69.8h0M488.0 72.6h0M504.5 77.4h0M493.3 86.6h0M477.3 85.8h0" stroke="#8000ff"/>
<path d="M471.1 121.6h0M472.9 130.5h0M471.3 104.1h0M472.0 136.4h0M473.0 132.0h0M473.4 131.7h0M473.1 130.7h0M470.2 117.9h0M470.7 124.9h0M471.9 122.4h0M470.2 119.6h0M471.0 135.0h0M472.8 125.5h0M472.0 122.3h0M474.0 144.3h0M470.1 122.7h0M469.4 122.6h0M471.1 115.7h0M472.4 121.8h0M472.1 108.5h0M473.3 137.1h0" stroke="#4d4ffc"/>
<path d="M319.8 83.3h0M310.3 78.4h0M316.0 61.6h0M315.1 82.5h0M311.6 68.6h0M311.0 79.9h0M305.2 67.4h0M315.7 83.3h0M308.8 82.0h0M313.9 83.0h0M306.6 79.1h0M307.8 82.5h0M305.9 63.3h0M306.9 57.2h0M309.9 62.2h0M312.1 66.3h0M310.5 81.9h0M309.8 61.8h0M316.7 71.8h0M313.2 66.4h0M309.4 61.2h0M309.3 70.5h0M312.9 60.2h0M306.4 61.4h0M317.4 68.9h0M311.4 72.5h0M306.0 82.9h0M306.7 70.1h0M309.9 79.2h0M316.5 74.0h0M308.5 75.5h0" stroke="#2f80f7"/>
<path d="M336.9 70.6h0" stroke="#2f80f7"/>
<path d="M471.1 98.9h0M471.0 101.9h0M470.0 122.3h0M472.7 123.0h0M471.5 108.2h0M471.8 125.7h0M471.5 106.6h0M472.0 145.5h0M472.9 137.7h0M473.5 136.6h0M473.0 136.3h0M471.7 139.3h0M471.3 105.6h0M470.6 129.1h0M470.7 108.4h0M472.3 106.4h0M473.7 142.4h0M473.3 142.1h0M471.8 136.9h0M471.5 103.6h0M472.0 129.2h0M473.0 113.7h0M472.3 138.3h0M470.3 110.6h0" stroke="#2f80f7"/>
<path d="M487.1 73.7h0M477.3 76.0h0M483.5 80.7h0M483.0 94.4h0M483.6 77.8h0M491.3 82.7h0" stroke="#2f80f7"/>
<path d="M330.0 73.5h0M327.6 90.1h0M334.6 69.9h0M329.2 90.0h0M329.2 94.0h0M333.0 82.5h0" stroke="#1acee3"/>
<path d="M481.6 78.2h0M484.6 79.9h0M480.5 75.7h0M480.2 81.9h0M484.3 76.7h0M479.8 75.4h0M484.2 76.9h0M481.3 81.5h0M480.1 76.7h0M480.4 82.5h0M481.3 81.8h0M482.9 75.2h0M484.0 76.4h0M482.0 82.0h0M483.2 74.4h0M484.1 76.6h0M483.7 76.5h0M483.3 79.2h0M482.3 78.8h0M481.9 78.9h0M479.3 80.8h0M483.1 80.6h0M481.7 78.0h0" stroke="#1acee3"/>
<path d="M509.8 112.5h0" stroke="#1acee3"/>
<path d="M320.4 82.6h0M317.6 73.0h0M317.5 71.4h0M308.5 73.1h0M311.8 75.9h0M314.9 75.2h0M313.6 70.2h0M317.9 80.8h0M317.1 69.0h0M318.1 74.6h0M306.8 71.7h0M309.8 58.1h0M309.7 79.9h0M308.7 66.6h0M311.4 66.2h0M308.0 62.5h0M312.5 62.3h0M306.3 79.9h0M313.3 78.8h0M315.4 81.2h0M306.5 69.5h0M307.1 83.5h0M305.5 68.3h0M313.9 62.0h0M309.8 55.5h0M313.8 72.0h0M312.3 66.9h0M313.7 66.2h0M316.7 73.1h0M315.8 82.8h0M309.5 80.7h0M314.9 78.5h0M312.9 72.8h0M312.7 66.4h0M313.2 82.2h0M309.7 59.6h0M318.1 71.7h0M308.4 70.9h0M318.3 81.1h0M315.7 74.8h0M317.0 77.5h0M311.9 78.9h0M305.8 74.6h0M311.0 68.2h0M310.6 63.7h0M316.3 61.4h0M313.5 80.3h0M309.3 70.1h0M305.8 83.7h0M310.3 58.2h0M310.0 67.3h0M313.1 67.5h0M307.7 56.7h0M313.1 70.7h0M315.0 61.7h0M308.1 60.5h0M313.0 73.8h0M309.2 76.2h0M304.9 77.6h0M312.0 55.1h0M316.2 60.9h0M309.9 57.9h0M316.2 72.0h0M309.7 64.5h0M311.3 81.3h0M308.7 61.3h0M310.3 58.6h0M312.4 74.5h0M307.4 75.9h0M308.8 58.5h0M312.0 82.3h0M310.8 83.1h0M320.1 81.1h0M313.2 82.6h0M309.2 71.0h0M319.7 83.0h0M308.7 56.3h0M315.1 72.1h0M311.0 82.7h0M307.8 55.6h0M310.3 62.1h0M318.5 82.5h0M311.9 64.6h0M318.9 79.5h0M312.0 66.4h0M316.0 68.5h0M305.3 76.5h0" stroke="#4df3ce"/>
<path d="M326.3 78.0h0M334.7 86.3h0M330.2 92.4h0M334.3 61.8h0M332.4 81.8h0M337.7 66.1h0M336.5 73.2h0M326.0 74.3h0M327.8 60.8h0M327.8 73.7h0M335.7 100.9h0M329.6 73.6h0M334.2 89.1h0M338.9 74.1h0M335.6 77.1h0M327.0 64.3h0M327.8 62.3h0M336.4 69.6h0M332.5 71.4h0M341.7 67.4h0M334.5 62.7h0M339.3 65.5h0M329.5 87.3h0M326.0 80.6h0M330.2 76.0h0M329.9 73.6h0M331.9 73.6h0M334.2 60.4h0M327.8 80.9h0M327.7 73.4h0M336.4 75.8h0M328.7 74.5h0M329.7 76.0h0M339.4 67.9h0M330.5 86.6h0M334.7 95.4h0M329.3 82.3h0M329.9 66.3h0M331.7 96.7h0M327.2 69.3h0M334.8 61.4h0M329.8 84.5h0M331.5 99.2h0M335.0 89.8h0M338.8 69.2h0M333.3 69.8h0M329.5 89.5h0M333.0 89.3h0M339.5 71.1h0M334.2 99.0h0" stroke="#4df3ce"/>
<path d="M481.1 74.2h0M484.2 79.6h0M482.4 75.8h0M480.9 82.7h0M480.7 76.7h0M482.0 74.8h0M481.2 77.7h0M480.0 81.9h0M480.1 73.8h0M479.9 73.9h0M480.7 83.9h0M483.3 79.1h0M480.9 78.6h0M481.5 78.3h0M480.3 78.9h0M481.8 76.9h0M484.4 79.4h0M479.8 82.2h0M480.9 74.4h0M484.2 75.0h0M479.6 76.1h0M481.5 79.9h0" stroke="#4df3ce"/>
<path d="M470.1 74.0h0M488.5 90.5h0M473.5 95.4h0M482.8 85.2h0M489.8 84.1h0M486.7 89.7h0M474.1 86.2h0M471.5 87.4h0M471.3 89.6h0M471.1 71.7h0M486.9 93.4h0M472.2 86.7h0M485.1 74.5h0M491.4 90.3h0M473.0 75.0h0M488.7 76.3h0M473.2 73.9h0M482.8 75.9h0M471.1 83.3h0M489.4 82.3h0M475.0 90.8h0" stroke="#4df3ce"/>
<path d="M462.1 116.8h0M466.6 110.7h0M461.1 104.3h0M465.6 111.4h0M460.3 114.2h0M459.3 114.0h0M463.9 115.6h0M465.9 105.3h0M463.8 111.9h0M461.8 106.2h0M466.2 114.3h0M467.0 106.4h0" stroke="#4df3ce"/>
<path d="M492.6 119.3h0M491.8 132.3h0" stroke="#4df3ce"/>
<path d="M316.4 76.0h0M312.1 67.1h0M313.4 77.7h0M309.6 79.5h0M312.1 66.2h0M311.6 68.8h0M308.7 80.9h0M313.4 62.5h0M316.1 65.1h0M314.2 58.0h0M314.5 67.5h0M314.1 58.0h0M315.3 67.5h0M308.8 56.0h0M311.1 56.8h0M312.6 70.1h0M312.7 71.5h0M306.2 72.4h0" stroke="#b3f396"/>
<path d="M399.4 98.9h0M399.4 56.9h0" stroke="#b3f396"/>
<path d="M473.8 93.4L472.3 111.0L473.2 130.0L476.6 141.4L479.3 126.2L479.3 98.8L477.8 91.1Z" fill="#b3f396"/>
<path d="M478.8 91.8h0M472.4 118.8h0M471.6 107.4h0M472.2 125.8h0M475.5 91.6h0M479.4 104.7h0M472.9 100.5h0M477.6 101.5h0M476.4 139.9h0M471.3 98.9h0M476.7 91.8h0M476.1 138.4h0M473.3 100.5h0M478.7 110.7h0M472.9 97.1h0M474.6 113.1h0M479.8 108.3h0M479.8 122.6h0M473.3 109.5h0M478.0 133.7h0M474.3 130.7h0M471.2 112.6h0M478.7 121.7h0M471.5 112.1h0M473.5 101.9h0M471.5 112.8h0M472.7 111.7h0M469.7 114.5h0M473.0 96.3h0M470.5 109.5h0M475.3 140.7h0M480.1 100.8h0M473.4 111.1h0M480.2 99.8h0M473.1 106.0h0M472.3 131.5h0M477.1 93.4h0M474.4 136.2h0M473.7 95.4h0M478.9 106.3h0M475.2 136.4h0M473.2 92.8h0M477.1 134.5h0M473.4 137.3h0M478.8 98.7h0M473.0 116.3h0M477.8 140.1h0M476.9 140.7h0M476.4 138.2h0M472.9 99.7h0M472.4 103.8h0M477.7 134.7h0M475.9 136.9h0M480.0 117.4h0M473.2 115.2h0M477.2 139.3h0M478.0 96.8h0M479.8 108.3h0M475.9 95.5h0M472.1 116.3h0M476.5 93.4h0M472.1 121.7h0M478.5 127.8h0M477.9 131.5h0M474.3 96.6h0M476.6 91.4h0M476.9 92.7h0M477.9 121.7h0M478.2 98.6h0M472.8 125.6h0M478.4 126.7h0M477.6 122.6h0M472.8 104.1h0M473.2 95.3h0M474.9 94.1h0M479.5 135.2h0M478.0 130.1h0M472.3 109.5h0M471.6 114.3h0M479.7 111.7h0M477.3 135.0h0M473.1 115.4h0M474.2 132.0h0M473.1 128.1h0M475.4 97.0h0M472.8 127.1h0M472.9 113.4h0M477.9 117.3h0M478.7 94.3h0M473.9 111.1h0M474.8 134.9h0M472.9 100.0h0M477.0 139.4h0M473.0 122.1h0" stroke="#b3f396"/>
<path d="M481.6 75.9h0M473.2 72.5h0M493.0 77.8h0M478.7 85.8h0M471.2 95.5h0M483.3 85.4h0M483.5 81.1h0M474.4 75.9h0M473.5 94.1h0M476.9 73.0h0M484.3 87.0h0M480.7 87.2h0M483.6 72.2h0M492.7 85.3h0M484.4 95.1h0" stroke="#b3f396"/>
<path d="M460.4 114.0h0M461.5 116.5h0M459.5 109.2h0M466.1 118.1h0M462.5 119.6h0M465.9 114.0h0M464.2 117.8h0M462.2 113.6h0M458.6 104.8h0M464.6 104.2h0M465.8 113.7h0M462.9 116.7h0M461.9 119.8h0" stroke="#b3f396"/>
<path d="M446.9 109.1h0M449.1 110.2h0" stroke="#b3f396"/>
<path d="M475.0 129.2L474.7 147.5L478.1 149.0L478.1 129.2Z" fill="#e0c878"/>
<path d="M478.4 147.9h0M476.6 148.7h0M474.3 138.1h0M474.5 138.6h0M477.1 129.3h0M474.4 130.7h0M474.1 134.5h0M474.7 144.1h0M475.7 132.2h0M477.7 143.7h0M474.6 144.1h0M478.2 148.1h0M478.7 148.8h0M479.5 134.8h0M477.6 139.6h0M477.6 139.7h0M474.2 133.9h0M478.3 136.8h0M479.0 143.3h0M477.8 129.0h0M478.2 145.2h0M477.0 141.1h0M477.7 135.5h0M477.4 130.5h0M475.4 143.6h0M475.3 139.1h0M477.9 131.1h0M477.3 146.8h0M478.5 143.6h0M474.2 134.3h0M474.5 142.8h0M477.9 133.8h0M478.5 133.8h0M475.7 130.3h0M478.4 133.2h0M479.0 130.7h0M477.2 136.2h0M477.6 136.6h0M475.5 136.7h0M478.4 148.1h0" stroke="#e0c878"/>
<path d="M491.5 88.9L490.6 115.5L493.6 112.5L494.2 91.9Z" fill="#e0c878"/>
<path d="M491.0 94.3h0M490.8 97.2h0M494.5 96.0h0M494.7 92.3h0M495.5 106.3h0M494.2 105.0h0M490.4 96.1h0M493.4 100.7h0M490.8 89.3h0M492.3 92.6h0M491.0 88.3h0M489.8 96.2h0M493.1 111.8h0M491.3 108.8h0M491.3 99.4h0M495.0 101.4h0M494.4 98.6h0M491.1 109.6h0M490.4 105.4h0M490.8 102.0h0M491.8 89.1h0M489.8 114.4h0M492.6 91.7h0M490.4 115.5h0M490.8 106.9h0M491.1 113.7h0M494.4 94.1h0M493.4 110.8h0M490.2 105.2h0M494.5 112.1h0M494.0 110.3h0M494.7 91.0h0M492.2 113.1h0M493.2 104.8h0M493.1 102.1h0M490.2 111.0h0M490.0 113.9h0M489.9 104.0h0M490.6 99.0h0M493.4 107.4h0M490.9 90.1h0M494.6 108.0h0M493.0 108.1h0M491.9 95.6h0M490.3 113.2h0M491.8 89.3h0M493.7 110.8h0M491.0 88.9h0M490.9 109.7h0M492.4 96.2h0" stroke="#e0c878"/>
<path d="M476.1 83.1h0M476.6 82.6h0M476.5 94.9h0M485.3 95.7h0M472.4 87.6h0M471.2 84.6h0M483.7 78.2h0M474.0 86.6h0" stroke="#e0c878"/>
<path d="M564.2 148.3h0M572.9 56.9h0M566.5 142.2h0" stroke="#e0c878"/>
<path d="M311.2 66.0h0M315.9 78.7h0M306.0 64.8h0M309.5 58.3h0M311.6 78.3h0M312.3 66.6h0M312.5 64.5h0M310.6 62.7h0M305.0 80.8h0M311.8 71.2h0M310.5 61.7h0M316.8 77.7h0M309.4 75.1h0M308.9 80.3h0M306.3 73.7h0M307.5 78.5h0M318.8 82.7h0M305.4 74.6h0M312.2 56.1h0M317.6 68.3h0M307.4 83.5h0M318.5 78.0h0M309.2 61.9h0M315.1 77.4h0M311.5 76.5h0M308.9 77.0h0M318.1 77.7h0M306.0 78.0h0M315.8 76.3h0M318.6 75.5h0M316.7 63.9h0M307.7 58.2h0" stroke="#ff9a52"/>
<path d="M406.0 77.4h0M404.6 80.9h0M401.2 104.0h0M373.7 113.1h0" stroke="#ff9a52"/>
<path d="M563.4 107.9L562.4 114.8L561.8 129.2L563.1 138.1L565.6 139.3L568.2 132.3L568.6 117.8L566.2 114.8Z" fill="#ff9a52"/>
<path d="M566.0 136.1h0M563.6 137.6h0M562.3 134.2h0M562.8 111.3h0M562.5 126.8h0M562.3 121.3h0M563.5 138.2h0M561.9 118.2h0M568.6 130.3h0M568.1 116.9h0M563.0 112.1h0M562.2 123.8h0M564.9 138.5h0M563.0 112.3h0M565.0 111.0h0M562.8 110.9h0M566.7 114.2h0M568.6 120.6h0M562.3 132.9h0M567.3 127.2h0M567.9 120.9h0M567.6 133.9h0M562.0 123.4h0M565.0 112.6h0M568.4 130.9h0M567.5 133.7h0M568.2 127.1h0M561.8 119.3h0M562.4 115.1h0M567.9 125.1h0M562.5 126.9h0M562.6 132.4h0M562.6 136.5h0M562.1 130.2h0M567.4 135.0h0M563.3 136.6h0M562.3 134.7h0M568.9 124.1h0M562.7 107.6h0M562.1 123.6h0M562.2 123.7h0M565.9 138.5h0M563.1 109.9h0M562.7 125.5h0M562.3 117.1h0M569.4 119.7h0M568.0 116.4h0M562.9 111.8h0M562.6 115.8h0M562.7 112.0h0M561.2 123.8h0M563.2 108.4h0M563.7 109.4h0M562.9 114.4h0M568.3 130.8h0M568.3 125.8h0M562.8 110.0h0M562.4 130.3h0M562.2 115.1h0M567.6 134.9h0" stroke="#ff9a52"/>
<path d="M565.0 141.4h0M565.7 145.2h0M561.9 152.1h0M565.7 152.1h0M559.6 154.8h0M563.4 155.1h0M563.4 106.1h0" stroke="#ff9a52"/>
<path d="M241.0 52.4L241.0 68.9L246.9 74.0L253.7 80.0L262.3 84.3L270.9 86.9L282.9 88.6L293.1 91.1L300.3 92.3L302.6 87.7L302.6 52.4Z" fill="#ff4f29"/>
<path d="M279.4 89.4h0M239.9 65.5h0M240.7 63.1h0M298.7 92.2h0M296.8 91.1h0M258.6 81.3h0M300.0 70.6h0M241.6 60.2h0M249.3 76.2h0M275.5 53.8h0M301.5 58.3h0M241.8 64.2h0M298.8 52.9h0M301.6 67.3h0M278.5 51.5h0M300.2 68.7h0M290.0 55.7h0M243.2 73.3h0M249.3 76.4h0M302.2 50.8h0M263.2 54.1h0M301.4 64.8h0M271.7 51.9h0M304.3 53.3h0M304.8 55.6h0M269.9 88.1h0M240.3 56.7h0M246.7 72.9h0M246.5 74.9h0M265.8 53.0h0M304.3 72.2h0M265.8 53.6h0M287.0 87.0h0M249.9 77.1h0M260.6 84.4h0M268.7 85.9h0M283.9 88.3h0M296.3 52.2h0M303.0 53.3h0M283.0 50.9h0M290.3 90.9h0M303.0 58.2h0M258.8 83.2h0M241.7 62.1h0M242.5 70.5h0M263.6 52.0h0M264.9 86.2h0M247.8 69.8h0M301.5 88.9h0M242.2 71.2h0M272.6 52.6h0M249.4 52.3h0M304.0 75.1h0M246.2 51.0h0M266.6 86.3h0M280.9 52.0h0M279.9 90.3h0M245.1 50.7h0M274.4 51.5h0M302.4 79.8h0M240.8 58.5h0M298.8 52.0h0M255.6 52.2h0M286.0 90.2h0M256.7 82.9h0M260.1 51.2h0M302.8 54.1h0M304.4 52.1h0M286.2 52.5h0M278.7 54.3h0M245.2 53.1h0M250.7 51.7h0M247.7 75.5h0M278.0 54.2h0M244.0 51.5h0M302.7 74.0h0M245.5 51.2h0M251.0 53.4h0M273.2 53.3h0M272.9 88.8h0M266.3 86.0h0M256.7 53.5h0M303.6 66.7h0M254.7 52.4h0M303.9 78.6h0M256.1 80.2h0M250.5 79.2h0M301.9 73.7h0M302.7 72.0h0M302.6 72.6h0M281.3 52.3h0M286.3 51.7h0M301.2 62.0h0M296.1 52.8h0M304.3 86.1h0M264.6 52.1h0M304.8 71.0h0M248.5 75.5h0M241.0 66.2h0M302.3 49.9h0M249.6 75.0h0M250.7 73.2h0M261.1 82.8h0M304.9 85.0h0M249.6 78.2h0M281.6 89.4h0M293.6 52.6h0M300.5 92.3h0M302.2 59.9h0M244.5 49.3h0M243.1 71.1h0M281.6 53.0h0M298.0 90.4h0M268.3 87.8h0M302.4 69.3h0M240.5 61.8h0M242.6 65.1h0M279.5 53.6h0M241.9 63.7h0M278.6 87.5h0M269.3 87.2h0M263.7 85.0h0M241.3 62.7h0M275.1 86.5h0M303.1 83.7h0M241.0 56.0h0M289.4 52.2h0M303.1 87.2h0M273.0 53.0h0M270.3 53.3h0M299.5 52.3h0M271.4 50.8h0M292.7 91.4h0M248.4 74.6h0M266.4 85.9h0M271.4 51.1h0M270.8 87.9h0M302.2 91.0h0M270.6 85.1h0M302.7 77.2h0M275.8 87.6h0M287.4 90.3h0M256.8 81.6h0M268.7 86.6h0M242.0 60.2h0M260.9 83.5h0M285.8 50.8h0M262.4 53.1h0M244.9 54.0h0M304.8 57.0h0M259.5 51.0h0M276.5 53.5h0M303.7 80.1h0M270.7 51.1h0M299.0 51.6h0M241.8 59.0h0M243.9 69.4h0M301.3 58.0h0M304.7 84.8h0M285.8 52.4h0M304.4 54.3h0M266.4 85.7h0M291.3 54.3h0M244.3 52.4h0M301.8 84.8h0M302.3 60.9h0M249.0 77.8h0" stroke="#ff4f29"/>
<path d="M306.2 70.0h0M316.0 66.0h0M315.1 58.2h0M307.4 83.1h0M316.4 74.1h0M305.9 75.8h0M313.1 62.9h0M307.4 75.8h0M317.0 73.4h0M319.3 78.8h0M309.6 82.2h0M305.4 70.9h0M316.2 78.5h0M313.2 82.2h0M312.1 73.6h0M304.6 63.0h0M309.2 75.6h0M306.3 78.5h0M315.9 78.0h0M308.5 58.1h0M319.1 82.1h0M318.1 79.0h0M316.6 68.8h0M310.4 67.2h0M312.8 72.1h0M309.4 69.5h0M308.2 77.9h0M309.2 57.1h0M314.5 63.3h0M310.0 78.7h0M315.0 66.6h0M313.3 77.2h0M307.7 70.7h0M305.9 62.5h0M308.4 72.0h0M317.2 71.5h0M315.7 62.1h0M309.5 75.1h0M315.6 69.5h0M306.4 80.7h0M308.6 62.1h0M309.4 58.7h0M304.9 82.0h0M307.7 71.3h0M314.9 74.3h0M312.4 77.2h0M306.4 67.5h0M311.3 71.5h0M310.7 67.6h0M310.7 68.2h0M317.5 74.5h0" stroke="#ff4f29"/>
<path d="M306.0 83.4L308.6 94.6L315.4 98.9L324.0 99.7L328.3 96.3L325.7 88.6L320.6 83.4L313.7 81.7Z" fill="#ff4f29"/>
<path d="M314.3 81.2h0M306.4 89.0h0M314.1 96.2h0M307.9 92.1h0M326.7 94.6h0M318.4 84.4h0M319.8 98.0h0M316.4 98.7h0M320.9 98.3h0M318.4 99.3h0M328.1 95.1h0M327.6 89.8h0M311.8 96.7h0M320.1 83.9h0M324.5 99.3h0M309.9 95.7h0M315.5 100.3h0M320.5 99.7h0M321.1 82.6h0M310.9 85.6h0M327.8 95.2h0M315.2 99.6h0M318.5 98.0h0M328.5 96.9h0M316.8 97.7h0M305.7 82.3h0M306.9 88.5h0M316.0 82.2h0M312.1 97.9h0M318.6 97.1h0M325.0 85.3h0M308.3 90.7h0M310.7 96.9h0M326.3 93.0h0M307.2 82.1h0M307.6 86.2h0M316.8 83.3h0M319.4 98.6h0M308.1 91.7h0M306.2 81.7h0M314.1 98.6h0M308.5 83.6h0M318.8 100.4h0M310.3 83.2h0M325.4 88.8h0M309.0 94.2h0M308.6 95.7h0M324.0 97.6h0M312.3 82.0h0M317.6 82.5h0M306.4 91.1h0M307.2 93.7h0M325.5 88.1h0M318.3 83.3h0M325.1 88.9h0M307.9 94.0h0M319.1 98.9h0M321.9 99.0h0" stroke="#ff4f29"/>
<path d="M333.2 101.0h0M333.2 65.6h0M335.0 80.1h0M332.0 60.3h0" stroke="#ff4f29"/>
<path d="M340.3 75.7h0M342.0 99.7h0M342.9 90.3h0" stroke="#ff4f29"/>
<path d="M345.4 53.8L344.6 75.7L345.4 94.6L349.7 104.0L358.3 109.1L368.6 108.3L375.4 103.1L377.2 92.9L377.2 53.8Z" fill="#ff4f29"/>
<path d="M356.6 107.5h0M376.2 97.9h0M374.5 104.6h0M367.9 109.4h0M375.9 98.1h0M342.3 55.6h0M346.7 99.6h0M375.1 63.6h0M345.9 55.2h0M355.9 109.0h0M349.5 54.4h0M350.3 52.5h0M372.9 54.1h0M350.7 53.5h0M345.0 63.4h0M376.6 82.2h0M356.5 110.8h0M345.0 91.1h0M349.1 54.3h0M378.3 55.5h0M376.7 54.9h0M345.6 72.0h0M372.9 54.2h0M373.0 105.6h0M376.1 103.3h0M363.5 52.7h0M343.4 78.3h0M344.5 73.9h0M375.6 66.5h0M369.4 53.3h0M345.6 61.4h0M346.2 93.6h0M375.9 89.7h0M344.3 75.1h0M350.6 100.3h0M358.4 53.8h0M358.9 109.3h0M377.7 63.0h0M378.1 101.0h0M370.6 108.4h0M376.2 99.0h0M347.4 98.5h0M378.9 85.9h0M366.2 108.2h0M365.2 54.2h0M345.9 68.3h0M348.8 55.3h0M343.7 59.2h0M343.7 69.0h0M352.0 103.2h0M345.0 73.4h0M344.0 93.7h0M350.8 53.3h0M377.3 54.2h0M345.6 53.4h0M346.3 89.8h0M377.3 82.5h0M346.3 55.2h0M346.5 95.8h0M378.4 54.5h0M378.8 85.2h0M377.4 82.9h0M345.0 73.9h0M345.6 67.2h0M376.1 54.5h0M350.5 53.4h0M377.9 91.2h0M364.1 106.8h0M377.9 81.7h0M348.4 104.7h0M344.2 57.0h0M377.8 85.5h0M377.0 82.6h0M375.0 100.7h0M376.1 59.9h0M346.8 92.5h0M355.4 54.3h0M379.5 81.8h0M376.5 74.9h0M377.8 74.1h0M376.5 54.9h0M345.0 71.3h0M344.2 57.7h0M355.1 52.9h0M370.9 105.7h0M372.6 105.7h0M344.9 54.8h0M375.8 82.6h0M357.2 53.3h0M344.7 57.2h0M376.9 78.1h0M370.5 106.1h0M347.0 62.8h0M377.7 97.0h0M358.7 52.5h0M377.6 54.5h0M375.6 54.4h0M367.0 53.7h0M342.2 63.0h0M377.6 83.3h0M377.6 91.4h0M344.3 77.9h0M375.6 75.3h0M379.4 60.5h0M378.0 95.1h0M344.7 66.2h0M345.5 53.2h0M374.1 105.0h0M376.3 69.1h0M364.7 107.7h0M343.0 79.4h0M344.6 67.7h0M346.5 95.6h0M342.5 67.8h0M379.0 58.5h0M375.4 83.4h0M376.9 100.7h0M343.8 76.8h0M375.3 91.5h0M373.8 104.5h0M345.1 57.7h0M347.5 52.8h0M345.4 78.5h0M375.9 52.5h0M377.0 66.0h0M376.8 93.5h0M344.5 95.4h0M346.2 64.9h0M372.2 103.0h0M343.8 66.5h0M375.5 97.0h0M344.7 88.8h0M358.1 52.0h0M346.4 98.0h0M356.8 108.1h0M352.4 52.7h0M347.3 97.8h0M370.7 53.4h0M352.6 52.9h0M364.6 107.6h0M367.6 53.1h0M345.7 53.5h0M377.6 77.9h0M360.9 54.8h0M350.3 55.4h0M343.2 63.0h0" stroke="#ff4f29"/>
<path d="M379.7 53.8L379.2 84.3L378.9 106.6L383.2 111.7L390.9 112.6L396.0 108.3L396.9 84.3L396.4 63.7L394.3 53.8Z" fill="#ff4f29"/>
<path d="M396.5 62.0h0M392.2 111.3h0M379.0 86.9h0M386.4 111.6h0M380.6 104.3h0M394.7 72.4h0M395.6 61.7h0M387.3 54.5h0M388.8 110.4h0M379.0 67.6h0M396.1 78.4h0M379.7 91.3h0M379.0 95.8h0M394.9 66.1h0M398.4 93.8h0M388.8 111.7h0M378.3 96.7h0M398.2 64.7h0M393.3 110.5h0M398.6 88.5h0M380.2 108.6h0M395.5 71.0h0M377.0 61.4h0M379.0 91.5h0M396.0 87.1h0M394.2 84.0h0M394.3 110.4h0M395.6 94.2h0M380.3 77.9h0M390.3 111.7h0M391.2 114.6h0M395.5 97.4h0M379.7 85.8h0M379.9 99.2h0M389.7 112.2h0M384.0 110.1h0M388.7 112.9h0M377.7 75.9h0M378.7 69.1h0M395.5 97.5h0M395.6 70.8h0M379.9 66.7h0M398.6 69.2h0M391.0 54.9h0M396.3 86.9h0M395.5 79.0h0M397.3 102.5h0M379.8 97.2h0M395.4 81.4h0M393.8 87.9h0M380.8 84.5h0M396.0 83.4h0M379.0 105.0h0M395.1 60.2h0M390.8 113.9h0M398.7 105.9h0M393.5 54.4h0M397.9 67.3h0M379.2 78.6h0M380.5 65.3h0M390.3 111.9h0M378.9 85.0h0M389.8 113.3h0M378.9 97.9h0M393.9 58.3h0M396.2 65.4h0M388.5 52.8h0M379.8 99.5h0M378.3 59.6h0M398.2 103.6h0M397.2 62.3h0M395.0 53.8h0M378.2 66.4h0M378.1 62.5h0M379.2 87.9h0M397.1 106.6h0M387.6 54.8h0M389.9 110.9h0M380.3 108.2h0M378.4 64.3h0M381.6 74.6h0M379.7 80.6h0M379.2 66.7h0M396.4 89.6h0M378.5 101.1h0M399.3 92.8h0M378.5 83.5h0M387.2 113.9h0M398.4 67.9h0M387.8 112.0h0M375.8 94.9h0M379.6 60.7h0M396.3 98.5h0M393.4 111.3h0M381.8 56.0h0M378.1 66.7h0M380.4 58.7h0M383.6 54.4h0M397.7 96.5h0M397.2 73.0h0M397.7 85.6h0M397.2 109.4h0M378.6 68.1h0M380.9 76.6h0M395.5 76.3h0M396.1 57.8h0M378.2 84.5h0M391.2 54.7h0M391.3 52.6h0M379.3 106.4h0M397.1 81.0h0M381.6 63.2h0M381.1 59.5h0M395.9 67.0h0M396.4 101.0h0M384.6 113.5h0M396.8 80.7h0M396.3 85.1h0M396.6 106.6h0M375.7 90.2h0M382.5 53.9h0M379.5 74.2h0M397.4 109.7h0M380.4 105.3h0M380.3 63.9h0M384.5 55.7h0M394.9 108.5h0M393.1 109.3h0M380.0 53.2h0M379.3 71.3h0" stroke="#ff4f29"/>
<path d="M399.4 92.9h0M400.3 88.1h0" stroke="#ff4f29"/>
<path d="M485.7 80.5L481.1 89.6L478.9 100.3L478.1 114.0L477.3 129.2L478.1 144.5L480.4 147.5L484.2 141.4L488.0 136.9L489.5 126.2L491.8 117.0L491.8 103.3L492.6 92.7L491.0 85.0L488.8 81.2Z" fill="#ff4f29"/>
<path d="M483.2 143.7h0M481.6 146.0h0M478.0 138.3h0M484.7 140.3h0M478.6 127.9h0M485.8 81.5h0M478.6 142.3h0M483.8 139.8h0M477.6 129.8h0M479.9 115.1h0M486.2 138.5h0M483.3 144.9h0M476.7 139.7h0M493.3 96.0h0M478.2 138.7h0M477.8 108.1h0M478.1 115.1h0M488.8 130.6h0M492.0 107.2h0M489.1 133.2h0M492.2 100.0h0M489.2 129.7h0M492.7 99.2h0M477.3 134.8h0M492.9 95.9h0M478.6 115.1h0M481.2 93.7h0M482.4 147.5h0M478.2 113.5h0M478.6 118.4h0M476.7 119.0h0M478.9 112.0h0M476.9 136.3h0M479.7 103.5h0M488.7 127.9h0M483.0 145.9h0M483.3 142.0h0M478.3 132.7h0M492.6 105.9h0M478.0 118.5h0M477.1 134.9h0M493.2 98.3h0M478.1 140.5h0M478.9 115.1h0M490.6 116.6h0M490.2 81.7h0M476.8 130.4h0M492.6 100.3h0M478.3 137.8h0M479.1 103.4h0M477.1 139.1h0M482.9 85.8h0M480.5 87.6h0M491.0 125.8h0M481.3 146.6h0M488.2 136.5h0M479.4 97.0h0M479.5 146.2h0M487.2 135.7h0M481.3 89.6h0M477.0 139.5h0M478.8 142.3h0M479.2 100.3h0M477.5 133.3h0M480.1 98.1h0M486.5 80.6h0M490.6 121.2h0M479.2 99.1h0M478.3 122.4h0M491.5 90.1h0M484.1 142.2h0M492.0 118.0h0M478.5 113.5h0M477.7 111.6h0M489.9 125.6h0M477.9 138.9h0M481.8 92.3h0M480.9 87.0h0M488.4 132.5h0M477.7 140.2h0M479.2 101.9h0M478.3 126.9h0M477.2 107.5h0M481.2 144.8h0M478.1 143.0h0M490.4 121.3h0M481.5 92.8h0M480.1 144.7h0M478.3 116.1h0M476.6 111.8h0M476.8 146.1h0M493.4 96.2h0M478.4 111.1h0M490.1 87.9h0M490.4 85.8h0M478.2 118.7h0M487.0 80.4h0M480.7 145.7h0M492.1 92.3h0M483.4 143.8h0M492.7 96.4h0M490.6 88.5h0M490.7 105.0h0M489.9 121.3h0M493.5 102.7h0M477.0 130.5h0M492.2 99.2h0M478.4 114.4h0M485.6 81.6h0M488.4 134.3h0M479.9 90.1h0M477.8 141.1h0M478.5 111.5h0M491.0 117.8h0M477.1 117.5h0M492.2 89.6h0M480.6 94.2h0M492.6 116.8h0M478.7 100.2h0M477.0 118.5h0M478.4 105.3h0M488.5 129.1h0M477.7 121.6h0M490.6 125.9h0M484.0 86.9h0M477.6 106.1h0M489.9 124.5h0M491.2 89.8h0M491.4 121.0h0" stroke="#ff4f29"/>
<path d="M448.4 92.4h0M457.8 91.4h0M479.6 52.7h0" stroke="#ff4f29"/>
<path d="M492.6 129.2h0M491.0 138.1h0M493.3 111.7h0" stroke="#ff4f29"/>
<path d="M241.8 54.8h0M298.7 53.1h0M254.0 75.6h0M270.9 53.4h0M284.9 88.4h0M302.5 75.9h0M298.9 74.3h0M248.8 71.2h0M257.0 78.6h0M251.3 58.9h0M296.8 72.2h0M252.9 56.0h0M246.6 61.9h0M248.8 72.5h0M294.2 61.0h0M242.3 53.7h0M296.2 71.3h0M300.9 62.3h0M250.5 73.2h0M248.9 62.4h0M284.0 56.9h0M278.0 52.8h0M280.7 87.7h0M284.4 64.7h0M255.0 53.8h0M254.8 69.0h0M299.4 58.2h0M249.7 54.5h0M241.2 63.6h0M244.0 71.3h0M297.6 60.1h0M296.3 53.6h0M243.5 53.8h0M297.7 62.7h0M296.4 65.9h0M300.0 77.0h0M285.1 65.0h0M299.1 53.4h0M299.8 67.8h0M263.3 83.6h0M246.9 72.3h0M264.0 81.8h0M302.0 56.5h0M297.3 54.0h0M253.6 62.6h0M281.1 60.5h0M252.4 64.9h0M244.9 56.4h0M246.6 58.9h0M285.8 60.5h0M250.0 63.7h0M298.0 56.7h0M301.1 71.7h0M292.1 59.7h0M296.3 54.0h0M268.0 53.3h0M248.9 69.6h0M298.3 55.0h0M253.8 62.9h0M260.7 53.9h0M282.9 88.1h0M289.3 57.0h0M276.7 87.6h0M302.2 77.5h0M260.3 52.5h0M296.2 57.7h0M281.2 53.3h0M253.6 77.3h0M299.0 58.1h0M251.8 64.7h0M254.9 56.6h0M243.4 65.8h0M284.8 63.0h0M267.9 83.9h0M241.9 62.8h0M254.1 77.2h0M297.1 58.2h0M242.8 54.1h0M286.4 55.0h0M247.6 60.6h0M253.6 65.1h0M242.3 62.6h0M272.0 86.4h0M242.9 68.9h0M288.6 66.2h0M251.5 52.5h0M252.4 72.1h0M242.6 60.6h0M296.5 72.4h0M295.5 61.7h0M276.7 57.4h0M295.5 61.9h0M250.5 58.6h0M250.9 65.5h0M301.1 81.5h0M300.3 56.5h0M301.6 84.1h0M280.3 56.7h0M264.9 53.8h0M286.6 88.6h0M279.7 56.3h0M301.0 53.9h0M298.9 73.1h0M299.4 60.8h0M265.2 82.8h0M301.6 66.6h0M241.8 69.1h0M290.4 68.0h0M252.5 52.5h0M280.0 53.0h0M292.7 60.3h0M255.4 58.0h0M244.6 71.0h0M274.2 86.8h0M292.8 67.4h0M300.2 55.4h0M280.2 53.5h0M296.3 53.8h0M294.1 67.0h0M254.0 69.8h0M275.1 85.4h0M292.0 68.5h0M244.1 64.4h0M289.6 88.7h0M282.9 60.9h0M247.2 59.6h0M288.7 88.9h0M298.5 54.6h0M268.5 53.0h0M301.4 71.4h0M254.1 58.5h0M248.9 53.1h0M286.0 55.8h0M285.2 52.9h0M245.9 64.8h0M271.0 54.8h0M301.2 85.6h0M295.7 67.4h0M290.7 63.7h0M298.4 61.7h0M288.6 61.7h0M252.8 59.6h0M250.6 76.2h0M273.0 53.2h0M302.0 87.0h0M256.6 53.9h0M252.1 55.7h0M275.3 87.1h0M299.3 88.7h0M256.8 74.9h0M299.9 79.1h0M254.7 53.9h0M301.7 54.6h0M247.5 65.3h0M248.6 71.6h0M255.7 58.1h0M249.6 70.2h0M249.8 61.2h0M282.2 60.8h0M254.4 75.2h0M284.8 60.2h0M253.7 76.8h0M253.5 55.0h0M292.2 67.0h0M260.8 80.8h0M299.8 72.1h0M254.8 59.7h0M242.9 56.2h0M253.0 53.1h0M285.2 54.2h0M277.5 86.8h0M298.8 67.9h0M288.9 65.9h0M300.0 89.7h0M245.3 69.7h0M288.8 89.8h0M295.5 53.8h0M257.4 79.5h0M299.6 63.9h0M280.9 57.2h0M299.9 72.9h0M250.1 57.3h0M254.6 72.8h0M277.1 52.9h0M294.1 61.9h0M268.1 54.9h0M286.5 58.6h0M284.6 88.9h0M300.3 75.2h0M285.5 64.1h0M292.6 90.7h0M241.7 54.3h0M302.5 73.0h0M247.1 67.3h0M295.2 90.9h0M302.4 66.1h0M291.3 59.2h0M301.3 85.4h0M302.0 87.8h0M250.6 64.0h0M252.2 77.5h0M280.2 54.1h0M289.5 64.6h0M253.1 72.3h0M257.4 78.2h0M302.4 75.3h0M247.6 56.4h0M273.2 85.2h0M290.7 54.9h0M288.5 65.3h0M291.3 64.5h0M285.3 61.2h0M289.8 62.1h0M300.8 64.0h0M248.1 73.7h0M265.8 55.0h0M291.9 66.4h0M252.8 63.7h0M284.5 56.1h0M292.4 57.5h0M250.8 66.5h0M256.2 76.7h0M294.7 57.3h0M249.1 63.4h0M243.5 54.0h0M253.2 64.5h0M243.4 64.8h0M288.8 63.8h0M243.9 62.2h0M287.2 55.8h0M268.9 54.6h0M290.6 62.8h0M300.7 77.8h0M253.4 64.8h0M298.6 66.4h0M295.5 58.1h0M248.1 63.9h0M253.7 54.8h0M287.2 55.8h0M301.4 74.9h0M252.7 74.1h0M292.7 64.2h0M291.8 65.2h0M292.2 62.0h0M250.7 64.4h0M246.5 54.0h0M251.1 64.2h0M253.0 55.8h0M301.0 90.8h0M291.0 54.8h0M295.5 53.5h0M255.0 75.3h0M245.9 68.7h0M244.5 61.9h0M254.1 64.4h0M279.3 87.2h0M262.0 82.9h0M291.9 57.3h0M285.5 54.1h0M282.6 62.6h0M268.5 85.8h0M248.0 53.2h0M290.3 59.8h0M258.9 79.8h0M290.8 90.3h0M290.3 53.8h0M278.6 55.4h0M277.3 54.1h0M262.8 52.6h0M261.6 53.2h0M301.8 54.2h0M257.1 75.1h0M299.9 92.0h0M259.7 82.9h0M266.0 54.8h0M251.4 55.0h0M260.0 81.4h0M276.9 55.6h0M263.0 83.3h0M294.5 55.1h0M296.4 63.4h0M242.4 59.0h0M284.4 61.1h0M280.9 60.2h0M300.3 76.4h0M254.1 65.4h0M244.5 68.9h0M246.8 58.6h0M261.4 82.0h0M301.2 70.5h0M249.1 52.8h0M246.5 53.5h0M298.9 67.0h0M297.8 58.9h0M296.7 56.7h0M254.8 62.5h0M302.2 61.0h0M291.7 63.7h0M276.7 87.6h0M302.3 64.3h0M247.0 59.1h0M283.5 53.9h0M248.4 71.8h0M283.2 58.3h0M297.6 66.3h0M300.6 87.6h0M263.3 52.8h0M301.5 87.3h0M302.5 52.6h0M298.1 62.6h0M289.3 88.6h0M255.4 77.5h0M297.0 71.3h0M273.5 84.9h0M294.5 54.1h0M248.6 58.5h0M242.1 60.4h0M244.6 59.5h0" stroke="#ff9a52"/>
<path d="M296.0 60.4h0M284.3 61.6h0M292.7 57.2h0M259.3 81.9h0M244.8 63.5h0M241.0 68.0h0M255.5 62.3h0M299.9 57.3h0M248.3 60.0h0M253.2 57.5h0M298.1 67.9h0M287.6 58.7h0M249.8 72.4h0M290.1 63.0h0M256.6 77.9h0M257.3 78.0h0M287.0 65.4h0M292.2 62.8h0M295.8 55.8h0M298.4 62.5h0M264.8 83.8h0M250.2 54.2h0M253.0 53.8h0M296.6 57.0h0M253.4 66.9h0M247.0 63.9h0M287.3 54.8h0M284.3 56.5h0M301.4 84.5h0M242.3 58.0h0M250.8 55.1h0M247.7 61.4h0M264.8 54.6h0M256.4 54.2h0M293.7 65.0h0M300.1 72.2h0M284.5 62.8h0M246.3 59.5h0M252.2 57.0h0M289.8 60.8h0M299.3 69.3h0M245.4 52.8h0M251.1 70.1h0M248.0 59.6h0M274.8 56.9h0M287.6 57.0h0M290.5 56.9h0M298.7 66.0h0M253.3 76.5h0M252.6 73.8h0M288.9 62.1h0M294.2 59.7h0M246.6 65.9h0M285.1 87.6h0M247.5 53.2h0M254.6 58.1h0M246.4 68.2h0" stroke="#4df3ce"/>
<path d="M292.8 52.5h0M244.0 56.5h0M255.2 61.2h0M253.8 66.6h0M298.2 59.7h0M296.5 69.3h0M254.7 68.5h0M287.7 53.9h0M302.4 81.6h0M297.4 59.0h0M301.3 71.1h0M294.1 56.0h0M251.4 69.9h0M259.6 80.5h0M285.5 87.5h0M252.3 78.5h0M274.8 57.4h0M249.8 61.7h0M282.2 88.1h0M301.1 78.5h0M243.4 57.1h0M252.5 54.4h0M282.7 58.2h0M301.0 80.5h0M295.7 54.1h0M253.7 62.6h0M250.6 63.2h0M301.8 64.2h0M279.0 86.3h0M294.6 52.6h0M241.2 64.5h0M248.5 58.7h0M265.2 82.2h0M298.2 57.5h0M298.1 59.1h0M285.5 56.5h0M300.1 74.9h0M288.3 56.0h0M288.8 64.7h0M294.5 63.1h0M295.4 66.8h0M243.0 61.8h0M253.2 57.0h0M247.3 66.6h0M270.5 84.3h0" stroke="#e0c878"/>
<path d="M260.5 78.8h0M279.9 83.9h0M288.2 67.6h0M272.9 72.5h0M260.3 73.3h0M272.8 82.0h0M259.7 55.4h0M275.0 82.3h0M261.7 73.2h0M298.1 87.3h0M280.6 69.3h0M268.6 75.7h0M259.7 65.0h0M255.5 67.8h0M261.6 62.1h0M258.8 61.1h0M273.9 63.2h0M282.3 86.0h0M281.9 80.7h0M277.7 60.8h0M267.7 75.6h0M267.4 77.8h0M291.8 72.3h0" stroke="#ff9a52"/>
<path d="M274.8 62.3h0M269.5 77.9h0" stroke="#4df3ce"/>
<path d="M310.8 82.5h0M309.7 71.8h0M307.5 79.6h0M318.1 76.5h0M316.1 75.8h0M310.0 81.9h0M317.8 79.5h0M313.0 74.2h0M316.7 76.8h0M312.6 77.8h0M310.9 79.7h0M312.5 71.6h0M320.2 82.8h0M315.0 73.0h0M318.8 81.5h0M314.7 72.0h0M310.5 72.9h0M313.9 80.0h0M319.6 82.7h0M307.1 83.4h0M312.7 80.8h0M310.0 77.2h0" stroke="#ff9a52"/>
<path d="M319.4 80.4h0M317.5 77.9h0M310.7 75.8h0M317.6 81.9h0M308.1 80.3h0M311.4 75.0h0M311.0 74.7h0M316.9 81.9h0M317.1 77.7h0M310.5 71.7h0M317.8 77.4h0M313.9 75.9h0M307.3 82.4h0M308.0 79.2h0M306.8 70.7h0M317.4 72.6h0M317.2 72.6h0M319.2 80.2h0M317.4 79.3h0M311.3 81.9h0M313.7 82.9h0M319.1 79.7h0M311.4 83.3h0M306.7 72.2h0M314.3 74.7h0M318.2 77.8h0M310.5 78.3h0M318.1 71.6h0M311.0 72.2h0M309.2 70.9h0M306.8 77.4h0M315.8 77.8h0M310.4 80.0h0M316.4 76.6h0M310.2 71.1h0M313.1 72.8h0M316.8 83.2h0M306.1 75.1h0M310.9 82.2h0M314.6 81.2h0M311.4 83.4h0M306.4 82.7h0M314.2 75.2h0M309.7 81.1h0M312.1 82.7h0M311.4 78.0h0M316.3 79.0h0M316.2 75.1h0" stroke="#ff4f29"/>
<path d="M318.4 98.3h0M313.7 97.6h0M309.3 95.2h0M314.6 98.4h0M314.5 97.5h0M314.1 98.2h0M310.7 96.1h0M314.7 98.8h0" stroke="#4df3ce"/>
<path d="M320.3 99.8h0M312.3 97.0h0M313.6 98.5h0M316.9 98.8h0" stroke="#8000ff"/>
<path d="M370.4 106.2h0M366.4 63.7h0M346.5 57.2h0M372.5 83.3h0M375.8 69.1h0M360.2 61.6h0M346.1 89.7h0M375.7 64.3h0M368.1 56.0h0M356.5 105.1h0M367.7 69.9h0M347.4 60.0h0M350.6 63.9h0M355.7 104.0h0M352.6 63.9h0M359.0 58.9h0M375.4 74.5h0M361.3 67.8h0M371.9 55.2h0M347.2 80.7h0M371.3 65.0h0M345.6 58.3h0M360.8 60.0h0M375.3 75.4h0M372.0 74.7h0M362.6 64.9h0M368.6 62.8h0M364.6 108.6h0M360.1 65.8h0M347.0 85.9h0M367.5 63.4h0M375.6 70.1h0M371.5 96.0h0M373.1 55.6h0M375.5 81.9h0M367.1 60.0h0M374.9 95.9h0M356.1 59.2h0M372.8 63.9h0M372.6 64.1h0M372.9 75.5h0M375.9 65.2h0M361.5 56.1h0M361.3 63.4h0M374.1 78.4h0M364.1 60.0h0M365.7 58.7h0M364.7 104.1h0M350.6 64.1h0M371.0 57.3h0M373.0 84.8h0M369.5 69.2h0M350.1 100.2h0M356.3 58.5h0M373.8 85.0h0M350.1 71.5h0M363.6 61.5h0M369.1 54.7h0M347.0 82.0h0M363.8 68.1h0M352.2 103.3h0M373.3 94.5h0M365.2 60.0h0M354.0 104.1h0M373.4 70.6h0M372.6 102.6h0M375.9 85.5h0M372.2 92.4h0M366.3 54.2h0M376.2 65.2h0M370.6 101.8h0M375.0 74.4h0M375.6 83.9h0M348.2 54.1h0M348.0 99.4h0M375.8 91.3h0M367.8 71.4h0M348.8 71.8h0M363.0 61.2h0M360.1 54.6h0M376.9 87.9h0M373.4 91.9h0M376.9 93.8h0M372.3 59.7h0M370.2 96.7h0M346.6 80.3h0M353.8 69.0h0M377.0 70.6h0M345.1 67.8h0M366.8 62.3h0M355.4 58.8h0M372.1 89.8h0M371.3 58.3h0M369.2 56.4h0M365.7 61.9h0M366.5 66.6h0M351.5 102.0h0M351.6 54.1h0M373.0 93.6h0M366.8 60.4h0M374.7 62.6h0M370.8 71.5h0M370.9 76.8h0M369.6 63.5h0M355.7 63.6h0M358.0 67.5h0M369.2 102.4h0M346.3 69.5h0M376.6 61.8h0M369.0 63.7h0M345.9 84.3h0M349.8 61.6h0M355.6 56.1h0M369.5 64.8h0M367.5 62.4h0M345.9 79.6h0M366.9 64.7h0M373.9 73.8h0M365.8 105.0h0M360.6 55.6h0M357.4 66.0h0M369.0 102.8h0M372.2 60.7h0M355.9 60.1h0M350.8 58.8h0M362.0 57.9h0M375.2 72.7h0M349.3 65.9h0M367.7 105.6h0M375.7 77.4h0M348.3 70.4h0M361.7 55.5h0M347.6 80.3h0M377.2 56.4h0M370.0 60.0h0M356.3 107.8h0M364.3 68.0h0M363.0 58.8h0M376.8 75.9h0M367.8 64.8h0M345.1 64.4h0M349.5 58.4h0M375.9 91.0h0M348.7 57.9h0M350.3 103.5h0M373.8 93.1h0M346.0 89.0h0M374.7 88.3h0M362.5 61.0h0M357.0 61.3h0M346.6 87.4h0M374.8 54.6h0M358.3 54.4h0M371.0 97.7h0M348.4 66.2h0M348.0 95.4h0M350.1 102.3h0M377.1 61.5h0M345.2 67.0h0M372.2 59.5h0M370.9 56.6h0M351.7 60.5h0M348.9 69.6h0M374.8 95.5h0M351.3 67.9h0M366.4 106.3h0M360.4 61.5h0M366.4 106.8h0M364.0 66.1h0M371.2 77.9h0M370.0 102.7h0M367.8 65.7h0M346.6 88.7h0M372.6 54.8h0M345.2 84.5h0M346.9 90.1h0M365.5 105.8h0M376.1 95.6h0M346.5 83.6h0M368.0 72.7h0M366.8 103.8h0M371.9 68.7h0M358.0 55.3h0M345.5 67.4h0M365.8 63.4h0M347.3 90.1h0M369.3 105.6h0M372.3 66.5h0M365.0 56.8h0M375.0 69.4h0M348.8 66.2h0M366.6 102.8h0M345.5 60.0h0M373.4 102.7h0M350.0 103.7h0M369.5 57.5h0M370.5 71.6h0M376.2 74.0h0M377.1 77.4h0M354.6 105.3h0M375.2 96.8h0M364.3 55.7h0M368.1 65.8h0M377.1 69.3h0M373.8 82.8h0M371.7 103.0h0M376.8 75.4h0M371.7 73.9h0M373.1 74.9h0M365.5 64.0h0M355.2 68.3h0M374.2 103.3h0M354.7 67.7h0M348.1 68.6h0M375.2 63.3h0M349.5 56.2h0M368.2 61.2h0M367.1 62.7h0M346.4 58.7h0M371.9 70.4h0M366.7 107.1h0M370.3 64.2h0M369.8 60.2h0M366.7 66.0h0M375.6 58.8h0M351.0 100.5h0M360.5 56.7h0M353.2 67.7h0M356.4 58.1h0M369.8 60.3h0M374.4 56.9h0M351.8 55.4h0M345.0 83.0h0M347.6 56.9h0M357.7 63.0h0M373.2 71.7h0M376.1 58.5h0M373.6 61.9h0M372.3 74.8h0M345.6 65.1h0M374.9 70.9h0M376.4 92.0h0M348.0 74.0h0M347.0 97.4h0M358.6 108.2h0M350.9 59.1h0M358.1 108.9h0M358.6 63.9h0M373.7 71.7h0M366.3 59.0h0" stroke="#ff9a52"/>
<path d="M370.1 69.9h0M358.7 57.1h0M347.5 96.6h0M361.2 106.7h0M353.6 60.5h0M353.9 64.1h0M361.6 54.5h0M353.1 104.0h0M351.3 62.3h0M376.7 74.1h0M362.7 54.3h0M374.0 98.2h0M359.3 61.2h0M376.4 68.2h0M348.3 100.8h0M348.7 73.7h0M348.0 98.0h0M375.7 66.0h0M375.9 74.6h0M350.7 63.4h0M370.3 69.6h0M357.2 63.1h0M347.0 84.3h0M375.3 78.6h0M373.1 84.9h0M356.2 106.7h0M346.6 63.8h0M370.4 72.4h0M355.6 59.5h0M375.0 90.4h0M353.2 68.3h0M372.1 61.6h0M363.2 58.8h0M376.6 79.7h0M371.6 104.6h0M356.2 53.8h0M374.9 57.3h0M348.4 101.1h0M376.6 88.5h0M351.7 67.7h0M374.2 54.3h0M366.4 57.4h0M359.2 62.6h0M375.5 77.1h0M353.4 56.4h0M371.4 60.7h0M365.5 70.7h0" stroke="#4df3ce"/>
<path d="M375.6 72.5h0M359.7 59.2h0M351.9 61.2h0M351.2 55.7h0M360.7 107.2h0M371.9 67.5h0M351.6 68.2h0M347.1 67.9h0M348.8 95.2h0M373.3 82.3h0M355.3 55.1h0M370.9 59.3h0M374.3 58.7h0M347.1 82.0h0M345.3 61.1h0M375.5 87.8h0M376.2 67.8h0M377.0 72.6h0M364.0 107.7h0M368.0 71.6h0M374.4 60.2h0M355.0 104.7h0M360.5 58.9h0M368.6 72.3h0M374.2 63.6h0M365.5 70.4h0M371.7 61.1h0M373.2 104.1h0M373.7 102.1h0M371.3 92.8h0M374.2 103.4h0M345.4 91.9h0M362.3 59.7h0" stroke="#e0c878"/>
<path d="M360.3 78.4h0M361.3 102.5h0M368.5 100.3h0M348.5 80.1h0M357.5 76.7h0M368.7 92.9h0M358.8 100.3h0M356.6 87.2h0M369.7 86.5h0M367.0 79.1h0M364.3 74.8h0M359.6 95.8h0M358.1 87.6h0M353.1 81.3h0M363.5 77.6h0M366.5 75.9h0" stroke="#ff9a52"/>
<path d="M362.8 77.3h0M369.7 84.4h0M351.9 72.7h0M368.9 97.1h0" stroke="#e0c878"/>
<path d="M394.8 73.6h0M393.5 68.8h0M394.1 91.9h0M379.2 98.7h0M383.2 76.5h0M391.0 63.3h0M385.1 62.6h0M383.9 90.2h0M394.5 79.1h0M380.7 84.7h0M387.9 60.1h0M388.0 58.8h0M394.0 88.5h0M390.3 58.7h0M382.1 70.2h0M395.0 62.3h0M393.4 80.2h0M384.9 101.9h0M380.3 95.2h0M387.6 64.6h0M390.7 96.9h0M392.2 101.3h0M383.7 95.6h0M394.4 99.3h0M382.0 92.5h0M387.8 70.0h0M390.7 91.1h0M395.2 89.8h0M394.9 97.7h0M391.8 103.6h0M392.5 61.5h0M382.6 97.6h0M394.9 78.0h0M379.3 78.3h0" stroke="#ff9a52"/>
<path d="M394.0 100.7h0M379.9 80.3h0M390.4 109.6h0M382.7 79.8h0M386.4 62.0h0M379.6 66.8h0M394.4 78.5h0" stroke="#e0c878"/>
<path d="M388.8 90.2h0M380.0 106.4h0M395.2 104.2h0M389.1 83.9h0" stroke="#4df3ce"/>
<path d="M396.1 106.9h0M397.6 95.3h0M397.3 70.3h0M396.0 106.7h0M396.3 84.5h0M394.3 99.9h0M396.9 65.5h0M398.0 61.8h0M394.5 95.3h0M394.7 90.7h0M396.4 73.7h0M396.3 58.3h0M394.4 107.6h0M397.7 83.4h0M394.7 70.0h0M397.0 71.5h0M396.1 89.0h0M394.2 97.2h0M394.1 58.8h0M398.0 65.3h0M394.8 88.4h0M396.7 70.2h0M396.7 99.2h0M394.3 81.5h0M394.9 87.1h0M397.1 66.4h0M395.1 57.7h0M397.3 86.8h0M393.9 67.7h0M393.7 75.9h0M395.9 99.2h0M397.6 99.5h0M396.0 65.6h0M394.2 66.0h0M397.4 101.0h0M395.8 72.6h0M397.6 57.1h0" stroke="#ff9a52"/>
<path d="M397.3 90.1h0M394.6 90.4h0M397.5 92.2h0M395.7 107.1h0M396.5 68.8h0M397.8 88.8h0M395.0 65.8h0M396.1 62.5h0M393.5 68.7h0M396.6 64.9h0M395.4 96.7h0M397.1 72.8h0M396.5 93.3h0" stroke="#4df3ce"/>
<path d="M396.8 58.3h0M393.3 64.3h0M397.1 94.3h0M397.6 98.2h0M394.2 105.9h0M394.0 66.4h0M396.5 66.9h0M396.4 98.9h0M397.4 90.5h0M395.0 73.5h0" stroke="#e0c878"/>
<path d="M267.1 84.0h0M287.6 53.4h0M253.4 54.5h0M262.4 82.3h0M270.9 86.9h0M269.4 53.7h0M242.9 68.1h0M275.0 86.8h0M244.6 70.2h0M245.8 54.6h0M300.4 78.1h0M272.7 53.4h0M290.3 52.8h0M297.1 90.2h0M299.9 89.5h0M256.8 81.5h0M291.2 53.7h0M296.0 53.8h0M301.5 58.0h0M300.6 67.8h0M245.0 52.8h0M300.7 64.9h0M247.2 72.4h0M253.0 79.1h0M260.8 54.5h0" stroke="#2f80f7"/>
<path d="M263.9 54.2h0M263.5 84.4h0M265.1 53.7h0M281.4 54.4h0M249.1 75.5h0M300.7 83.8h0M257.7 80.4h0M269.0 84.7h0M287.2 53.8h0M260.2 54.5h0M282.2 88.4h0M301.0 84.4h0M245.4 71.5h0M259.8 54.2h0M270.3 85.2h0M249.2 52.9h0M244.3 71.2h0M301.1 84.4h0M259.6 82.8h0M288.4 52.7h0M302.2 82.4h0M300.6 56.0h0M302.0 59.4h0M241.9 66.8h0M258.1 52.8h0M242.8 69.9h0M245.6 70.5h0M253.6 78.9h0M254.4 53.8h0M302.6 70.6h0M282.2 53.3h0M247.4 53.1h0M243.2 57.8h0M245.3 52.6h0M283.9 52.6h0M300.7 58.3h0M256.9 54.6h0M260.4 81.2h0M256.6 79.1h0M300.4 54.4h0M300.9 57.1h0M302.1 69.7h0M261.3 81.6h0M246.7 52.6h0M290.3 53.5h0M242.3 60.1h0M301.2 53.9h0M282.9 53.7h0M254.2 78.5h0M273.8 86.5h0M260.3 53.5h0M241.1 54.4h0M241.8 60.5h0M241.9 54.7h0M261.7 82.9h0M296.6 52.5h0M302.2 65.8h0M301.3 69.9h0M241.2 54.1h0M300.5 84.5h0" stroke="#4df3ce"/>
<path d="M272.5 85.3h0M275.8 54.6h0M300.5 79.2h0M300.6 77.7h0M301.4 69.8h0M285.1 53.6h0M241.8 62.8h0M301.5 67.7h0M294.6 54.4h0M257.3 81.7h0M248.7 53.3h0M247.0 72.1h0M301.4 56.8h0" stroke="#8000ff"/>
<path d="M302.5 85.0h0M272.9 52.6h0M259.0 80.8h0M283.9 54.1h0M300.6 66.1h0M295.9 53.0h0M279.5 86.1h0M267.8 85.3h0M277.6 85.8h0M242.0 56.8h0M301.9 60.0h0M241.0 59.4h0M251.0 75.3h0M290.7 54.0h0M302.3 84.5h0M300.9 82.2h0M253.7 52.9h0M251.1 77.6h0M256.5 53.2h0M264.7 84.8h0M297.4 52.5h0M290.1 88.8h0M242.3 61.6h0M248.0 72.1h0M245.0 53.0h0M294.6 90.8h0M282.8 52.9h0M281.8 86.7h0M266.1 54.5h0M273.6 86.3h0M290.3 88.3h0M300.5 60.2h0M257.3 80.8h0M242.2 57.0h0M258.2 53.9h0M286.6 88.0h0M302.0 58.3h0M276.4 52.8h0M261.9 83.6h0M265.8 84.4h0M273.3 85.1h0M298.0 54.5h0M302.5 65.8h0M276.3 52.7h0M300.7 66.8h0M283.5 52.6h0M282.9 54.5h0M269.5 85.2h0M241.5 69.0h0M299.7 92.1h0M250.2 75.9h0M284.9 88.1h0" stroke="#ff9a52"/>
<path d="M375.4 102.7h0M362.1 108.3h0M366.0 108.1h0M346.3 58.3h0M346.4 56.9h0M345.3 62.6h0M357.6 108.4h0M346.6 64.9h0M345.6 66.3h0M357.1 106.6h0M348.3 54.5h0M351.6 55.5h0M345.4 86.2h0M344.9 76.2h0M355.4 54.7h0M375.6 95.9h0M355.2 54.6h0M361.2 107.3h0M351.5 54.7h0M374.0 99.9h0M364.2 107.5h0M376.0 69.3h0M371.1 105.3h0M351.9 55.7h0M346.5 81.6h0M346.4 81.8h0M345.4 65.1h0M360.3 55.2h0" stroke="#ff9a52"/>
<path d="M346.3 80.2h0M354.8 106.7h0M346.1 85.3h0M345.0 77.5h0M349.2 99.8h0M375.0 99.0h0M376.6 70.8h0M376.8 85.2h0M346.9 66.6h0M368.5 54.8h0M346.3 61.0h0M352.6 54.9h0M374.2 99.1h0M362.6 55.4h0M345.4 79.8h0M358.2 107.7h0M346.4 65.8h0M345.8 79.9h0" stroke="#2f80f7"/>
<path d="M358.6 53.9h0M345.4 92.0h0M368.9 106.3h0M346.4 54.4h0M350.6 102.2h0M376.6 53.9h0M353.4 104.3h0M375.7 85.1h0M370.8 55.0h0M345.6 59.5h0M376.7 59.0h0M375.5 78.0h0M376.7 77.9h0M349.8 55.2h0M346.0 60.4h0M375.4 74.4h0M345.4 93.8h0M375.8 56.9h0M353.9 104.2h0M354.7 106.7h0M376.9 72.4h0M376.4 71.4h0M351.6 54.1h0M377.2 70.7h0" stroke="#4df3ce"/>
<path d="M250.5 61.9h0M250.4 71.6h0M243.1 69.1h0M243.8 52.8h0M245.2 52.6h0M243.3 59.1h0M246.6 63.1h0M248.3 66.8h0M246.0 70.4h0M247.2 68.7h0M242.6 67.5h0M244.0 66.1h0M243.1 54.6h0M246.2 64.0h0M247.3 66.4h0M244.3 62.4h0M241.4 68.7h0M246.6 61.9h0M249.5 70.3h0M248.2 52.9h0" stroke="#2f80f7"/>
<path d="M243.0 55.8h0M251.1 70.8h0M247.9 56.5h0M248.4 65.6h0M247.4 64.8h0M247.6 63.4h0M245.0 71.9h0M241.6 60.6h0M242.0 62.4h0M241.0 54.4h0M247.2 58.5h0M245.0 61.1h0M249.1 53.0h0M246.5 62.6h0M243.8 66.3h0M244.5 64.3h0M246.3 65.7h0M250.0 66.5h0M251.7 68.1h0M246.9 71.0h0M250.9 59.7h0M244.7 53.8h0M247.9 55.0h0M245.8 69.6h0M249.6 62.2h0M249.2 70.4h0M248.6 61.0h0M250.6 60.1h0M245.5 63.7h0M244.9 69.9h0M245.1 64.9h0M247.6 65.9h0M246.6 55.6h0M250.5 60.8h0M243.0 64.9h0M246.5 70.5h0M244.4 68.1h0M243.7 54.2h0M241.9 63.0h0M249.7 68.0h0M243.5 52.6h0M246.1 64.8h0M247.1 71.1h0M250.3 62.6h0M244.6 65.3h0" stroke="#4df3ce"/>
<path d="M245.8 61.0h0M241.4 59.4h0M250.4 57.7h0M245.1 61.7h0M244.2 67.6h0M244.9 59.6h0M242.3 66.6h0M247.7 56.1h0M244.4 67.1h0M247.8 69.2h0M245.1 63.4h0M251.1 62.6h0M243.8 70.3h0M241.4 69.0h0M246.3 53.8h0M248.6 55.7h0M245.5 66.7h0M241.1 65.9h0" stroke="#8000ff"/>
<path d="M249.4 59.6h0M245.1 53.2h0M249.9 58.2h0M247.9 69.2h0M247.0 60.8h0M242.2 58.0h0M250.5 56.9h0M244.6 59.5h0M245.5 57.4h0M251.6 67.1h0M242.9 66.3h0M243.4 62.0h0M250.3 56.2h0M246.7 52.7h0M245.8 70.3h0M251.2 69.9h0M247.1 65.6h0M241.3 68.7h0M244.8 68.2h0M249.7 56.7h0M245.8 52.4h0M249.5 58.7h0M249.7 67.0h0M246.9 57.1h0M249.1 54.6h0M242.2 67.5h0M243.0 61.2h0M244.3 67.8h0M243.3 66.3h0" stroke="#ff9a52"/>
<path d="M244.7 61.4h0M247.7 53.1h0M244.2 58.4h0M251.0 71.2h0M243.5 54.4h0M245.8 66.9h0M244.4 54.0h0M245.1 71.4h0" stroke="#e0c878"/>
</g>
<text x="551.5" y="45.5" text-anchor="middle" font-size="22.9">SAETTA Lightning Mapping Array - 15/09/13</text>
<text class="t n" x="219.6" y="52.2">15</text><text class="t n" x="219.6" y="87.2">10</text><text class="t n" x="219.6" y="122.0">5</text><text class="t n" x="219.6" y="157.0">0</text><text x="185.6" y="104.9" font-size="11.8">Km</text>
<text class="t n" x="753.0" y="667.2">0</text><text class="t n" x="789.2" y="667.2">5</text><text class="t n" x="825.6" y="667.2">10</text><text class="t n" x="862.6" y="667.2">15</text><text x="806.8" y="675.9" font-size="11.8">Km</text>
<text class="t" x="766.4" y="84.0" xml:space="preserve" style="white-space:pre"> 6  :   112911</text><text class="t" x="766.4" y="94.4" xml:space="preserve" style="white-space:pre;fill:#f00"> 7  :    50762</text><text class="t" x="766.4" y="104.8" xml:space="preserve" style="white-space:pre"> 8  :    11141</text><text class="t" x="766.4" y="115.2" xml:space="preserve" style="white-space:pre"> 9  :     4039</text><text class="t" x="766.4" y="125.6" xml:space="preserve" style="white-space:pre">10  :      934</text><text class="t" x="766.4" y="136.0" xml:space="preserve" style="white-space:pre">11  :        0</text><text class="t" x="766.4" y="146.4" xml:space="preserve" style="white-space:pre">12  :        0</text>
<text class="t" x="234" y="654.8" text-anchor="end">40<tspan dx="-0.6">°</tspan><tspan dx="-0.6">N</tspan></text><text class="t" x="234" y="607.0" text-anchor="end">40.5<tspan dx="-0.6">°</tspan><tspan dx="-0.6">N</tspan></text><text class="t" x="234" y="558.8" text-anchor="end">41<tspan dx="-0.6">°</tspan><tspan dx="-0.6">N</tspan></text><text class="t" x="234" y="510.2" text-anchor="end">41.5<tspan dx="-0.6">°</tspan><tspan dx="-0.6">N</tspan></text><text class="t" x="234" y="461.3" text-anchor="end">42<tspan dx="-0.6">°</tspan><tspan dx="-0.6">N</tspan></text><text class="t" x="234" y="412.0" text-anchor="end">42.5<tspan dx="-0.6">°</tspan><tspan dx="-0.6">N</tspan></text><text class="t" x="234" y="362.3" text-anchor="end">43<tspan dx="-0.6">°</tspan><tspan dx="-0.6">N</tspan></text><text class="t" x="234" y="312.2" text-anchor="end">43.5<tspan dx="-0.6">°</tspan><tspan dx="-0.6">N</tspan></text><text class="t" x="234" y="261.7" text-anchor="end">44<tspan dx="-0.6">°</tspan><tspan dx="-0.6">N</tspan></text><text class="t" x="234" y="210.7" text-anchor="end">44.5<tspan dx="-0.6">°</tspan><tspan dx="-0.6">N</tspan></text>
<text class="t" x="241.1" y="667.2" text-anchor="middle">5<tspan dx="-0.6">°</tspan><tspan dx="-0.6">E</tspan></text><text class="t" x="277.6" y="667.2" text-anchor="middle">5.5<tspan dx="-0.6">°</tspan><tspan dx="-0.6">E</tspan></text><text class="t" x="314.1" y="667.2" text-anchor="middle">6<tspan dx="-0.6">°</tspan><tspan dx="-0.6">E</tspan></text><text class="t" x="350.6" y="667.2" text-anchor="middle">6.5<tspan dx="-0.6">°</tspan><tspan dx="-0.6">E</tspan></text><text class="t" x="387.1" y="667.2" text-anchor="middle">7<tspan dx="-0.6">°</tspan><tspan dx="-0.6">E</tspan></text><text class="t" x="423.6" y="667.2" text-anchor="middle">7.5<tspan dx="-0.6">°</tspan><tspan dx="-0.6">E</tspan></text><text class="t" x="460.1" y="667.2" text-anchor="middle">8<tspan dx="-0.6">°</tspan><tspan dx="-0.6">E</tspan></text><text class="t" x="496.6" y="667.2" text-anchor="middle">8.5<tspan dx="-0.6">°</tspan><tspan dx="-0.6">E</tspan></text><text class="t" x="533.1" y="667.2" text-anchor="middle">9<tspan dx="-0.6">°</tspan><tspan dx="-0.6">E</tspan></text><text class="t" x="569.6" y="667.2" text-anchor="middle">9.5<tspan dx="-0.6">°</tspan><tspan dx="-0.6">E</tspan></text><text class="t" x="606.1" y="667.2" text-anchor="middle">10<tspan dx="-0.6">°</tspan><tspan dx="-0.6">E</tspan></text><text class="t" x="642.6" y="667.2" text-anchor="middle">10.5<tspan dx="-0.6">°</tspan><tspan dx="-0.6">E</tspan></text><text class="t" x="679.1" y="667.2" text-anchor="middle">11<tspan dx="-0.6">°</tspan><tspan dx="-0.6">E</tspan></text><text class="t" x="715.6" y="667.2" text-anchor="middle">11.5<tspan dx="-0.6">°</tspan><tspan dx="-0.6">E</tspan></text>
<rect x="158.2" y="690.3" width="787.2" height="38" fill="url(#rb)" stroke="#000" stroke-width="1"/>
<text class="t n" x="158.2" y="742.9" text-anchor="middle">0</text><text class="t n" x="315.6" y="742.9" text-anchor="middle">2</text><text class="t n" x="473.1" y="742.9" text-anchor="middle">4</text><text class="t n" x="630.5" y="742.9" text-anchor="middle">6</text><text class="t n" x="788.0" y="742.9" text-anchor="middle">8</text><text class="t n" x="945.8" y="742.9" text-anchor="middle">10</text><path d="M158.2 728.3V732.6M315.6 728.3V732.6M473.1 728.3V732.6M630.5 728.3V732.6M788.0 728.3V732.6M945.4 728.3V732.6" stroke="#000" stroke-width="1" fill="none"/>
<text x="557.5" y="718.7" text-anchor="middle" font-size="18.75">from 04:40:00 to 04:49:59</text>
</svg></body></html>
